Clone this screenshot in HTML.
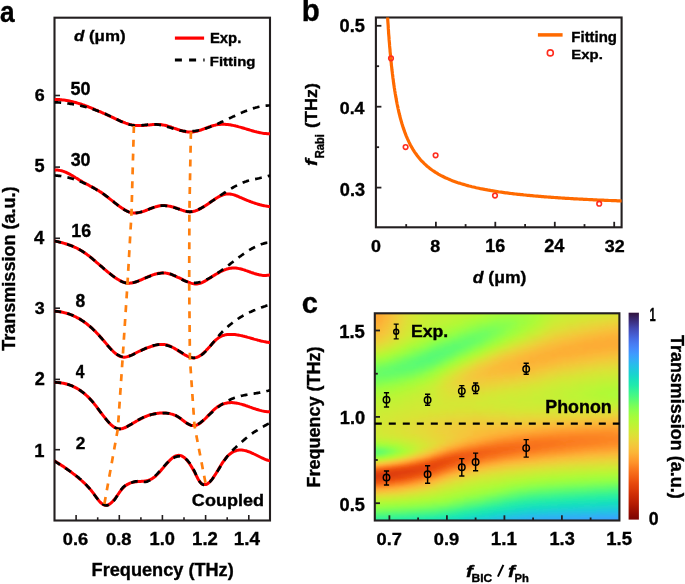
<!DOCTYPE html>
<html><head><meta charset="utf-8"><title>fig</title><style>
html,body{margin:0;padding:0;background:#fff;width:685px;height:584px;overflow:hidden;}
svg{display:block;will-change:transform;}
text{font-family:"Liberation Sans",sans-serif;stroke:#000;stroke-width:0.35px;}
</style></head><body>
<svg width="685" height="584" viewBox="0 0 685 584">
<defs>
<clipPath id="clipA"><rect x="54.5" y="17.7" width="215.5" height="502.8"/></clipPath>
<clipPath id="clipB"><rect x="375.9" y="17.5" width="245.7" height="209.8"/></clipPath>
</defs>
<rect x="54.5" y="17.7" width="215.5" height="502.8" fill="none" stroke="#231f20" stroke-width="2.1"/>
<line x1="54.5" y1="449.7" x2="60.0" y2="449.7" stroke="#231f20" stroke-width="1.6"/>
<line x1="54.5" y1="379.4" x2="60.0" y2="379.4" stroke="#231f20" stroke-width="1.6"/>
<line x1="54.5" y1="308.2" x2="60.0" y2="308.2" stroke="#231f20" stroke-width="1.6"/>
<line x1="54.5" y1="238.3" x2="60.0" y2="238.3" stroke="#231f20" stroke-width="1.6"/>
<line x1="54.5" y1="167.1" x2="60.0" y2="167.1" stroke="#231f20" stroke-width="1.6"/>
<line x1="54.5" y1="95.5" x2="60.0" y2="95.5" stroke="#231f20" stroke-width="1.6"/>
<line x1="76.1" y1="520.5" x2="76.1" y2="515.0" stroke="#231f20" stroke-width="1.6"/>
<line x1="97.7" y1="520.5" x2="97.7" y2="517.3" stroke="#231f20" stroke-width="1.6"/>
<line x1="119.3" y1="520.5" x2="119.3" y2="515.0" stroke="#231f20" stroke-width="1.6"/>
<line x1="140.9" y1="520.5" x2="140.9" y2="517.3" stroke="#231f20" stroke-width="1.6"/>
<line x1="162.4" y1="520.5" x2="162.4" y2="515.0" stroke="#231f20" stroke-width="1.6"/>
<line x1="184.0" y1="520.5" x2="184.0" y2="517.3" stroke="#231f20" stroke-width="1.6"/>
<line x1="205.6" y1="520.5" x2="205.6" y2="515.0" stroke="#231f20" stroke-width="1.6"/>
<line x1="227.2" y1="520.5" x2="227.2" y2="517.3" stroke="#231f20" stroke-width="1.6"/>
<line x1="248.8" y1="520.5" x2="248.8" y2="515.0" stroke="#231f20" stroke-width="1.6"/>
<text x="91.58" y="576.40" font-size="18.18" font-weight="bold" textLength="142.16" lengthAdjust="spacingAndGlyphs">Frequency (THz)</text>
<text transform="translate(14.50,350.78) rotate(-90)" font-size="17.75" font-weight="bold" textLength="164.30" lengthAdjust="spacingAndGlyphs">Transmission (a.u.)</text>
<text x="-0.09" y="21.70" font-size="30.14" font-weight="bold" textLength="14.62" lengthAdjust="spacingAndGlyphs">a</text>
<g clip-path="url(#clipA)" fill="none" stroke-linejoin="round">
<path d="M54.4 99.4 L55.4 99.4 L56.4 99.4 L57.4 99.5 L58.4 99.5 L59.4 99.6 L60.4 99.7 L61.4 99.8 L62.4 99.9 L63.4 100.0 L64.4 100.1 L65.4 100.3 L66.4 100.5 L67.4 100.6 L68.4 100.8 L69.4 101.0 L70.5 101.3 L71.5 101.5 L72.5 101.7 L73.5 102.0 L74.5 102.2 L75.5 102.5 L76.5 102.8 L77.5 103.1 L78.5 103.4 L79.5 103.7 L80.5 104.0 L81.5 104.3 L82.5 104.7 L83.5 105.0 L84.5 105.4 L85.5 105.8 L86.5 106.1 L87.5 106.5 L88.5 106.9 L89.5 107.3 L90.5 107.7 L91.5 108.1 L92.5 108.5 L93.5 108.9 L94.5 109.3 L95.5 109.8 L96.5 110.2 L97.5 110.6 L98.5 111.1 L99.5 111.5 L100.5 111.9 L101.6 112.4 L102.6 112.8 L103.6 113.3 L104.6 113.7 L105.6 114.2 L106.6 114.7 L107.6 115.1 L108.6 115.6 L109.6 116.0 L110.6 116.5 L111.6 117.0 L112.6 117.4 L113.6 117.9 L114.6 118.4 L115.6 118.8 L116.6 119.3 L117.6 119.7 L118.6 120.2 L119.6 120.6 L120.6 121.1 L121.6 121.5 L122.6 121.9 L123.6 122.3 L124.6 122.7 L125.6 123.1 L126.6 123.4 L127.6 123.8 L128.6 124.1 L129.6 124.4 L130.6 124.6 L131.7 124.9 L132.7 125.1 L133.7 125.2 L134.7 125.4 L135.7 125.5 L136.7 125.6 L137.7 125.6 L138.7 125.6 L139.7 125.6 L140.7 125.6 L141.7 125.6 L142.7 125.5 L143.7 125.4 L144.7 125.3 L145.7 125.3 L146.7 125.2 L147.7 125.1 L148.7 125.0 L149.7 124.9 L150.7 124.8 L151.7 124.7 L152.7 124.6 L153.7 124.5 L154.7 124.5 L155.7 124.4 L156.7 124.4 L157.7 124.4 L158.7 124.5 L159.7 124.5 L160.7 124.6 L161.7 124.7 L162.8 124.9 L163.8 125.1 L164.8 125.3 L165.8 125.5 L166.8 125.8 L167.8 126.1 L168.8 126.4 L169.8 126.7 L170.8 127.0 L171.8 127.4 L172.8 127.7 L173.8 128.1 L174.8 128.4 L175.8 128.8 L176.8 129.1 L177.8 129.5 L178.8 129.8 L179.8 130.1 L180.8 130.4 L181.8 130.7 L182.8 131.0 L183.8 131.2 L184.8 131.5 L185.8 131.7 L186.8 131.8 L187.8 131.9 L188.8 132.0 L189.8 132.1 L190.8 132.1 L191.8 132.0 L192.8 131.9 L193.9 131.8 L194.9 131.6 L195.9 131.4 L196.9 131.2 L197.9 130.9 L198.9 130.6 L199.9 130.3 L200.9 130.0 L201.9 129.6 L202.9 129.2 L203.9 128.9 L204.9 128.5 L205.9 128.1 L206.9 127.8 L207.9 127.4 L208.9 127.0 L209.9 126.7 L210.9 126.3 L211.9 126.0 L212.9 125.7 L213.9 125.4 L214.9 125.2 L215.9 124.9 L216.9 124.7 L217.9 124.6 L218.9 124.5 L219.9 124.4 L220.9 124.3 L221.9 124.3 L222.9 124.3 L224.0 124.3 L225.0 124.3 L226.0 124.4 L227.0 124.5 L228.0 124.6 L229.0 124.7 L230.0 124.8 L231.0 125.0 L232.0 125.2 L233.0 125.4 L234.0 125.6 L235.0 125.8 L236.0 126.1 L237.0 126.3 L238.0 126.6 L239.0 126.9 L240.0 127.1 L241.0 127.4 L242.0 127.7 L243.0 128.0 L244.0 128.3 L245.0 128.6 L246.0 128.9 L247.0 129.2 L248.0 129.5 L249.0 129.8 L250.0 130.1 L251.0 130.4 L252.0 130.7 L253.0 131.0 L254.0 131.3 L255.1 131.6 L256.1 131.8 L257.1 132.1 L258.1 132.3 L259.1 132.5 L260.1 132.7 L261.1 132.9 L262.1 133.1 L263.1 133.3 L264.1 133.4 L265.1 133.5 L266.1 133.6 L267.1 133.7 L268.1 133.8 L269.1 133.8 L270.1 133.8" stroke="#ff0000" stroke-width="3"/>
<path d="M54.6 170.2 L55.6 170.1 L56.6 170.1 L57.6 170.1 L58.6 170.2 L59.6 170.4 L60.6 170.6 L61.6 170.8 L62.6 171.1 L63.6 171.4 L64.6 171.8 L65.6 172.2 L66.6 172.7 L67.6 173.2 L68.6 173.7 L69.6 174.2 L70.6 174.7 L71.6 175.3 L72.6 175.9 L73.6 176.5 L74.6 177.1 L75.6 177.7 L76.7 178.3 L77.7 178.9 L78.7 179.6 L79.7 180.2 L80.7 180.8 L81.7 181.4 L82.7 182.0 L83.7 182.5 L84.7 183.1 L85.7 183.6 L86.7 184.2 L87.7 184.7 L88.7 185.2 L89.7 185.8 L90.7 186.3 L91.7 186.8 L92.7 187.4 L93.7 187.9 L94.7 188.5 L95.7 189.0 L96.7 189.6 L97.7 190.2 L98.7 190.8 L99.7 191.5 L100.7 192.1 L101.7 192.8 L102.7 193.5 L103.7 194.2 L104.7 195.0 L105.7 195.7 L106.7 196.5 L107.7 197.3 L108.7 198.0 L109.7 198.8 L110.7 199.6 L111.7 200.4 L112.7 201.2 L113.7 202.0 L114.7 202.8 L115.7 203.6 L116.7 204.3 L117.7 205.1 L118.7 205.8 L119.8 206.6 L120.8 207.3 L121.8 208.0 L122.8 208.6 L123.8 209.3 L124.8 209.9 L125.8 210.4 L126.8 211.0 L127.8 211.4 L128.8 211.9 L129.8 212.2 L130.8 212.5 L131.8 212.7 L132.8 212.9 L133.8 213.0 L134.8 213.0 L135.8 213.0 L136.8 212.9 L137.8 212.8 L138.8 212.6 L139.8 212.4 L140.8 212.2 L141.8 211.9 L142.8 211.6 L143.8 211.2 L144.8 210.9 L145.8 210.5 L146.8 210.1 L147.8 209.7 L148.8 209.3 L149.8 208.9 L150.8 208.5 L151.8 208.1 L152.8 207.8 L153.8 207.4 L154.8 207.1 L155.8 206.7 L156.8 206.5 L157.8 206.2 L158.8 206.0 L159.8 205.8 L160.8 205.7 L161.8 205.6 L162.9 205.6 L163.9 205.6 L164.9 205.6 L165.9 205.7 L166.9 205.8 L167.9 205.9 L168.9 206.1 L169.9 206.3 L170.9 206.5 L171.9 206.8 L172.9 207.0 L173.9 207.3 L174.9 207.6 L175.9 208.0 L176.9 208.3 L177.9 208.6 L178.9 209.0 L179.9 209.4 L180.9 209.7 L181.9 210.1 L182.9 210.4 L183.9 210.8 L184.9 211.1 L185.9 211.3 L186.9 211.6 L187.9 211.7 L188.9 211.8 L189.9 211.9 L190.9 211.8 L191.9 211.7 L192.9 211.6 L193.9 211.3 L194.9 211.1 L195.9 210.7 L196.9 210.3 L197.9 209.9 L198.9 209.4 L199.9 208.9 L200.9 208.4 L201.9 207.8 L202.9 207.2 L203.9 206.6 L204.9 205.9 L206.0 205.2 L207.0 204.6 L208.0 203.9 L209.0 203.2 L210.0 202.5 L211.0 201.8 L212.0 201.1 L213.0 200.4 L214.0 199.7 L215.0 199.0 L216.0 198.4 L217.0 197.8 L218.0 197.2 L219.0 196.7 L220.0 196.2 L221.0 195.7 L222.0 195.3 L223.0 194.9 L224.0 194.6 L225.0 194.3 L226.0 194.1 L227.0 194.0 L228.0 193.9 L229.0 193.9 L230.0 194.0 L231.0 194.2 L232.0 194.4 L233.0 194.6 L234.0 194.9 L235.0 195.2 L236.0 195.6 L237.0 196.0 L238.0 196.4 L239.0 196.8 L240.0 197.3 L241.0 197.7 L242.0 198.2 L243.0 198.6 L244.0 199.0 L245.0 199.5 L246.0 199.9 L247.0 200.3 L248.0 200.7 L249.1 201.1 L250.1 201.5 L251.1 201.9 L252.1 202.2 L253.1 202.6 L254.1 202.9 L255.1 203.3 L256.1 203.6 L257.1 203.9 L258.1 204.2 L259.1 204.5 L260.1 204.8 L261.1 205.0 L262.1 205.3 L263.1 205.5 L264.1 205.7 L265.1 205.9 L266.1 206.1 L267.1 206.2 L268.1 206.4 L269.1 206.5 L270.1 206.6" stroke="#ff0000" stroke-width="3"/>
<path d="M54.4 241.0 L55.4 241.2 L56.4 241.4 L57.4 241.6 L58.4 241.8 L59.4 242.1 L60.4 242.3 L61.4 242.6 L62.4 242.8 L63.4 243.1 L64.4 243.4 L65.4 243.7 L66.4 244.0 L67.4 244.3 L68.4 244.7 L69.4 245.0 L70.5 245.4 L71.5 245.8 L72.5 246.2 L73.5 246.6 L74.5 247.1 L75.5 247.5 L76.5 248.0 L77.5 248.5 L78.5 249.1 L79.5 249.6 L80.5 250.2 L81.5 250.8 L82.5 251.4 L83.5 252.0 L84.5 252.7 L85.5 253.4 L86.5 254.1 L87.5 254.9 L88.5 255.6 L89.5 256.4 L90.5 257.2 L91.5 258.0 L92.5 258.8 L93.5 259.7 L94.5 260.5 L95.5 261.4 L96.5 262.3 L97.5 263.1 L98.5 264.0 L99.5 264.9 L100.5 265.8 L101.6 266.6 L102.6 267.5 L103.6 268.4 L104.6 269.3 L105.6 270.1 L106.6 271.0 L107.6 271.8 L108.6 272.6 L109.6 273.4 L110.6 274.2 L111.6 275.0 L112.6 275.8 L113.6 276.5 L114.6 277.2 L115.6 277.9 L116.6 278.6 L117.6 279.2 L118.6 279.8 L119.6 280.4 L120.6 280.9 L121.6 281.4 L122.6 281.9 L123.6 282.2 L124.6 282.6 L125.6 282.8 L126.6 283.0 L127.6 283.2 L128.6 283.2 L129.6 283.2 L130.6 283.1 L131.7 283.0 L132.7 282.8 L133.7 282.6 L134.7 282.3 L135.7 282.0 L136.7 281.6 L137.7 281.3 L138.7 280.9 L139.7 280.4 L140.7 280.0 L141.7 279.6 L142.7 279.1 L143.7 278.7 L144.7 278.2 L145.7 277.8 L146.7 277.3 L147.7 276.9 L148.7 276.5 L149.7 276.1 L150.7 275.7 L151.7 275.3 L152.7 274.9 L153.7 274.6 L154.7 274.3 L155.7 274.0 L156.7 273.8 L157.7 273.5 L158.7 273.3 L159.7 273.2 L160.7 273.1 L161.7 273.0 L162.8 273.0 L163.8 273.0 L164.8 273.0 L165.8 273.1 L166.8 273.3 L167.8 273.5 L168.8 273.7 L169.8 274.0 L170.8 274.3 L171.8 274.7 L172.8 275.1 L173.8 275.5 L174.8 275.9 L175.8 276.3 L176.8 276.8 L177.8 277.3 L178.8 277.7 L179.8 278.2 L180.8 278.7 L181.8 279.2 L182.8 279.7 L183.8 280.2 L184.8 280.6 L185.8 281.1 L186.8 281.5 L187.8 281.9 L188.8 282.3 L189.8 282.7 L190.8 283.1 L191.8 283.4 L192.8 283.6 L193.9 283.8 L194.9 283.9 L195.9 284.0 L196.9 283.9 L197.9 283.8 L198.9 283.6 L199.9 283.3 L200.9 283.0 L201.9 282.6 L202.9 282.1 L203.9 281.6 L204.9 281.1 L205.9 280.5 L206.9 279.9 L207.9 279.3 L208.9 278.7 L209.9 278.0 L210.9 277.4 L211.9 276.8 L212.9 276.1 L213.9 275.5 L214.9 274.9 L215.9 274.3 L216.9 273.7 L217.9 273.1 L218.9 272.6 L219.9 272.0 L220.9 271.5 L221.9 271.0 L222.9 270.6 L224.0 270.1 L225.0 269.7 L226.0 269.4 L227.0 269.0 L228.0 268.8 L229.0 268.5 L230.0 268.3 L231.0 268.2 L232.0 268.0 L233.0 268.0 L234.0 268.0 L235.0 268.0 L236.0 268.1 L237.0 268.2 L238.0 268.4 L239.0 268.6 L240.0 268.8 L241.0 269.0 L242.0 269.3 L243.0 269.6 L244.0 269.9 L245.0 270.2 L246.0 270.6 L247.0 270.9 L248.0 271.3 L249.0 271.6 L250.0 272.0 L251.0 272.4 L252.0 272.7 L253.0 273.0 L254.0 273.4 L255.1 273.7 L256.1 274.0 L257.1 274.3 L258.1 274.5 L259.1 274.8 L260.1 275.0 L261.1 275.1 L262.1 275.3 L263.1 275.4 L264.1 275.4 L265.1 275.4 L266.1 275.4 L267.1 275.3 L268.1 275.2 L269.1 275.0 L270.1 274.7" stroke="#ff0000" stroke-width="3"/>
<path d="M54.4 311.2 L55.4 311.2 L56.4 311.3 L57.4 311.4 L58.4 311.5 L59.4 311.7 L60.4 311.8 L61.4 312.0 L62.4 312.2 L63.4 312.4 L64.4 312.7 L65.4 312.9 L66.4 313.2 L67.4 313.5 L68.4 313.8 L69.4 314.2 L70.5 314.6 L71.5 314.9 L72.5 315.4 L73.5 315.8 L74.5 316.3 L75.5 316.7 L76.5 317.3 L77.5 317.8 L78.5 318.3 L79.5 318.9 L80.5 319.5 L81.5 320.2 L82.5 320.8 L83.5 321.5 L84.5 322.2 L85.5 322.9 L86.5 323.7 L87.5 324.5 L88.5 325.3 L89.5 326.1 L90.5 327.0 L91.5 327.8 L92.5 328.7 L93.5 329.7 L94.5 330.7 L95.5 331.6 L96.5 332.7 L97.5 333.7 L98.5 334.8 L99.5 335.9 L100.5 337.0 L101.6 338.2 L102.6 339.4 L103.6 340.5 L104.6 341.7 L105.6 342.9 L106.6 344.1 L107.6 345.3 L108.6 346.5 L109.6 347.6 L110.6 348.7 L111.6 349.8 L112.6 350.8 L113.6 351.8 L114.6 352.7 L115.6 353.5 L116.6 354.3 L117.6 355.0 L118.6 355.6 L119.6 356.1 L120.6 356.6 L121.6 356.9 L122.6 357.1 L123.6 357.2 L124.6 357.2 L125.6 357.1 L126.6 356.9 L127.6 356.6 L128.6 356.3 L129.6 355.9 L130.6 355.5 L131.7 355.0 L132.7 354.5 L133.7 354.0 L134.7 353.5 L135.7 353.0 L136.7 352.5 L137.7 352.0 L138.7 351.5 L139.7 351.0 L140.7 350.6 L141.7 350.1 L142.7 349.7 L143.7 349.3 L144.7 348.9 L145.7 348.5 L146.7 348.1 L147.7 347.7 L148.7 347.3 L149.7 347.0 L150.7 346.6 L151.7 346.3 L152.7 346.0 L153.7 345.7 L154.7 345.4 L155.7 345.1 L156.7 344.9 L157.7 344.7 L158.7 344.6 L159.7 344.5 L160.7 344.4 L161.7 344.4 L162.8 344.4 L163.8 344.5 L164.8 344.6 L165.8 344.8 L166.8 345.0 L167.8 345.3 L168.8 345.6 L169.8 346.0 L170.8 346.5 L171.8 347.0 L172.8 347.5 L173.8 348.0 L174.8 348.6 L175.8 349.2 L176.8 349.8 L177.8 350.5 L178.8 351.1 L179.8 351.7 L180.8 352.4 L181.8 353.0 L182.8 353.6 L183.8 354.2 L184.8 354.8 L185.8 355.3 L186.8 355.9 L187.8 356.4 L188.8 356.8 L189.8 357.2 L190.8 357.5 L191.8 357.8 L192.8 357.9 L193.9 357.9 L194.9 357.8 L195.9 357.6 L196.9 357.3 L197.9 356.9 L198.9 356.4 L199.9 355.8 L200.9 355.1 L201.9 354.3 L202.9 353.5 L203.9 352.6 L204.9 351.7 L205.9 350.7 L206.9 349.6 L207.9 348.6 L208.9 347.5 L209.9 346.4 L210.9 345.2 L211.9 344.1 L212.9 343.0 L213.9 341.9 L214.9 340.9 L215.9 339.9 L216.9 339.1 L217.9 338.3 L218.9 337.6 L219.9 336.9 L220.9 336.4 L221.9 335.9 L222.9 335.5 L224.0 335.2 L225.0 334.9 L226.0 334.7 L227.0 334.6 L228.0 334.5 L229.0 334.4 L230.0 334.4 L231.0 334.4 L232.0 334.4 L233.0 334.4 L234.0 334.5 L235.0 334.6 L236.0 334.7 L237.0 334.9 L238.0 335.0 L239.0 335.2 L240.0 335.4 L241.0 335.6 L242.0 335.8 L243.0 336.1 L244.0 336.3 L245.0 336.6 L246.0 336.8 L247.0 337.1 L248.0 337.4 L249.0 337.6 L250.0 337.9 L251.0 338.2 L252.0 338.5 L253.0 338.8 L254.0 339.1 L255.1 339.4 L256.1 339.6 L257.1 339.9 L258.1 340.2 L259.1 340.4 L260.1 340.7 L261.1 341.0 L262.1 341.2 L263.1 341.4 L264.1 341.6 L265.1 341.8 L266.1 342.0 L267.1 342.2 L268.1 342.3 L269.1 342.5 L270.1 342.6" stroke="#ff0000" stroke-width="3"/>
<path d="M54.4 382.3 L55.4 382.4 L56.4 382.4 L57.4 382.5 L58.4 382.5 L59.4 382.7 L60.4 382.8 L61.4 382.9 L62.4 383.1 L63.4 383.3 L64.4 383.5 L65.4 383.7 L66.4 384.0 L67.4 384.3 L68.4 384.6 L69.4 384.9 L70.5 385.3 L71.5 385.7 L72.5 386.1 L73.5 386.6 L74.5 387.1 L75.5 387.6 L76.5 388.1 L77.5 388.7 L78.5 389.3 L79.5 390.0 L80.5 390.6 L81.5 391.4 L82.5 392.1 L83.5 392.9 L84.5 393.7 L85.5 394.6 L86.5 395.5 L87.5 396.4 L88.5 397.4 L89.5 398.4 L90.5 399.5 L91.5 400.6 L92.5 401.7 L93.5 402.9 L94.5 404.2 L95.5 405.4 L96.5 406.7 L97.5 408.1 L98.5 409.4 L99.5 410.8 L100.5 412.1 L101.6 413.5 L102.6 414.8 L103.6 416.1 L104.6 417.4 L105.6 418.7 L106.6 419.9 L107.6 421.1 L108.6 422.2 L109.6 423.3 L110.6 424.3 L111.6 425.2 L112.6 426.0 L113.6 426.7 L114.6 427.4 L115.6 427.9 L116.6 428.3 L117.6 428.6 L118.6 428.8 L119.6 428.9 L120.6 428.8 L121.6 428.7 L122.6 428.5 L123.6 428.1 L124.6 427.8 L125.6 427.3 L126.6 426.8 L127.6 426.3 L128.6 425.7 L129.6 425.2 L130.6 424.6 L131.7 424.0 L132.7 423.4 L133.7 422.8 L134.7 422.2 L135.7 421.6 L136.7 421.0 L137.7 420.5 L138.7 419.9 L139.7 419.3 L140.7 418.8 L141.7 418.3 L142.7 417.8 L143.7 417.3 L144.7 416.9 L145.7 416.5 L146.7 416.1 L147.7 415.7 L148.7 415.3 L149.7 415.0 L150.7 414.7 L151.7 414.4 L152.7 414.2 L153.7 413.9 L154.7 413.7 L155.7 413.5 L156.7 413.4 L157.7 413.3 L158.7 413.2 L159.7 413.1 L160.7 413.0 L161.7 413.0 L162.8 413.0 L163.8 413.0 L164.8 413.0 L165.8 413.1 L166.8 413.2 L167.8 413.3 L168.8 413.5 L169.8 413.6 L170.8 413.9 L171.8 414.1 L172.8 414.4 L173.8 414.8 L174.8 415.2 L175.8 415.6 L176.8 416.1 L177.8 416.7 L178.8 417.3 L179.8 418.0 L180.8 418.7 L181.8 419.5 L182.8 420.3 L183.8 421.0 L184.8 421.8 L185.8 422.5 L186.8 423.2 L187.8 423.8 L188.8 424.4 L189.8 424.8 L190.8 425.2 L191.8 425.5 L192.8 425.6 L193.9 425.6 L194.9 425.5 L195.9 425.3 L196.9 425.0 L197.9 424.5 L198.9 423.9 L199.9 423.3 L200.9 422.5 L201.9 421.7 L202.9 420.9 L203.9 419.9 L204.9 419.0 L205.9 418.0 L206.9 416.9 L207.9 415.9 L208.9 414.8 L209.9 413.8 L210.9 412.7 L211.9 411.7 L212.9 410.7 L213.9 409.8 L214.9 408.9 L215.9 408.1 L216.9 407.3 L217.9 406.6 L218.9 406.0 L219.9 405.4 L220.9 404.9 L221.9 404.5 L222.9 404.1 L224.0 403.7 L225.0 403.4 L226.0 403.2 L227.0 403.0 L228.0 402.8 L229.0 402.7 L230.0 402.7 L231.0 402.6 L232.0 402.6 L233.0 402.7 L234.0 402.8 L235.0 402.9 L236.0 403.0 L237.0 403.2 L238.0 403.4 L239.0 403.6 L240.0 403.9 L241.0 404.1 L242.0 404.4 L243.0 404.7 L244.0 405.0 L245.0 405.3 L246.0 405.7 L247.0 406.0 L248.0 406.4 L249.0 406.7 L250.0 407.1 L251.0 407.4 L252.0 407.8 L253.0 408.2 L254.0 408.5 L255.1 408.8 L256.1 409.2 L257.1 409.5 L258.1 409.8 L259.1 410.1 L260.1 410.4 L261.1 410.6 L262.1 410.9 L263.1 411.1 L264.1 411.3 L265.1 411.4 L266.1 411.6 L267.1 411.7 L268.1 411.8 L269.1 411.8 L270.1 411.8" stroke="#ff0000" stroke-width="3"/>
<path d="M54.4 460.9 L55.4 461.5 L56.4 462.1 L57.4 462.7 L58.4 463.3 L59.4 463.9 L60.4 464.6 L61.4 465.2 L62.4 465.9 L63.4 466.5 L64.4 467.2 L65.4 467.9 L66.4 468.6 L67.4 469.3 L68.4 470.1 L69.4 470.8 L70.5 471.5 L71.5 472.3 L72.5 473.1 L73.5 473.9 L74.5 474.6 L75.5 475.4 L76.5 476.3 L77.5 477.1 L78.5 477.9 L79.5 478.8 L80.5 479.6 L81.5 480.5 L82.5 481.4 L83.5 482.3 L84.5 483.2 L85.5 484.2 L86.5 485.2 L87.5 486.2 L88.5 487.3 L89.5 488.4 L90.5 489.6 L91.5 490.8 L92.5 492.1 L93.5 493.4 L94.5 494.8 L95.5 496.2 L96.5 497.6 L97.5 498.9 L98.5 500.2 L99.5 501.4 L100.5 502.5 L101.6 503.4 L102.6 504.2 L103.6 504.8 L104.6 505.1 L105.6 505.3 L106.6 505.3 L107.6 505.0 L108.6 504.6 L109.6 504.1 L110.6 503.3 L111.6 502.5 L112.6 501.5 L113.6 500.3 L114.6 499.1 L115.6 497.8 L116.6 496.4 L117.6 495.0 L118.6 493.6 L119.6 492.1 L120.6 490.8 L121.6 489.5 L122.6 488.4 L123.6 487.4 L124.6 486.4 L125.6 485.6 L126.6 484.9 L127.6 484.3 L128.6 483.8 L129.6 483.3 L130.6 482.9 L131.7 482.6 L132.7 482.3 L133.7 482.1 L134.7 481.9 L135.7 481.8 L136.7 481.7 L137.7 481.6 L138.7 481.5 L139.7 481.5 L140.7 481.4 L141.7 481.3 L142.7 481.3 L143.7 481.2 L144.7 481.1 L145.7 480.9 L146.7 480.7 L147.7 480.5 L148.7 480.2 L149.7 479.8 L150.7 479.4 L151.7 478.9 L152.7 478.3 L153.7 477.6 L154.7 476.8 L155.7 476.0 L156.7 475.0 L157.7 474.0 L158.7 473.0 L159.7 471.9 L160.7 470.7 L161.7 469.5 L162.8 468.3 L163.8 467.1 L164.8 465.9 L165.8 464.7 L166.8 463.6 L167.8 462.4 L168.8 461.4 L169.8 460.3 L170.8 459.4 L171.8 458.5 L172.8 457.7 L173.8 457.0 L174.8 456.4 L175.8 455.9 L176.8 455.6 L177.8 455.4 L178.8 455.3 L179.8 455.4 L180.8 455.6 L181.8 456.0 L182.8 456.6 L183.8 457.2 L184.8 458.0 L185.8 459.0 L186.8 460.1 L187.8 461.3 L188.8 462.6 L189.8 464.0 L190.8 465.6 L191.8 467.3 L192.8 469.0 L193.9 470.9 L194.9 472.9 L195.9 474.9 L196.9 476.8 L197.9 478.7 L198.9 480.4 L199.9 481.8 L200.9 482.9 L201.9 483.8 L202.9 484.3 L203.9 484.6 L204.9 484.6 L205.9 484.5 L206.9 484.1 L207.9 483.5 L208.9 482.7 L209.9 481.7 L210.9 480.6 L211.9 479.4 L212.9 478.1 L213.9 476.6 L214.9 475.1 L215.9 473.6 L216.9 471.9 L217.9 470.3 L218.9 468.6 L219.9 467.0 L220.9 465.3 L221.9 463.7 L222.9 462.2 L224.0 460.7 L225.0 459.3 L226.0 458.0 L227.0 456.8 L228.0 455.8 L229.0 454.8 L230.0 453.9 L231.0 453.2 L232.0 452.5 L233.0 451.9 L234.0 451.4 L235.0 451.0 L236.0 450.7 L237.0 450.4 L238.0 450.2 L239.0 450.1 L240.0 450.0 L241.0 450.0 L242.0 450.1 L243.0 450.2 L244.0 450.4 L245.0 450.6 L246.0 450.8 L247.0 451.1 L248.0 451.5 L249.0 451.8 L250.0 452.2 L251.0 452.6 L252.0 453.1 L253.0 453.5 L254.0 454.0 L255.1 454.5 L256.1 455.0 L257.1 455.5 L258.1 456.0 L259.1 456.5 L260.1 457.0 L261.1 457.5 L262.1 458.0 L263.1 458.4 L264.1 458.9 L265.1 459.3 L266.1 459.7 L267.1 460.0 L268.1 460.4 L269.1 460.6 L270.1 460.9" stroke="#ff0000" stroke-width="3"/>
<path d="M54.4 102.3 L55.4 102.3 L56.4 102.4 L57.4 102.4 L58.4 102.5 L59.4 102.5 L60.4 102.6 L61.4 102.7 L62.4 102.8 L63.4 102.9 L64.4 103.0 L65.4 103.1 L66.4 103.2 L67.4 103.4 L68.4 103.5 L69.4 103.6 L70.5 103.8 L71.5 103.9 L72.5 104.1 L73.5 104.3 L74.5 104.4 L75.5 104.6 L76.5 104.8 L77.5 105.0 L78.5 105.2 L79.5 105.5 L80.5 105.7 L81.5 105.9 L82.5 106.2 L83.5 106.4 L84.5 106.7 L85.5 106.9 L86.5 107.2 L87.5 107.5 L88.5 107.8 L89.5 108.1 L90.5 108.4 L91.5 108.7 L92.5 109.0 L93.5 109.4 L94.5 109.7 L95.5 110.1 L96.5 110.4 L97.5 110.8 L98.5 111.2 L99.5 111.5 L100.5 111.9 L101.6 112.3 L102.6 112.8 L103.6 113.2 L104.6 113.6 L105.6 114.0 L106.6 114.5 L107.6 114.9 L108.6 115.4 L109.6 115.9 L110.6 116.4 L111.6 116.8 L112.6 117.3 L113.6 117.8 L114.6 118.3 L115.6 118.8 L116.6 119.3 L117.6 119.8 L118.6 120.3 L119.6 120.8 L120.6 121.2 L121.6 121.7 L122.6 122.1 L123.6 122.5 L124.6 122.9 L125.6 123.3 L126.6 123.7 L127.6 124.0 L128.6 124.3 L129.6 124.6 L130.6 124.8 L131.7 125.0 L132.7 125.2 L133.7 125.4 L134.7 125.5 L135.7 125.5 L136.7 125.5 L137.7 125.5 L138.7 125.5 L139.7 125.5 L140.7 125.4 L141.7 125.3 L142.7 125.2 L143.7 125.1 L144.7 125.0 L145.7 124.9 L146.7 124.8 L147.7 124.6 L148.7 124.5 L149.7 124.5 L150.7 124.4 L151.7 124.3 L152.7 124.3 L153.7 124.3 L154.7 124.3 L155.7 124.4 L156.7 124.4 L157.7 124.6 L158.7 124.7 L159.7 124.9 L160.7 125.1 L161.7 125.3 L162.8 125.5 L163.8 125.8 L164.8 126.0 L165.8 126.3 L166.8 126.6 L167.8 126.9 L168.8 127.2 L169.8 127.5 L170.8 127.8 L171.8 128.1 L172.8 128.4 L173.8 128.8 L174.8 129.0 L175.8 129.3 L176.8 129.6 L177.8 129.9 L178.8 130.1 L179.8 130.4 L180.8 130.6 L181.8 130.8 L182.8 131.0 L183.8 131.1 L184.8 131.2 L185.8 131.3 L186.8 131.4 L187.8 131.4 L188.8 131.4 L189.8 131.4 L190.8 131.4 L191.8 131.3 L192.8 131.2 L193.9 131.1 L194.9 131.0 L195.9 130.8 L196.9 130.7 L197.9 130.5 L198.9 130.3 L199.9 130.1 L200.9 129.8 L201.9 129.5 L202.9 129.3 L203.9 129.0 L204.9 128.7 L205.9 128.4 L206.9 128.0 L207.9 127.7 L208.9 127.3 L209.9 127.0 L210.9 126.6 L211.9 126.2 L212.9 125.8 L213.9 125.4 L214.9 125.0 L215.9 124.5 L216.9 124.1 L217.9 123.7 L218.9 123.2 L219.9 122.8 L220.9 122.3 L221.9 121.8 L222.9 121.4 L224.0 120.9 L225.0 120.4 L226.0 120.0 L227.0 119.5 L228.0 119.0 L229.0 118.5 L230.0 118.1 L231.0 117.6 L232.0 117.1 L233.0 116.6 L234.0 116.2 L235.0 115.7 L236.0 115.2 L237.0 114.8 L238.0 114.3 L239.0 113.9 L240.0 113.4 L241.0 113.0 L242.0 112.6 L243.0 112.1 L244.0 111.7 L245.0 111.3 L246.0 110.9 L247.0 110.5 L248.0 110.1 L249.0 109.8 L250.0 109.4 L251.0 109.1 L252.0 108.7 L253.0 108.4 L254.0 108.1 L255.1 107.8 L256.1 107.5 L257.1 107.3 L258.1 107.0 L259.1 106.8 L260.1 106.6 L261.1 106.4 L262.1 106.2 L263.1 106.1 L264.1 105.9 L265.1 105.8 L266.1 105.7 L267.1 105.6 L268.1 105.5 L269.1 105.5 L270.1 105.5" stroke="#000" stroke-width="2.7" stroke-dasharray="6.8 6.2"/>
<path d="M54.6 175.4 L55.6 175.5 L56.6 175.6 L57.6 175.7 L58.6 175.8 L59.6 175.9 L60.6 176.0 L61.6 176.2 L62.6 176.4 L63.6 176.6 L64.6 176.8 L65.6 177.0 L66.6 177.2 L67.6 177.4 L68.6 177.7 L69.6 177.9 L70.6 178.2 L71.6 178.5 L72.6 178.8 L73.6 179.1 L74.6 179.5 L75.6 179.8 L76.7 180.2 L77.7 180.5 L78.7 180.9 L79.7 181.3 L80.7 181.7 L81.7 182.1 L82.7 182.5 L83.7 183.0 L84.7 183.4 L85.7 183.9 L86.7 184.4 L87.7 184.9 L88.7 185.3 L89.7 185.9 L90.7 186.4 L91.7 186.9 L92.7 187.5 L93.7 188.0 L94.7 188.6 L95.7 189.2 L96.7 189.8 L97.7 190.4 L98.7 191.0 L99.7 191.6 L100.7 192.2 L101.7 192.9 L102.7 193.5 L103.7 194.2 L104.7 194.9 L105.7 195.6 L106.7 196.3 L107.7 197.0 L108.7 197.8 L109.7 198.6 L110.7 199.4 L111.7 200.2 L112.7 201.0 L113.7 201.8 L114.7 202.7 L115.7 203.5 L116.7 204.3 L117.7 205.1 L118.7 205.9 L119.8 206.7 L120.8 207.5 L121.8 208.2 L122.8 208.9 L123.8 209.5 L124.8 210.1 L125.8 210.6 L126.8 211.1 L127.8 211.6 L128.8 212.0 L129.8 212.3 L130.8 212.6 L131.8 212.8 L132.8 212.9 L133.8 213.0 L134.8 213.0 L135.8 212.9 L136.8 212.8 L137.8 212.7 L138.8 212.5 L139.8 212.3 L140.8 212.0 L141.8 211.7 L142.8 211.4 L143.8 211.1 L144.8 210.7 L145.8 210.3 L146.8 210.0 L147.8 209.6 L148.8 209.2 L149.8 208.8 L150.8 208.4 L151.8 208.0 L152.8 207.7 L153.8 207.3 L154.8 207.0 L155.8 206.7 L156.8 206.4 L157.8 206.2 L158.8 206.0 L159.8 205.8 L160.8 205.7 L161.8 205.6 L162.9 205.6 L163.9 205.6 L164.9 205.7 L165.9 205.8 L166.9 205.9 L167.9 206.0 L168.9 206.2 L169.9 206.4 L170.9 206.7 L171.9 206.9 L172.9 207.2 L173.9 207.5 L174.9 207.8 L175.9 208.1 L176.9 208.4 L177.9 208.8 L178.9 209.1 L179.9 209.5 L180.9 209.8 L181.9 210.2 L182.9 210.5 L183.9 210.8 L184.9 211.1 L185.9 211.3 L186.9 211.5 L187.9 211.6 L188.9 211.7 L189.9 211.8 L190.9 211.7 L191.9 211.6 L192.9 211.4 L193.9 211.2 L194.9 210.9 L195.9 210.6 L196.9 210.2 L197.9 209.8 L198.9 209.3 L199.9 208.8 L200.9 208.3 L201.9 207.7 L202.9 207.1 L203.9 206.5 L204.9 205.9 L206.0 205.2 L207.0 204.6 L208.0 203.9 L209.0 203.2 L210.0 202.5 L211.0 201.8 L212.0 201.2 L213.0 200.5 L214.0 199.8 L215.0 199.1 L216.0 198.4 L217.0 197.7 L218.0 197.0 L219.0 196.4 L220.0 195.7 L221.0 195.0 L222.0 194.3 L223.0 193.7 L224.0 193.0 L225.0 192.4 L226.0 191.7 L227.0 191.1 L228.0 190.5 L229.0 189.9 L230.0 189.2 L231.0 188.7 L232.0 188.1 L233.0 187.5 L234.0 186.9 L235.0 186.4 L236.0 185.9 L237.0 185.4 L238.0 184.9 L239.0 184.4 L240.0 183.9 L241.0 183.4 L242.0 183.0 L243.0 182.6 L244.0 182.2 L245.0 181.8 L246.0 181.5 L247.0 181.1 L248.0 180.8 L249.1 180.5 L250.1 180.3 L251.1 180.0 L252.1 179.8 L253.1 179.5 L254.1 179.3 L255.1 179.1 L256.1 178.9 L257.1 178.7 L258.1 178.5 L259.1 178.3 L260.1 178.0 L261.1 177.8 L262.1 177.6 L263.1 177.4 L264.1 177.2 L265.1 176.9 L266.1 176.7 L267.1 176.4 L268.1 176.1 L269.1 175.8 L270.1 175.5" stroke="#000" stroke-width="2.7" stroke-dasharray="6.8 6.2"/>
<path d="M54.4 241.0 L55.4 241.2 L56.4 241.4 L57.4 241.6 L58.4 241.8 L59.4 242.1 L60.4 242.3 L61.4 242.6 L62.4 242.8 L63.4 243.1 L64.4 243.4 L65.4 243.7 L66.4 244.0 L67.4 244.3 L68.4 244.7 L69.4 245.0 L70.5 245.4 L71.5 245.8 L72.5 246.2 L73.5 246.6 L74.5 247.1 L75.5 247.5 L76.5 248.0 L77.5 248.5 L78.5 249.1 L79.5 249.6 L80.5 250.2 L81.5 250.8 L82.5 251.4 L83.5 252.1 L84.5 252.7 L85.5 253.4 L86.5 254.1 L87.5 254.9 L88.5 255.6 L89.5 256.4 L90.5 257.2 L91.5 258.0 L92.5 258.8 L93.5 259.7 L94.5 260.5 L95.5 261.4 L96.5 262.2 L97.5 263.1 L98.5 264.0 L99.5 264.9 L100.5 265.7 L101.6 266.6 L102.6 267.5 L103.6 268.4 L104.6 269.2 L105.6 270.1 L106.6 270.9 L107.6 271.8 L108.6 272.6 L109.6 273.4 L110.6 274.2 L111.6 275.0 L112.6 275.8 L113.6 276.5 L114.6 277.2 L115.6 277.9 L116.6 278.6 L117.6 279.2 L118.6 279.9 L119.6 280.4 L120.6 281.0 L121.6 281.5 L122.6 281.9 L123.6 282.3 L124.6 282.6 L125.6 282.9 L126.6 283.1 L127.6 283.2 L128.6 283.3 L129.6 283.2 L130.6 283.1 L131.7 283.0 L132.7 282.8 L133.7 282.5 L134.7 282.2 L135.7 281.9 L136.7 281.6 L137.7 281.2 L138.7 280.8 L139.7 280.3 L140.7 279.9 L141.7 279.5 L142.7 279.1 L143.7 278.6 L144.7 278.2 L145.7 277.8 L146.7 277.4 L147.7 277.0 L148.7 276.7 L149.7 276.3 L150.7 275.9 L151.7 275.6 L152.7 275.3 L153.7 274.9 L154.7 274.6 L155.7 274.3 L156.7 274.1 L157.7 273.8 L158.7 273.6 L159.7 273.4 L160.7 273.2 L161.7 273.0 L162.8 272.9 L163.8 272.8 L164.8 272.8 L165.8 272.9 L166.8 273.0 L167.8 273.2 L168.8 273.5 L169.8 273.8 L170.8 274.1 L171.8 274.5 L172.8 274.9 L173.8 275.4 L174.8 275.8 L175.8 276.3 L176.8 276.9 L177.8 277.4 L178.8 277.9 L179.8 278.4 L180.8 279.0 L181.8 279.5 L182.8 280.0 L183.8 280.5 L184.8 280.9 L185.8 281.3 L186.8 281.7 L187.8 282.0 L188.8 282.3 L189.8 282.5 L190.8 282.7 L191.8 282.8 L192.8 282.9 L193.9 282.9 L194.9 282.9 L195.9 282.8 L196.9 282.7 L197.9 282.5 L198.9 282.3 L199.9 282.1 L200.9 281.8 L201.9 281.5 L202.9 281.1 L203.9 280.8 L204.9 280.3 L205.9 279.9 L206.9 279.4 L207.9 278.9 L208.9 278.4 L209.9 277.9 L210.9 277.3 L211.9 276.7 L212.9 276.1 L213.9 275.5 L214.9 274.9 L215.9 274.3 L216.9 273.6 L217.9 272.9 L218.9 272.2 L219.9 271.5 L220.9 270.8 L221.9 270.1 L222.9 269.4 L224.0 268.6 L225.0 267.9 L226.0 267.1 L227.0 266.4 L228.0 265.6 L229.0 264.9 L230.0 264.1 L231.0 263.3 L232.0 262.5 L233.0 261.8 L234.0 261.0 L235.0 260.3 L236.0 259.5 L237.0 258.7 L238.0 258.0 L239.0 257.2 L240.0 256.5 L241.0 255.8 L242.0 255.0 L243.0 254.3 L244.0 253.6 L245.0 253.0 L246.0 252.3 L247.0 251.6 L248.0 251.0 L249.0 250.3 L250.0 249.7 L251.0 249.1 L252.0 248.5 L253.0 248.0 L254.0 247.4 L255.1 246.9 L256.1 246.4 L257.1 246.0 L258.1 245.5 L259.1 245.1 L260.1 244.7 L261.1 244.3 L262.1 244.0 L263.1 243.7 L264.1 243.4 L265.1 243.1 L266.1 242.9 L267.1 242.7 L268.1 242.6 L269.1 242.4 L270.1 242.4" stroke="#000" stroke-width="2.7" stroke-dasharray="6.8 6.2"/>
<path d="M54.4 311.2 L55.4 311.3 L56.4 311.3 L57.4 311.4 L58.4 311.5 L59.4 311.7 L60.4 311.8 L61.4 312.0 L62.4 312.2 L63.4 312.4 L64.4 312.6 L65.4 312.9 L66.4 313.2 L67.4 313.5 L68.4 313.8 L69.4 314.1 L70.5 314.5 L71.5 314.9 L72.5 315.3 L73.5 315.8 L74.5 316.2 L75.5 316.7 L76.5 317.2 L77.5 317.7 L78.5 318.3 L79.5 318.9 L80.5 319.5 L81.5 320.1 L82.5 320.8 L83.5 321.4 L84.5 322.1 L85.5 322.9 L86.5 323.6 L87.5 324.4 L88.5 325.2 L89.5 326.1 L90.5 326.9 L91.5 327.8 L92.5 328.8 L93.5 329.7 L94.5 330.7 L95.5 331.7 L96.5 332.7 L97.5 333.8 L98.5 334.9 L99.5 336.0 L100.5 337.2 L101.6 338.3 L102.6 339.5 L103.6 340.8 L104.6 342.0 L105.6 343.2 L106.6 344.4 L107.6 345.6 L108.6 346.7 L109.6 347.9 L110.6 348.9 L111.6 350.0 L112.6 350.9 L113.6 351.9 L114.6 352.7 L115.6 353.5 L116.6 354.2 L117.6 354.8 L118.6 355.3 L119.6 355.8 L120.6 356.2 L121.6 356.5 L122.6 356.7 L123.6 356.8 L124.6 356.8 L125.6 356.8 L126.6 356.7 L127.6 356.5 L128.6 356.2 L129.6 355.9 L130.6 355.6 L131.7 355.2 L132.7 354.8 L133.7 354.3 L134.7 353.8 L135.7 353.4 L136.7 352.8 L137.7 352.3 L138.7 351.8 L139.7 351.3 L140.7 350.8 L141.7 350.3 L142.7 349.7 L143.7 349.2 L144.7 348.8 L145.7 348.3 L146.7 347.8 L147.7 347.4 L148.7 347.0 L149.7 346.6 L150.7 346.3 L151.7 345.9 L152.7 345.6 L153.7 345.4 L154.7 345.2 L155.7 345.0 L156.7 344.8 L157.7 344.7 L158.7 344.6 L159.7 344.6 L160.7 344.6 L161.7 344.6 L162.8 344.7 L163.8 344.8 L164.8 345.0 L165.8 345.2 L166.8 345.4 L167.8 345.7 L168.8 346.0 L169.8 346.3 L170.8 346.7 L171.8 347.1 L172.8 347.5 L173.8 348.0 L174.8 348.5 L175.8 349.0 L176.8 349.6 L177.8 350.1 L178.8 350.8 L179.8 351.4 L180.8 352.0 L181.8 352.7 L182.8 353.3 L183.8 354.0 L184.8 354.6 L185.8 355.2 L186.8 355.7 L187.8 356.2 L188.8 356.7 L189.8 357.1 L190.8 357.4 L191.8 357.6 L192.8 357.8 L193.9 357.8 L194.9 357.8 L195.9 357.6 L196.9 357.4 L197.9 357.1 L198.9 356.6 L199.9 356.1 L200.9 355.5 L201.9 354.7 L202.9 353.9 L203.9 353.1 L204.9 352.1 L205.9 351.1 L206.9 350.0 L207.9 348.9 L208.9 347.7 L209.9 346.5 L210.9 345.3 L211.9 344.1 L212.9 342.8 L213.9 341.6 L214.9 340.3 L215.9 339.1 L216.9 337.9 L217.9 336.7 L218.9 335.6 L219.9 334.5 L220.9 333.4 L221.9 332.3 L222.9 331.3 L224.0 330.3 L225.0 329.3 L226.0 328.3 L227.0 327.4 L228.0 326.5 L229.0 325.6 L230.0 324.8 L231.0 324.0 L232.0 323.2 L233.0 322.4 L234.0 321.6 L235.0 320.9 L236.0 320.2 L237.0 319.5 L238.0 318.8 L239.0 318.2 L240.0 317.5 L241.0 316.9 L242.0 316.3 L243.0 315.7 L244.0 315.2 L245.0 314.6 L246.0 314.1 L247.0 313.6 L248.0 313.1 L249.0 312.6 L250.0 312.1 L251.0 311.7 L252.0 311.2 L253.0 310.8 L254.0 310.3 L255.1 309.9 L256.1 309.5 L257.1 309.1 L258.1 308.7 L259.1 308.3 L260.1 308.0 L261.1 307.6 L262.1 307.2 L263.1 306.9 L264.1 306.5 L265.1 306.2 L266.1 305.8 L267.1 305.5 L268.1 305.2 L269.1 304.8 L270.1 304.5" stroke="#000" stroke-width="2.7" stroke-dasharray="6.8 6.2"/>
<path d="M54.4 382.3 L55.4 382.4 L56.4 382.4 L57.4 382.5 L58.4 382.6 L59.4 382.7 L60.4 382.8 L61.4 382.9 L62.4 383.1 L63.4 383.3 L64.4 383.5 L65.4 383.7 L66.4 384.0 L67.4 384.3 L68.4 384.6 L69.4 384.9 L70.5 385.3 L71.5 385.7 L72.5 386.1 L73.5 386.6 L74.5 387.1 L75.5 387.6 L76.5 388.1 L77.5 388.7 L78.5 389.3 L79.5 390.0 L80.5 390.6 L81.5 391.4 L82.5 392.1 L83.5 392.9 L84.5 393.7 L85.5 394.6 L86.5 395.5 L87.5 396.4 L88.5 397.4 L89.5 398.4 L90.5 399.5 L91.5 400.6 L92.5 401.7 L93.5 402.9 L94.5 404.2 L95.5 405.4 L96.5 406.7 L97.5 408.1 L98.5 409.4 L99.5 410.8 L100.5 412.1 L101.6 413.5 L102.6 414.8 L103.6 416.1 L104.6 417.4 L105.6 418.7 L106.6 419.9 L107.6 421.1 L108.6 422.2 L109.6 423.3 L110.6 424.3 L111.6 425.2 L112.6 426.0 L113.6 426.8 L114.6 427.4 L115.6 427.9 L116.6 428.4 L117.6 428.7 L118.6 428.9 L119.6 428.9 L120.6 428.9 L121.6 428.7 L122.6 428.5 L123.6 428.2 L124.6 427.8 L125.6 427.4 L126.6 426.9 L127.6 426.3 L128.6 425.8 L129.6 425.2 L130.6 424.6 L131.7 424.0 L132.7 423.4 L133.7 422.7 L134.7 422.1 L135.7 421.5 L136.7 420.9 L137.7 420.3 L138.7 419.7 L139.7 419.2 L140.7 418.6 L141.7 418.1 L142.7 417.6 L143.7 417.2 L144.7 416.8 L145.7 416.4 L146.7 416.0 L147.7 415.7 L148.7 415.4 L149.7 415.1 L150.7 414.8 L151.7 414.5 L152.7 414.3 L153.7 414.1 L154.7 413.9 L155.7 413.8 L156.7 413.6 L157.7 413.5 L158.7 413.4 L159.7 413.3 L160.7 413.2 L161.7 413.2 L162.8 413.1 L163.8 413.1 L164.8 413.1 L165.8 413.1 L166.8 413.2 L167.8 413.3 L168.8 413.4 L169.8 413.6 L170.8 413.8 L171.8 414.0 L172.8 414.3 L173.8 414.7 L174.8 415.1 L175.8 415.5 L176.8 416.1 L177.8 416.6 L178.8 417.3 L179.8 418.0 L180.8 418.7 L181.8 419.4 L182.8 420.2 L183.8 421.0 L184.8 421.7 L185.8 422.4 L186.8 423.1 L187.8 423.8 L188.8 424.3 L189.8 424.8 L190.8 425.2 L191.8 425.5 L192.8 425.6 L193.9 425.6 L194.9 425.5 L195.9 425.2 L196.9 424.8 L197.9 424.3 L198.9 423.7 L199.9 423.0 L200.9 422.2 L201.9 421.4 L202.9 420.5 L203.9 419.6 L204.9 418.7 L205.9 417.8 L206.9 416.9 L207.9 416.0 L208.9 415.1 L209.9 414.2 L210.9 413.3 L211.9 412.4 L212.9 411.5 L213.9 410.6 L214.9 409.8 L215.9 408.9 L216.9 408.1 L217.9 407.3 L218.9 406.5 L219.9 405.8 L220.9 405.0 L221.9 404.3 L222.9 403.6 L224.0 403.0 L225.0 402.3 L226.0 401.8 L227.0 401.2 L228.0 400.7 L229.0 400.2 L230.0 399.7 L231.0 399.2 L232.0 398.8 L233.0 398.4 L234.0 398.0 L235.0 397.7 L236.0 397.3 L237.0 397.0 L238.0 396.7 L239.0 396.5 L240.0 396.2 L241.0 395.9 L242.0 395.7 L243.0 395.5 L244.0 395.3 L245.0 395.1 L246.0 394.9 L247.0 394.7 L248.0 394.5 L249.0 394.4 L250.0 394.2 L251.0 394.0 L252.0 393.9 L253.0 393.7 L254.0 393.6 L255.1 393.4 L256.1 393.2 L257.1 393.1 L258.1 392.9 L259.1 392.7 L260.1 392.6 L261.1 392.4 L262.1 392.2 L263.1 392.0 L264.1 391.8 L265.1 391.5 L266.1 391.3 L267.1 391.0 L268.1 390.8 L269.1 390.5 L270.1 390.2" stroke="#000" stroke-width="2.7" stroke-dasharray="6.8 6.2"/>
<path d="M54.4 460.9 L55.4 461.6 L56.4 462.3 L57.4 462.9 L58.4 463.6 L59.4 464.3 L60.4 464.9 L61.4 465.6 L62.4 466.3 L63.4 466.9 L64.4 467.6 L65.4 468.2 L66.4 468.9 L67.4 469.5 L68.4 470.2 L69.4 470.9 L70.5 471.6 L71.5 472.3 L72.5 473.0 L73.5 473.7 L74.5 474.5 L75.5 475.2 L76.5 476.0 L77.5 476.8 L78.5 477.6 L79.5 478.5 L80.5 479.3 L81.5 480.2 L82.5 481.2 L83.5 482.1 L84.5 483.1 L85.5 484.1 L86.5 485.2 L87.5 486.3 L88.5 487.4 L89.5 488.5 L90.5 489.8 L91.5 491.0 L92.5 492.3 L93.5 493.6 L94.5 495.0 L95.5 496.3 L96.5 497.6 L97.5 498.9 L98.5 500.1 L99.5 501.3 L100.5 502.3 L101.6 503.2 L102.6 504.0 L103.6 504.6 L104.6 505.1 L105.6 505.3 L106.6 505.4 L107.6 505.3 L108.6 505.0 L109.6 504.5 L110.6 503.9 L111.6 503.1 L112.6 502.1 L113.6 501.0 L114.6 499.8 L115.6 498.4 L116.6 496.8 L117.6 495.2 L118.6 493.5 L119.6 491.9 L120.6 490.3 L121.6 489.0 L122.6 487.8 L123.6 486.8 L124.6 486.0 L125.6 485.4 L126.6 484.8 L127.6 484.3 L128.6 483.9 L129.6 483.4 L130.6 483.0 L131.7 482.6 L132.7 482.2 L133.7 481.9 L134.7 481.6 L135.7 481.4 L136.7 481.3 L137.7 481.2 L138.7 481.3 L139.7 481.4 L140.7 481.5 L141.7 481.7 L142.7 481.8 L143.7 481.9 L144.7 482.0 L145.7 481.9 L146.7 481.7 L147.7 481.4 L148.7 480.9 L149.7 480.4 L150.7 479.7 L151.7 479.0 L152.7 478.2 L153.7 477.3 L154.7 476.4 L155.7 475.4 L156.7 474.4 L157.7 473.3 L158.7 472.2 L159.7 471.1 L160.7 469.9 L161.7 468.8 L162.8 467.6 L163.8 466.5 L164.8 465.4 L165.8 464.3 L166.8 463.3 L167.8 462.3 L168.8 461.4 L169.8 460.5 L170.8 459.7 L171.8 459.0 L172.8 458.3 L173.8 457.8 L174.8 457.3 L175.8 456.9 L176.8 456.6 L177.8 456.4 L178.8 456.3 L179.8 456.3 L180.8 456.4 L181.8 456.7 L182.8 457.0 L183.8 457.5 L184.8 458.1 L185.8 458.9 L186.8 459.8 L187.8 460.8 L188.8 462.0 L189.8 463.3 L190.8 464.7 L191.8 466.4 L192.8 468.2 L193.9 470.1 L194.9 472.2 L195.9 474.4 L196.9 476.5 L197.9 478.6 L198.9 480.4 L199.9 482.0 L200.9 483.2 L201.9 484.1 L202.9 484.6 L203.9 484.9 L204.9 484.9 L205.9 484.7 L206.9 484.2 L207.9 483.6 L208.9 482.8 L209.9 481.9 L210.9 480.8 L211.9 479.6 L212.9 478.2 L213.9 476.8 L214.9 475.3 L215.9 473.8 L216.9 472.2 L217.9 470.6 L218.9 469.0 L219.9 467.3 L220.9 465.7 L221.9 464.1 L222.9 462.5 L224.0 460.9 L225.0 459.5 L226.0 458.1 L227.0 456.7 L228.0 455.5 L229.0 454.3 L230.0 453.1 L231.0 452.0 L232.0 451.0 L233.0 450.0 L234.0 449.0 L235.0 448.1 L236.0 447.1 L237.0 446.2 L238.0 445.3 L239.0 444.4 L240.0 443.5 L241.0 442.6 L242.0 441.7 L243.0 440.8 L244.0 439.9 L245.0 439.1 L246.0 438.2 L247.0 437.4 L248.0 436.6 L249.0 435.8 L250.0 435.1 L251.0 434.3 L252.0 433.6 L253.0 432.9 L254.0 432.2 L255.1 431.5 L256.1 430.9 L257.1 430.3 L258.1 429.6 L259.1 429.0 L260.1 428.4 L261.1 427.8 L262.1 427.2 L263.1 426.7 L264.1 426.1 L265.1 425.5 L266.1 425.0 L267.1 424.4 L268.1 423.9 L269.1 423.3 L270.1 422.8" stroke="#000" stroke-width="2.7" stroke-dasharray="6.8 6.2"/>
</g>
<polyline points="133.9,126.0 131.5,213.1 127.5,283.5 122.7,357.3 117.8,429.2 104.2,505.0" fill="none" stroke="#ff7f0e" stroke-width="2.7" stroke-dasharray="7 6.8"/>
<polyline points="190.9,131.9 189.4,211.8 189.2,283.0 189.9,358.3 194.5,425.8 205.8,484.5" fill="none" stroke="#ff7f0e" stroke-width="2.7" stroke-dasharray="7 6.8"/>
<text x="70.56" y="94.70" font-size="18.18" font-weight="bold" textLength="20.00" lengthAdjust="spacingAndGlyphs">50</text>
<text x="70.70" y="165.80" font-size="18.35" font-weight="bold" textLength="19.86" lengthAdjust="spacingAndGlyphs">30</text>
<text x="71.29" y="236.70" font-size="18.33" font-weight="bold" textLength="19.78" lengthAdjust="spacingAndGlyphs">16</text>
<text x="75.53" y="307.30" font-size="17.92" font-weight="bold" textLength="9.71" lengthAdjust="spacingAndGlyphs">8</text>
<text x="75.86" y="378.20" font-size="17.89" font-weight="bold" textLength="8.73" lengthAdjust="spacingAndGlyphs">4</text>
<text x="75.79" y="448.70" font-size="17.35" font-weight="bold" textLength="9.62" lengthAdjust="spacingAndGlyphs">2</text>
<text x="191.88" y="506.40" font-size="16.20" font-weight="bold" textLength="72.09" lengthAdjust="spacingAndGlyphs">Coupled</text>
<line x1="174.9" y1="38.1" x2="204.1" y2="38.1" stroke="#ff0000" stroke-width="3.2"/>
<line x1="174.9" y1="60.0" x2="204.6" y2="60.0" stroke="#000" stroke-width="2.8" stroke-dasharray="7 7.2"/>
<text x="209.90" y="42.90" font-size="14.11" font-weight="bold" textLength="31.40" lengthAdjust="spacingAndGlyphs">Exp.</text>
<text x="209.89" y="66.00" font-size="13.53" font-weight="bold" textLength="45.50" lengthAdjust="spacingAndGlyphs">Fitting</text>
<text x="73.92" y="40.80" font-size="15.31" font-weight="bold" textLength="51.74" lengthAdjust="spacingAndGlyphs"><tspan font-style="italic">d</tspan> (μm)</text>
<text x="34.79" y="100.83" font-size="17.39" font-weight="bold" textLength="9.96" lengthAdjust="spacingAndGlyphs">6</text>
<text x="34.52" y="172.47" font-size="17.63" font-weight="bold" textLength="10.10" lengthAdjust="spacingAndGlyphs">5</text>
<text x="33.96" y="243.85" font-size="17.89" font-weight="bold" textLength="10.25" lengthAdjust="spacingAndGlyphs">4</text>
<text x="34.82" y="313.73" font-size="17.32" font-weight="bold" textLength="9.92" lengthAdjust="spacingAndGlyphs">3</text>
<text x="34.75" y="385.25" font-size="17.63" font-weight="bold" textLength="10.10" lengthAdjust="spacingAndGlyphs">2</text>
<text x="34.38" y="456.75" font-size="17.89" font-weight="bold" textLength="10.25" lengthAdjust="spacingAndGlyphs">1</text>
<text x="62.85" y="544.63" font-size="17.24" font-weight="bold" textLength="25.41" lengthAdjust="spacingAndGlyphs">0.6</text>
<text x="106.01" y="544.63" font-size="17.24" font-weight="bold" textLength="25.41" lengthAdjust="spacingAndGlyphs">0.8</text>
<text x="149.49" y="544.63" font-size="17.49" font-weight="bold" textLength="25.41" lengthAdjust="spacingAndGlyphs">1.0</text>
<text x="192.11" y="544.80" font-size="17.75" font-weight="bold" textLength="25.77" lengthAdjust="spacingAndGlyphs">1.2</text>
<text x="233.89" y="544.80" font-size="17.75" font-weight="bold" textLength="26.15" lengthAdjust="spacingAndGlyphs">1.4</text>
<rect x="375.9" y="17.5" width="245.7" height="209.8" fill="none" stroke="#231f20" stroke-width="2.1"/>
<line x1="406.2" y1="227.3" x2="406.2" y2="224.1" stroke="#231f20" stroke-width="1.8"/>
<line x1="435.9" y1="227.3" x2="435.9" y2="221.8" stroke="#231f20" stroke-width="1.8"/>
<line x1="465.6" y1="227.3" x2="465.6" y2="224.1" stroke="#231f20" stroke-width="1.8"/>
<line x1="495.3" y1="227.3" x2="495.3" y2="221.8" stroke="#231f20" stroke-width="1.8"/>
<line x1="525.1" y1="227.3" x2="525.1" y2="224.1" stroke="#231f20" stroke-width="1.8"/>
<line x1="554.8" y1="227.3" x2="554.8" y2="221.8" stroke="#231f20" stroke-width="1.8"/>
<line x1="584.5" y1="227.3" x2="584.5" y2="224.1" stroke="#231f20" stroke-width="1.8"/>
<line x1="614.2" y1="227.3" x2="614.2" y2="221.8" stroke="#231f20" stroke-width="1.8"/>
<line x1="375.9" y1="187.6" x2="381.4" y2="187.6" stroke="#231f20" stroke-width="1.8"/>
<line x1="375.9" y1="147.2" x2="379.1" y2="147.2" stroke="#231f20" stroke-width="1.8"/>
<line x1="375.9" y1="106.7" x2="381.4" y2="106.7" stroke="#231f20" stroke-width="1.8"/>
<line x1="375.9" y1="66.2" x2="379.1" y2="66.2" stroke="#231f20" stroke-width="1.8"/>
<line x1="375.9" y1="25.8" x2="381.4" y2="25.8" stroke="#231f20" stroke-width="1.8"/>
<g clip-path="url(#clipB)">
<path d="M387.0 6.7 L387.2 9.7 L387.3 12.6 L387.5 15.4 L387.7 18.2 L387.8 20.8 L388.0 23.4 L388.2 25.9 L388.3 28.4 L388.5 30.8 L388.6 33.1 L388.8 35.4 L389.0 37.6 L389.1 39.7 L389.3 41.8 L389.5 43.9 L389.6 45.9 L389.8 47.8 L390.0 49.7 L390.1 51.6 L390.3 53.4 L390.5 55.2 L390.6 56.9 L390.8 58.6 L390.9 60.3 L391.1 61.9 L391.3 63.5 L391.4 65.1 L391.6 66.6 L391.8 68.1 L391.9 69.5 L392.1 71.0 L392.3 72.4 L392.4 73.7 L392.6 75.1 L392.8 76.4 L392.9 77.7 L393.1 79.0 L393.3 80.2 L393.4 81.5 L393.6 82.7 L393.7 83.8 L393.9 85.0 L394.1 86.1 L394.2 87.2 L394.4 88.3 L394.6 89.4 L394.7 90.5 L394.9 91.5 L395.1 92.5 L395.2 93.5 L395.4 94.5 L395.6 95.5 L395.7 96.4 L395.9 97.4 L396.1 98.3 L396.2 99.2 L396.4 100.1 L396.5 101.0 L396.7 101.8 L396.9 102.7 L397.0 103.5 L397.2 104.4 L397.4 105.2 L397.5 106.0 L397.7 106.8 L397.9 107.5 L398.0 108.3 L398.2 109.1 L398.4 109.8 L398.5 110.5 L398.7 111.2 L398.8 112.0 L399.0 112.7 L399.2 113.4 L399.3 114.0 L399.5 114.7 L399.7 115.4 L399.8 116.0 L400.0 116.7 L400.5 118.6 L401.9 123.5 L403.3 127.9 L404.7 131.9 L406.1 135.6 L407.5 138.9 L408.9 141.9 L410.3 144.7 L411.7 147.2 L413.1 149.6 L414.5 151.8 L415.9 153.8 L417.3 155.7 L418.7 157.5 L420.1 159.2 L421.5 160.8 L422.9 162.2 L424.3 163.6 L425.7 164.9 L427.1 166.2 L428.5 167.3 L429.9 168.4 L431.3 169.5 L432.7 170.5 L434.1 171.4 L435.5 172.4 L436.9 173.2 L438.3 174.1 L439.7 174.8 L441.1 175.6 L442.5 176.3 L443.9 177.0 L445.3 177.7 L446.7 178.3 L448.1 178.9 L449.5 179.5 L450.9 180.1 L452.3 180.7 L453.7 181.2 L455.1 181.7 L456.5 182.2 L457.9 182.7 L459.3 183.1 L460.7 183.6 L462.1 184.0 L463.5 184.4 L464.9 184.8 L466.3 185.2 L467.7 185.6 L469.1 186.0 L470.5 186.3 L471.9 186.7 L473.3 187.0 L474.7 187.3 L476.1 187.7 L477.5 188.0 L478.9 188.3 L480.3 188.6 L481.7 188.8 L483.1 189.1 L484.5 189.4 L485.9 189.7 L487.3 189.9 L488.7 190.2 L490.1 190.4 L491.5 190.7 L492.9 190.9 L494.3 191.1 L495.7 191.3 L497.1 191.5 L498.5 191.8 L499.9 192.0 L501.3 192.2 L502.7 192.4 L504.1 192.6 L505.5 192.8 L506.9 192.9 L508.3 193.1 L509.7 193.3 L511.1 193.5 L512.4 193.6 L513.8 193.8 L515.2 194.0 L516.6 194.1 L518.0 194.3 L519.4 194.4 L520.8 194.6 L522.2 194.7 L523.6 194.9 L525.0 195.0 L526.4 195.2 L527.8 195.3 L529.2 195.4 L530.6 195.6 L532.0 195.7 L533.4 195.8 L534.8 196.0 L536.2 196.1 L537.6 196.2 L539.0 196.3 L540.4 196.4 L541.8 196.6 L543.2 196.7 L544.6 196.8 L546.0 196.9 L547.4 197.0 L548.8 197.1 L550.2 197.2 L551.6 197.3 L553.0 197.4 L554.4 197.5 L555.8 197.6 L557.2 197.7 L558.6 197.8 L560.0 197.9 L561.4 198.0 L562.8 198.1 L564.2 198.2 L565.6 198.3 L567.0 198.3 L568.4 198.4 L569.8 198.5 L571.2 198.6 L572.6 198.7 L574.0 198.8 L575.4 198.8 L576.8 198.9 L578.2 199.0 L579.6 199.1 L581.0 199.1 L582.4 199.2 L583.8 199.3 L585.2 199.4 L586.6 199.4 L588.0 199.5 L589.4 199.6 L590.8 199.6 L592.2 199.7 L593.6 199.8 L595.0 199.8 L596.4 199.9 L597.8 200.0 L599.2 200.0 L600.6 200.1 L602.0 200.2 L603.4 200.2 L604.8 200.3 L606.2 200.3 L607.6 200.4 L609.0 200.5 L610.4 200.5 L611.8 200.6 L613.2 200.6 L614.6 200.7 L616.0 200.7 L617.4 200.8 L618.8 200.9 L620.2 200.9 L621.6 201.0 L623.0 201.0" fill="none" stroke="#ff6a00" stroke-width="3.2"/>
</g>
<circle cx="391.0" cy="58.3" r="2.3" fill="none" stroke="#ff2d1e" stroke-width="1.6"/>
<circle cx="405.6" cy="147.1" r="2.3" fill="none" stroke="#ff2d1e" stroke-width="1.6"/>
<circle cx="435.6" cy="155.3" r="2.3" fill="none" stroke="#ff2d1e" stroke-width="1.6"/>
<circle cx="495.0" cy="195.6" r="2.3" fill="none" stroke="#ff2d1e" stroke-width="1.6"/>
<circle cx="599.2" cy="203.7" r="2.3" fill="none" stroke="#ff2d1e" stroke-width="1.6"/>
<line x1="537.9" y1="34.9" x2="562.6" y2="34.9" stroke="#ff6a00" stroke-width="3.5"/>
<circle cx="550.3" cy="52.9" r="3.0" fill="none" stroke="#ff2d1e" stroke-width="1.6"/>
<text x="571.39" y="41.50" font-size="14.11" font-weight="bold" textLength="45.61" lengthAdjust="spacingAndGlyphs">Fitting</text>
<text x="571.39" y="59.00" font-size="12.80" font-weight="bold" textLength="31.50" lengthAdjust="spacingAndGlyphs">Exp.</text>
<text x="472.70" y="282.60" font-size="16.69" font-weight="bold" textLength="53.69" lengthAdjust="spacingAndGlyphs"><tspan font-style="italic">d</tspan> (μm)</text>
<text transform="translate(316.50,166.07) rotate(-90)" font-size="16.00" font-weight="bold" font-style="italic" textLength="6.88" lengthAdjust="spacingAndGlyphs">f</text>
<text transform="translate(323.50,158.25) rotate(-90)" font-size="11.93" font-weight="bold" textLength="24.23" lengthAdjust="spacingAndGlyphs">Rabi</text>
<text transform="translate(316.50,128.00) rotate(-90)" font-size="16.58" font-weight="bold" textLength="44.93" lengthAdjust="spacingAndGlyphs">(THz)</text>
<text x="301.68" y="21.40" font-size="30.90" font-weight="bold" textLength="18.02" lengthAdjust="spacingAndGlyphs">b</text>
<text x="339.56" y="32.32" font-size="17.53" font-weight="bold" textLength="25.34" lengthAdjust="spacingAndGlyphs">0.5</text>
<text x="339.77" y="113.73" font-size="17.10" font-weight="bold" textLength="24.73" lengthAdjust="spacingAndGlyphs">0.4</text>
<text x="339.79" y="195.58" font-size="17.46" font-weight="bold" textLength="25.25" lengthAdjust="spacingAndGlyphs">0.3</text>
<text x="371.02" y="251.93" font-size="17.24" font-weight="bold" textLength="9.97" lengthAdjust="spacingAndGlyphs">0</text>
<text x="430.30" y="251.93" font-size="17.24" font-weight="bold" textLength="9.97" lengthAdjust="spacingAndGlyphs">8</text>
<text x="485.30" y="251.93" font-size="17.49" font-weight="bold" textLength="19.95" lengthAdjust="spacingAndGlyphs">16</text>
<text x="544.23" y="252.10" font-size="17.49" font-weight="bold" textLength="20.23" lengthAdjust="spacingAndGlyphs">24</text>
<text x="604.84" y="251.89" font-size="17.18" font-weight="bold" textLength="19.88" lengthAdjust="spacingAndGlyphs">32</text>
<defs>
<filter id="hb" x="-5%%" y="-5%%" width="110%%" height="110%%"><feGaussianBlur stdDeviation="1.3 0.6"/></filter>
<clipPath id="hc"><rect x="374.80" y="313.30" width="244.60" height="207.20"/></clipPath>
<linearGradient id="h0" x1="0" y1="0" x2="0" y2="1"><stop offset="0.000" stop-color="#fe9b2d"/><stop offset="0.037" stop-color="#fea130"/><stop offset="0.102" stop-color="#fbb637"/><stop offset="0.149" stop-color="#efcd3a"/><stop offset="0.167" stop-color="#e7d739"/><stop offset="0.195" stop-color="#d0ea34"/><stop offset="0.223" stop-color="#b1f936"/><stop offset="0.242" stop-color="#9cfe40"/><stop offset="0.270" stop-color="#79fe59"/><stop offset="0.288" stop-color="#6dfe62"/><stop offset="0.307" stop-color="#69fd66"/><stop offset="0.325" stop-color="#71fe5f"/><stop offset="0.344" stop-color="#80ff53"/><stop offset="0.362" stop-color="#96fe44"/><stop offset="0.390" stop-color="#a9fb39"/><stop offset="0.428" stop-color="#bcf534"/><stop offset="0.446" stop-color="#c3f134"/><stop offset="0.511" stop-color="#d0ea34"/><stop offset="0.567" stop-color="#d2e935"/><stop offset="0.595" stop-color="#c8ef34"/><stop offset="0.613" stop-color="#b7f735"/><stop offset="0.623" stop-color="#a9fb39"/><stop offset="0.641" stop-color="#80ff53"/><stop offset="0.651" stop-color="#6dfe62"/><stop offset="0.660" stop-color="#61fc6c"/><stop offset="0.669" stop-color="#61fc6c"/><stop offset="0.678" stop-color="#75fe5c"/><stop offset="0.688" stop-color="#92ff47"/><stop offset="0.697" stop-color="#affa37"/><stop offset="0.706" stop-color="#d0ea34"/><stop offset="0.716" stop-color="#ebd339"/><stop offset="0.725" stop-color="#fbb637"/><stop offset="0.734" stop-color="#fe962b"/><stop offset="0.743" stop-color="#f8721c"/><stop offset="0.753" stop-color="#ed5510"/><stop offset="0.762" stop-color="#e4450a"/><stop offset="0.771" stop-color="#dd3d08"/><stop offset="0.781" stop-color="#dd3d08"/><stop offset="0.799" stop-color="#e84b0c"/><stop offset="0.809" stop-color="#f15d13"/><stop offset="0.827" stop-color="#fd8d27"/><stop offset="0.836" stop-color="#fea431"/><stop offset="0.846" stop-color="#faba39"/><stop offset="0.864" stop-color="#e5d938"/><stop offset="0.892" stop-color="#bcf534"/><stop offset="0.911" stop-color="#a1fd3d"/><stop offset="0.920" stop-color="#96fe44"/><stop offset="0.939" stop-color="#75fe5c"/><stop offset="0.948" stop-color="#61fc6c"/><stop offset="0.967" stop-color="#43f787"/><stop offset="0.976" stop-color="#32f298"/><stop offset="0.994" stop-color="#1fe9af"/></linearGradient>
<linearGradient id="h1" x1="0" y1="0" x2="0" y2="1"><stop offset="0.000" stop-color="#fe9e2f"/><stop offset="0.037" stop-color="#fea431"/><stop offset="0.102" stop-color="#fbb838"/><stop offset="0.149" stop-color="#eecf3a"/><stop offset="0.177" stop-color="#dfdf37"/><stop offset="0.204" stop-color="#c6f034"/><stop offset="0.232" stop-color="#a4fc3c"/><stop offset="0.251" stop-color="#8fff49"/><stop offset="0.260" stop-color="#80ff53"/><stop offset="0.288" stop-color="#69fd66"/><stop offset="0.307" stop-color="#69fd66"/><stop offset="0.325" stop-color="#71fe5f"/><stop offset="0.372" stop-color="#9ffd3f"/><stop offset="0.400" stop-color="#b1f936"/><stop offset="0.455" stop-color="#c6f034"/><stop offset="0.530" stop-color="#d2e935"/><stop offset="0.558" stop-color="#d4e735"/><stop offset="0.576" stop-color="#d2e935"/><stop offset="0.604" stop-color="#c1f334"/><stop offset="0.623" stop-color="#a9fb39"/><stop offset="0.632" stop-color="#99fe42"/><stop offset="0.641" stop-color="#80ff53"/><stop offset="0.651" stop-color="#6dfe62"/><stop offset="0.660" stop-color="#61fc6c"/><stop offset="0.669" stop-color="#65fd69"/><stop offset="0.678" stop-color="#75fe5c"/><stop offset="0.688" stop-color="#92ff47"/><stop offset="0.697" stop-color="#b4f836"/><stop offset="0.706" stop-color="#d2e935"/><stop offset="0.716" stop-color="#eecf3a"/><stop offset="0.725" stop-color="#fcb336"/><stop offset="0.734" stop-color="#fe9029"/><stop offset="0.743" stop-color="#f76f1a"/><stop offset="0.753" stop-color="#ec530f"/><stop offset="0.762" stop-color="#e2430a"/><stop offset="0.771" stop-color="#dd3d08"/><stop offset="0.781" stop-color="#dd3d08"/><stop offset="0.790" stop-color="#e2430a"/><stop offset="0.799" stop-color="#ea4e0d"/><stop offset="0.809" stop-color="#f15d13"/><stop offset="0.827" stop-color="#fe9029"/><stop offset="0.836" stop-color="#fea732"/><stop offset="0.846" stop-color="#faba39"/><stop offset="0.864" stop-color="#e5d938"/><stop offset="0.874" stop-color="#d7e535"/><stop offset="0.892" stop-color="#bcf534"/><stop offset="0.911" stop-color="#a1fd3d"/><stop offset="0.929" stop-color="#84ff51"/><stop offset="0.948" stop-color="#61fc6c"/><stop offset="0.967" stop-color="#3ff68a"/><stop offset="0.994" stop-color="#1de7b2"/></linearGradient>
<linearGradient id="h2" x1="0" y1="0" x2="0" y2="1"><stop offset="0.000" stop-color="#fea431"/><stop offset="0.056" stop-color="#fdac34"/><stop offset="0.121" stop-color="#f6c33a"/><stop offset="0.158" stop-color="#e9d539"/><stop offset="0.195" stop-color="#cbed34"/><stop offset="0.223" stop-color="#acfb38"/><stop offset="0.260" stop-color="#80ff53"/><stop offset="0.279" stop-color="#6dfe62"/><stop offset="0.297" stop-color="#69fd66"/><stop offset="0.316" stop-color="#6dfe62"/><stop offset="0.344" stop-color="#84ff51"/><stop offset="0.353" stop-color="#8fff49"/><stop offset="0.381" stop-color="#a7fc3a"/><stop offset="0.428" stop-color="#bef434"/><stop offset="0.465" stop-color="#c8ef34"/><stop offset="0.548" stop-color="#d4e735"/><stop offset="0.576" stop-color="#d2e935"/><stop offset="0.595" stop-color="#cbed34"/><stop offset="0.613" stop-color="#b9f635"/><stop offset="0.623" stop-color="#a9fb39"/><stop offset="0.632" stop-color="#99fe42"/><stop offset="0.651" stop-color="#71fe5f"/><stop offset="0.660" stop-color="#65fd69"/><stop offset="0.669" stop-color="#69fd66"/><stop offset="0.678" stop-color="#79fe59"/><stop offset="0.688" stop-color="#99fe42"/><stop offset="0.697" stop-color="#b7f735"/><stop offset="0.706" stop-color="#d7e535"/><stop offset="0.716" stop-color="#f1cb3a"/><stop offset="0.725" stop-color="#fdae35"/><stop offset="0.734" stop-color="#fd8a26"/><stop offset="0.743" stop-color="#f56918"/><stop offset="0.753" stop-color="#eb500e"/><stop offset="0.762" stop-color="#e2430a"/><stop offset="0.771" stop-color="#dd3d08"/><stop offset="0.781" stop-color="#df3f08"/><stop offset="0.790" stop-color="#e4450a"/><stop offset="0.799" stop-color="#eb500e"/><stop offset="0.809" stop-color="#f26014"/><stop offset="0.827" stop-color="#fe9029"/><stop offset="0.836" stop-color="#fea933"/><stop offset="0.846" stop-color="#f9bc39"/><stop offset="0.864" stop-color="#e5d938"/><stop offset="0.883" stop-color="#c8ef34"/><stop offset="0.901" stop-color="#affa37"/><stop offset="0.920" stop-color="#92ff47"/><stop offset="0.929" stop-color="#84ff51"/><stop offset="0.948" stop-color="#61fc6c"/><stop offset="0.957" stop-color="#4ef97d"/><stop offset="0.985" stop-color="#25eca7"/><stop offset="0.994" stop-color="#1de7b2"/></linearGradient>
<linearGradient id="h3" x1="0" y1="0" x2="0" y2="1"><stop offset="0.000" stop-color="#fea933"/><stop offset="0.056" stop-color="#fcb136"/><stop offset="0.112" stop-color="#f6c33a"/><stop offset="0.149" stop-color="#ebd339"/><stop offset="0.186" stop-color="#d2e935"/><stop offset="0.214" stop-color="#b4f836"/><stop offset="0.232" stop-color="#9ffd3f"/><stop offset="0.270" stop-color="#71fe5f"/><stop offset="0.288" stop-color="#69fd66"/><stop offset="0.307" stop-color="#69fd66"/><stop offset="0.325" stop-color="#75fe5c"/><stop offset="0.372" stop-color="#a1fd3d"/><stop offset="0.418" stop-color="#bcf534"/><stop offset="0.474" stop-color="#cbed34"/><stop offset="0.539" stop-color="#d4e735"/><stop offset="0.576" stop-color="#d2e935"/><stop offset="0.595" stop-color="#cbed34"/><stop offset="0.613" stop-color="#b9f635"/><stop offset="0.623" stop-color="#acfb38"/><stop offset="0.632" stop-color="#9cfe40"/><stop offset="0.651" stop-color="#75fe5c"/><stop offset="0.660" stop-color="#69fd66"/><stop offset="0.669" stop-color="#6dfe62"/><stop offset="0.678" stop-color="#80ff53"/><stop offset="0.688" stop-color="#9ffd3f"/><stop offset="0.697" stop-color="#bcf534"/><stop offset="0.706" stop-color="#dbe236"/><stop offset="0.716" stop-color="#f4c73a"/><stop offset="0.725" stop-color="#fea933"/><stop offset="0.734" stop-color="#fc8423"/><stop offset="0.743" stop-color="#f46617"/><stop offset="0.753" stop-color="#ea4e0d"/><stop offset="0.762" stop-color="#e14109"/><stop offset="0.771" stop-color="#dd3d08"/><stop offset="0.781" stop-color="#df3f08"/><stop offset="0.790" stop-color="#e4450a"/><stop offset="0.809" stop-color="#f36315"/><stop offset="0.827" stop-color="#fe932a"/><stop offset="0.836" stop-color="#fdac34"/><stop offset="0.846" stop-color="#f8be39"/><stop offset="0.864" stop-color="#e3db38"/><stop offset="0.883" stop-color="#c8ef34"/><stop offset="0.901" stop-color="#affa37"/><stop offset="0.920" stop-color="#92ff47"/><stop offset="0.939" stop-color="#71fe5f"/><stop offset="0.948" stop-color="#5dfc6f"/><stop offset="0.967" stop-color="#3cf58e"/><stop offset="0.994" stop-color="#1ce6b4"/></linearGradient>
<linearGradient id="h4" x1="0" y1="0" x2="0" y2="1"><stop offset="0.000" stop-color="#fcb136"/><stop offset="0.046" stop-color="#fbb637"/><stop offset="0.112" stop-color="#f4c73a"/><stop offset="0.149" stop-color="#e7d739"/><stop offset="0.186" stop-color="#cdec34"/><stop offset="0.214" stop-color="#affa37"/><stop offset="0.232" stop-color="#9cfe40"/><stop offset="0.260" stop-color="#79fe59"/><stop offset="0.279" stop-color="#69fd66"/><stop offset="0.297" stop-color="#65fd69"/><stop offset="0.325" stop-color="#75fe5c"/><stop offset="0.335" stop-color="#80ff53"/><stop offset="0.362" stop-color="#9cfe40"/><stop offset="0.390" stop-color="#affa37"/><stop offset="0.418" stop-color="#bcf534"/><stop offset="0.493" stop-color="#d0ea34"/><stop offset="0.558" stop-color="#d7e535"/><stop offset="0.586" stop-color="#d2e935"/><stop offset="0.604" stop-color="#c6f034"/><stop offset="0.623" stop-color="#affa37"/><stop offset="0.632" stop-color="#9ffd3f"/><stop offset="0.651" stop-color="#79fe59"/><stop offset="0.660" stop-color="#71fe5f"/><stop offset="0.669" stop-color="#75fe5c"/><stop offset="0.678" stop-color="#88ff4e"/><stop offset="0.688" stop-color="#a4fc3c"/><stop offset="0.697" stop-color="#c3f134"/><stop offset="0.706" stop-color="#e1dd37"/><stop offset="0.716" stop-color="#f6c33a"/><stop offset="0.725" stop-color="#fea130"/><stop offset="0.734" stop-color="#fb7e21"/><stop offset="0.743" stop-color="#f26014"/><stop offset="0.753" stop-color="#e84b0c"/><stop offset="0.762" stop-color="#e14109"/><stop offset="0.771" stop-color="#dd3d08"/><stop offset="0.790" stop-color="#e5470b"/><stop offset="0.809" stop-color="#f46617"/><stop offset="0.827" stop-color="#fe962b"/><stop offset="0.836" stop-color="#fdae35"/><stop offset="0.846" stop-color="#f8be39"/><stop offset="0.855" stop-color="#eecf3a"/><stop offset="0.864" stop-color="#e3db38"/><stop offset="0.874" stop-color="#d4e735"/><stop offset="0.892" stop-color="#b9f635"/><stop offset="0.911" stop-color="#9ffd3f"/><stop offset="0.920" stop-color="#92ff47"/><stop offset="0.948" stop-color="#5dfc6f"/><stop offset="0.967" stop-color="#3cf58e"/><stop offset="0.985" stop-color="#22ebaa"/><stop offset="0.994" stop-color="#1ce6b4"/></linearGradient>
<linearGradient id="h5" x1="0" y1="0" x2="0" y2="1"><stop offset="0.000" stop-color="#fbb838"/><stop offset="0.046" stop-color="#faba39"/><stop offset="0.112" stop-color="#f1cb3a"/><stop offset="0.149" stop-color="#e3db38"/><stop offset="0.167" stop-color="#d9e436"/><stop offset="0.204" stop-color="#b7f735"/><stop offset="0.223" stop-color="#a1fd3d"/><stop offset="0.242" stop-color="#8bff4b"/><stop offset="0.251" stop-color="#7dff56"/><stop offset="0.270" stop-color="#6dfe62"/><stop offset="0.288" stop-color="#65fd69"/><stop offset="0.307" stop-color="#69fd66"/><stop offset="0.335" stop-color="#80ff53"/><stop offset="0.353" stop-color="#96fe44"/><stop offset="0.381" stop-color="#a9fb39"/><stop offset="0.428" stop-color="#c1f334"/><stop offset="0.530" stop-color="#d7e535"/><stop offset="0.576" stop-color="#d4e735"/><stop offset="0.595" stop-color="#cdec34"/><stop offset="0.613" stop-color="#bcf534"/><stop offset="0.632" stop-color="#a1fd3d"/><stop offset="0.641" stop-color="#8fff49"/><stop offset="0.651" stop-color="#80ff53"/><stop offset="0.660" stop-color="#79fe59"/><stop offset="0.669" stop-color="#80ff53"/><stop offset="0.678" stop-color="#92ff47"/><stop offset="0.688" stop-color="#acfb38"/><stop offset="0.697" stop-color="#c8ef34"/><stop offset="0.706" stop-color="#e7d739"/><stop offset="0.716" stop-color="#f9bc39"/><stop offset="0.725" stop-color="#fe9b2d"/><stop offset="0.734" stop-color="#f9781e"/><stop offset="0.743" stop-color="#f05b12"/><stop offset="0.753" stop-color="#e7490c"/><stop offset="0.762" stop-color="#df3f08"/><stop offset="0.781" stop-color="#e14109"/><stop offset="0.790" stop-color="#e7490c"/><stop offset="0.799" stop-color="#ef5811"/><stop offset="0.818" stop-color="#fb8122"/><stop offset="0.827" stop-color="#fe992c"/><stop offset="0.836" stop-color="#fcb136"/><stop offset="0.846" stop-color="#f7c13a"/><stop offset="0.864" stop-color="#e1dd37"/><stop offset="0.883" stop-color="#c6f034"/><stop offset="0.901" stop-color="#acfb38"/><stop offset="0.920" stop-color="#8fff49"/><stop offset="0.929" stop-color="#80ff53"/><stop offset="0.957" stop-color="#4af880"/><stop offset="0.976" stop-color="#2cf09e"/><stop offset="0.994" stop-color="#1ae4b6"/></linearGradient>
<linearGradient id="h6" x1="0" y1="0" x2="0" y2="1"><stop offset="0.000" stop-color="#f8be39"/><stop offset="0.046" stop-color="#f7c13a"/><stop offset="0.121" stop-color="#ebd339"/><stop offset="0.167" stop-color="#d4e735"/><stop offset="0.204" stop-color="#b1f936"/><stop offset="0.223" stop-color="#9cfe40"/><stop offset="0.251" stop-color="#79fe59"/><stop offset="0.270" stop-color="#69fd66"/><stop offset="0.288" stop-color="#65fd69"/><stop offset="0.297" stop-color="#65fd69"/><stop offset="0.325" stop-color="#79fe59"/><stop offset="0.344" stop-color="#8fff49"/><stop offset="0.372" stop-color="#a7fc3a"/><stop offset="0.409" stop-color="#bcf534"/><stop offset="0.474" stop-color="#cdec34"/><stop offset="0.539" stop-color="#d9e436"/><stop offset="0.576" stop-color="#d7e535"/><stop offset="0.595" stop-color="#d0ea34"/><stop offset="0.623" stop-color="#b4f836"/><stop offset="0.641" stop-color="#96fe44"/><stop offset="0.651" stop-color="#88ff4e"/><stop offset="0.660" stop-color="#84ff51"/><stop offset="0.669" stop-color="#88ff4e"/><stop offset="0.678" stop-color="#9cfe40"/><stop offset="0.688" stop-color="#b4f836"/><stop offset="0.697" stop-color="#d0ea34"/><stop offset="0.706" stop-color="#ebd339"/><stop offset="0.716" stop-color="#fbb637"/><stop offset="0.725" stop-color="#fe962b"/><stop offset="0.734" stop-color="#f8721c"/><stop offset="0.743" stop-color="#ef5811"/><stop offset="0.753" stop-color="#e5470b"/><stop offset="0.762" stop-color="#df3f08"/><stop offset="0.771" stop-color="#df3f08"/><stop offset="0.781" stop-color="#e2430a"/><stop offset="0.790" stop-color="#e84b0c"/><stop offset="0.799" stop-color="#f05b12"/><stop offset="0.809" stop-color="#f76f1a"/><stop offset="0.827" stop-color="#fe9e2f"/><stop offset="0.836" stop-color="#fcb336"/><stop offset="0.846" stop-color="#f6c33a"/><stop offset="0.864" stop-color="#dfdf37"/><stop offset="0.883" stop-color="#c6f034"/><stop offset="0.901" stop-color="#acfb38"/><stop offset="0.920" stop-color="#8fff49"/><stop offset="0.939" stop-color="#6dfe62"/><stop offset="0.948" stop-color="#59fb73"/><stop offset="0.967" stop-color="#38f491"/><stop offset="0.985" stop-color="#20eaac"/><stop offset="0.994" stop-color="#1ae4b6"/></linearGradient>
<linearGradient id="h7" x1="0" y1="0" x2="0" y2="1"><stop offset="0.000" stop-color="#f5c53a"/><stop offset="0.046" stop-color="#f4c73a"/><stop offset="0.112" stop-color="#e9d539"/><stop offset="0.149" stop-color="#dbe236"/><stop offset="0.186" stop-color="#bef434"/><stop offset="0.204" stop-color="#acfb38"/><stop offset="0.242" stop-color="#80ff53"/><stop offset="0.260" stop-color="#6dfe62"/><stop offset="0.270" stop-color="#65fd69"/><stop offset="0.297" stop-color="#65fd69"/><stop offset="0.325" stop-color="#7dff56"/><stop offset="0.335" stop-color="#88ff4e"/><stop offset="0.362" stop-color="#a1fd3d"/><stop offset="0.400" stop-color="#b9f635"/><stop offset="0.437" stop-color="#c6f034"/><stop offset="0.483" stop-color="#d0ea34"/><stop offset="0.539" stop-color="#d9e436"/><stop offset="0.576" stop-color="#d7e535"/><stop offset="0.604" stop-color="#cbed34"/><stop offset="0.623" stop-color="#b7f735"/><stop offset="0.641" stop-color="#9cfe40"/><stop offset="0.651" stop-color="#8fff49"/><stop offset="0.660" stop-color="#8bff4b"/><stop offset="0.669" stop-color="#92ff47"/><stop offset="0.678" stop-color="#a4fc3c"/><stop offset="0.688" stop-color="#bcf534"/><stop offset="0.697" stop-color="#d9e436"/><stop offset="0.706" stop-color="#f1cb3a"/><stop offset="0.716" stop-color="#fdae35"/><stop offset="0.725" stop-color="#fd8d27"/><stop offset="0.734" stop-color="#f66c19"/><stop offset="0.743" stop-color="#ec530f"/><stop offset="0.753" stop-color="#e4450a"/><stop offset="0.762" stop-color="#df3f08"/><stop offset="0.771" stop-color="#df3f08"/><stop offset="0.790" stop-color="#ea4e0d"/><stop offset="0.799" stop-color="#f15d13"/><stop offset="0.818" stop-color="#fd8a26"/><stop offset="0.827" stop-color="#fea130"/><stop offset="0.836" stop-color="#fbb637"/><stop offset="0.855" stop-color="#ebd339"/><stop offset="0.864" stop-color="#dde037"/><stop offset="0.892" stop-color="#b7f735"/><stop offset="0.911" stop-color="#9cfe40"/><stop offset="0.920" stop-color="#8fff49"/><stop offset="0.939" stop-color="#69fd66"/><stop offset="0.957" stop-color="#46f884"/><stop offset="0.976" stop-color="#2aefa1"/><stop offset="0.994" stop-color="#19e3b9"/></linearGradient>
<linearGradient id="h8" x1="0" y1="0" x2="0" y2="1"><stop offset="0.000" stop-color="#f1cb3a"/><stop offset="0.046" stop-color="#efcd3a"/><stop offset="0.112" stop-color="#e5d938"/><stop offset="0.139" stop-color="#dbe236"/><stop offset="0.177" stop-color="#c1f334"/><stop offset="0.204" stop-color="#a7fc3a"/><stop offset="0.242" stop-color="#79fe59"/><stop offset="0.260" stop-color="#69fd66"/><stop offset="0.279" stop-color="#61fc6c"/><stop offset="0.307" stop-color="#6dfe62"/><stop offset="0.353" stop-color="#9cfe40"/><stop offset="0.381" stop-color="#b1f936"/><stop offset="0.418" stop-color="#c1f334"/><stop offset="0.511" stop-color="#d7e535"/><stop offset="0.558" stop-color="#dbe236"/><stop offset="0.586" stop-color="#d7e535"/><stop offset="0.613" stop-color="#c3f134"/><stop offset="0.632" stop-color="#acfb38"/><stop offset="0.651" stop-color="#99fe42"/><stop offset="0.660" stop-color="#96fe44"/><stop offset="0.669" stop-color="#9ffd3f"/><stop offset="0.678" stop-color="#affa37"/><stop offset="0.688" stop-color="#c6f034"/><stop offset="0.697" stop-color="#dfdf37"/><stop offset="0.706" stop-color="#f5c53a"/><stop offset="0.716" stop-color="#fea933"/><stop offset="0.725" stop-color="#fc8725"/><stop offset="0.734" stop-color="#f46617"/><stop offset="0.743" stop-color="#eb500e"/><stop offset="0.753" stop-color="#e2430a"/><stop offset="0.762" stop-color="#df3f08"/><stop offset="0.771" stop-color="#e14109"/><stop offset="0.781" stop-color="#e5470b"/><stop offset="0.790" stop-color="#ec530f"/><stop offset="0.799" stop-color="#f36315"/><stop offset="0.818" stop-color="#fe9029"/><stop offset="0.827" stop-color="#fea732"/><stop offset="0.846" stop-color="#f4c73a"/><stop offset="0.864" stop-color="#dde037"/><stop offset="0.883" stop-color="#c3f134"/><stop offset="0.901" stop-color="#a9fb39"/><stop offset="0.920" stop-color="#8bff4b"/><stop offset="0.929" stop-color="#7dff56"/><stop offset="0.948" stop-color="#55fa76"/><stop offset="0.967" stop-color="#35f394"/><stop offset="0.985" stop-color="#1fe9af"/><stop offset="0.994" stop-color="#19e3b9"/></linearGradient>
<linearGradient id="h9" x1="0" y1="0" x2="0" y2="1"><stop offset="0.000" stop-color="#ecd13a"/><stop offset="0.065" stop-color="#e9d539"/><stop offset="0.102" stop-color="#e3db38"/><stop offset="0.149" stop-color="#d0ea34"/><stop offset="0.177" stop-color="#bcf534"/><stop offset="0.204" stop-color="#a1fd3d"/><stop offset="0.242" stop-color="#75fe5c"/><stop offset="0.260" stop-color="#65fd69"/><stop offset="0.279" stop-color="#61fc6c"/><stop offset="0.297" stop-color="#69fd66"/><stop offset="0.316" stop-color="#79fe59"/><stop offset="0.325" stop-color="#84ff51"/><stop offset="0.362" stop-color="#a7fc3a"/><stop offset="0.400" stop-color="#bcf534"/><stop offset="0.474" stop-color="#d0ea34"/><stop offset="0.539" stop-color="#dbe236"/><stop offset="0.576" stop-color="#d9e436"/><stop offset="0.595" stop-color="#d4e735"/><stop offset="0.623" stop-color="#bcf534"/><stop offset="0.641" stop-color="#a7fc3a"/><stop offset="0.660" stop-color="#9ffd3f"/><stop offset="0.669" stop-color="#a7fc3a"/><stop offset="0.678" stop-color="#b7f735"/><stop offset="0.688" stop-color="#cdec34"/><stop offset="0.697" stop-color="#e7d739"/><stop offset="0.706" stop-color="#f8be39"/><stop offset="0.716" stop-color="#fea130"/><stop offset="0.725" stop-color="#fb7e21"/><stop offset="0.734" stop-color="#f26014"/><stop offset="0.743" stop-color="#ea4e0d"/><stop offset="0.753" stop-color="#e2430a"/><stop offset="0.762" stop-color="#e14109"/><stop offset="0.771" stop-color="#e2430a"/><stop offset="0.781" stop-color="#e7490c"/><stop offset="0.790" stop-color="#ed5510"/><stop offset="0.799" stop-color="#f46617"/><stop offset="0.818" stop-color="#fe932a"/><stop offset="0.827" stop-color="#fea933"/><stop offset="0.836" stop-color="#f9bc39"/><stop offset="0.855" stop-color="#e7d739"/><stop offset="0.874" stop-color="#cdec34"/><stop offset="0.892" stop-color="#b4f836"/><stop offset="0.911" stop-color="#9cfe40"/><stop offset="0.939" stop-color="#69fd66"/><stop offset="0.957" stop-color="#43f787"/><stop offset="0.976" stop-color="#27eea4"/><stop offset="0.994" stop-color="#19e2bb"/></linearGradient>
<linearGradient id="h10" x1="0" y1="0" x2="0" y2="1"><stop offset="0.000" stop-color="#e7d739"/><stop offset="0.056" stop-color="#e5d938"/><stop offset="0.121" stop-color="#d9e436"/><stop offset="0.158" stop-color="#c6f034"/><stop offset="0.186" stop-color="#acfb38"/><stop offset="0.204" stop-color="#9cfe40"/><stop offset="0.242" stop-color="#6dfe62"/><stop offset="0.260" stop-color="#61fc6c"/><stop offset="0.279" stop-color="#61fc6c"/><stop offset="0.297" stop-color="#69fd66"/><stop offset="0.316" stop-color="#7dff56"/><stop offset="0.325" stop-color="#88ff4e"/><stop offset="0.362" stop-color="#a9fb39"/><stop offset="0.400" stop-color="#bef434"/><stop offset="0.437" stop-color="#c8ef34"/><stop offset="0.493" stop-color="#d4e735"/><stop offset="0.548" stop-color="#dde037"/><stop offset="0.576" stop-color="#dbe236"/><stop offset="0.604" stop-color="#d0ea34"/><stop offset="0.641" stop-color="#affa37"/><stop offset="0.651" stop-color="#a7fc3a"/><stop offset="0.660" stop-color="#a9fb39"/><stop offset="0.669" stop-color="#b1f936"/><stop offset="0.678" stop-color="#c1f334"/><stop offset="0.688" stop-color="#d7e535"/><stop offset="0.697" stop-color="#ecd13a"/><stop offset="0.706" stop-color="#fbb838"/><stop offset="0.716" stop-color="#fe992c"/><stop offset="0.725" stop-color="#f9781e"/><stop offset="0.734" stop-color="#f05b12"/><stop offset="0.743" stop-color="#e7490c"/><stop offset="0.753" stop-color="#e2430a"/><stop offset="0.762" stop-color="#e14109"/><stop offset="0.781" stop-color="#e84b0c"/><stop offset="0.790" stop-color="#ef5811"/><stop offset="0.809" stop-color="#fb8122"/><stop offset="0.827" stop-color="#fdae35"/><stop offset="0.836" stop-color="#f8be39"/><stop offset="0.855" stop-color="#e5d938"/><stop offset="0.883" stop-color="#bef434"/><stop offset="0.901" stop-color="#a7fc3a"/><stop offset="0.920" stop-color="#88ff4e"/><stop offset="0.929" stop-color="#79fe59"/><stop offset="0.957" stop-color="#43f787"/><stop offset="0.967" stop-color="#32f298"/><stop offset="0.985" stop-color="#1de7b2"/><stop offset="0.994" stop-color="#19e2bb"/></linearGradient>
<linearGradient id="h11" x1="0" y1="0" x2="0" y2="1"><stop offset="0.000" stop-color="#e3db38"/><stop offset="0.065" stop-color="#dfdf37"/><stop offset="0.121" stop-color="#d4e735"/><stop offset="0.149" stop-color="#c6f034"/><stop offset="0.177" stop-color="#b1f936"/><stop offset="0.204" stop-color="#96fe44"/><stop offset="0.232" stop-color="#71fe5f"/><stop offset="0.251" stop-color="#65fd69"/><stop offset="0.270" stop-color="#5dfc6f"/><stop offset="0.288" stop-color="#65fd69"/><stop offset="0.307" stop-color="#75fe5c"/><stop offset="0.344" stop-color="#9ffd3f"/><stop offset="0.381" stop-color="#b7f735"/><stop offset="0.418" stop-color="#c6f034"/><stop offset="0.502" stop-color="#d7e535"/><stop offset="0.548" stop-color="#dfdf37"/><stop offset="0.586" stop-color="#dbe236"/><stop offset="0.613" stop-color="#cbed34"/><stop offset="0.651" stop-color="#affa37"/><stop offset="0.660" stop-color="#b1f936"/><stop offset="0.669" stop-color="#b9f635"/><stop offset="0.678" stop-color="#cbed34"/><stop offset="0.688" stop-color="#dfdf37"/><stop offset="0.697" stop-color="#f2c93a"/><stop offset="0.706" stop-color="#fdae35"/><stop offset="0.716" stop-color="#fe9029"/><stop offset="0.725" stop-color="#f76f1a"/><stop offset="0.734" stop-color="#ef5811"/><stop offset="0.743" stop-color="#e5470b"/><stop offset="0.753" stop-color="#e14109"/><stop offset="0.762" stop-color="#e14109"/><stop offset="0.781" stop-color="#eb500e"/><stop offset="0.790" stop-color="#f15d13"/><stop offset="0.809" stop-color="#fc8725"/><stop offset="0.818" stop-color="#fe9e2f"/><stop offset="0.827" stop-color="#fcb136"/><stop offset="0.836" stop-color="#f6c33a"/><stop offset="0.855" stop-color="#e3db38"/><stop offset="0.874" stop-color="#cbed34"/><stop offset="0.892" stop-color="#b1f936"/><stop offset="0.911" stop-color="#99fe42"/><stop offset="0.939" stop-color="#65fd69"/><stop offset="0.948" stop-color="#52fa7a"/><stop offset="0.976" stop-color="#25eca7"/><stop offset="0.994" stop-color="#18e0bd"/></linearGradient>
<linearGradient id="h12" x1="0" y1="0" x2="0" y2="1"><stop offset="0.000" stop-color="#dde037"/><stop offset="0.065" stop-color="#dbe236"/><stop offset="0.121" stop-color="#d0ea34"/><stop offset="0.149" stop-color="#c1f334"/><stop offset="0.177" stop-color="#a9fb39"/><stop offset="0.204" stop-color="#8fff49"/><stop offset="0.214" stop-color="#80ff53"/><stop offset="0.223" stop-color="#79fe59"/><stop offset="0.242" stop-color="#65fd69"/><stop offset="0.260" stop-color="#5dfc6f"/><stop offset="0.279" stop-color="#61fc6c"/><stop offset="0.307" stop-color="#79fe59"/><stop offset="0.335" stop-color="#99fe42"/><stop offset="0.353" stop-color="#a9fb39"/><stop offset="0.390" stop-color="#bef434"/><stop offset="0.437" stop-color="#cbed34"/><stop offset="0.493" stop-color="#d4e735"/><stop offset="0.511" stop-color="#dbe236"/><stop offset="0.558" stop-color="#dfdf37"/><stop offset="0.595" stop-color="#d9e436"/><stop offset="0.641" stop-color="#b9f635"/><stop offset="0.651" stop-color="#b7f735"/><stop offset="0.660" stop-color="#b9f635"/><stop offset="0.669" stop-color="#c3f134"/><stop offset="0.678" stop-color="#d4e735"/><stop offset="0.688" stop-color="#e7d739"/><stop offset="0.697" stop-color="#f7c13a"/><stop offset="0.706" stop-color="#fea732"/><stop offset="0.716" stop-color="#fc8725"/><stop offset="0.725" stop-color="#f56918"/><stop offset="0.734" stop-color="#ec530f"/><stop offset="0.743" stop-color="#e5470b"/><stop offset="0.753" stop-color="#e14109"/><stop offset="0.762" stop-color="#e2430a"/><stop offset="0.781" stop-color="#ec530f"/><stop offset="0.790" stop-color="#f36315"/><stop offset="0.809" stop-color="#fd8d27"/><stop offset="0.818" stop-color="#fea431"/><stop offset="0.836" stop-color="#f5c53a"/><stop offset="0.855" stop-color="#dfdf37"/><stop offset="0.883" stop-color="#bcf534"/><stop offset="0.901" stop-color="#a4fc3c"/><stop offset="0.920" stop-color="#88ff4e"/><stop offset="0.939" stop-color="#61fc6c"/><stop offset="0.957" stop-color="#3ff68a"/><stop offset="0.976" stop-color="#25eca7"/><stop offset="0.985" stop-color="#1ce6b4"/><stop offset="0.994" stop-color="#18e0bd"/></linearGradient>
<linearGradient id="h13" x1="0" y1="0" x2="0" y2="1"><stop offset="0.000" stop-color="#d9e436"/><stop offset="0.065" stop-color="#d7e535"/><stop offset="0.121" stop-color="#cbed34"/><stop offset="0.149" stop-color="#bcf534"/><stop offset="0.177" stop-color="#a4fc3c"/><stop offset="0.204" stop-color="#88ff4e"/><stop offset="0.223" stop-color="#71fe5f"/><stop offset="0.242" stop-color="#61fc6c"/><stop offset="0.260" stop-color="#5dfc6f"/><stop offset="0.279" stop-color="#61fc6c"/><stop offset="0.297" stop-color="#71fe5f"/><stop offset="0.335" stop-color="#9cfe40"/><stop offset="0.362" stop-color="#b1f936"/><stop offset="0.400" stop-color="#c3f134"/><stop offset="0.502" stop-color="#d9e436"/><stop offset="0.548" stop-color="#e1dd37"/><stop offset="0.576" stop-color="#dfdf37"/><stop offset="0.604" stop-color="#d7e535"/><stop offset="0.632" stop-color="#c3f134"/><stop offset="0.651" stop-color="#bef434"/><stop offset="0.660" stop-color="#c3f134"/><stop offset="0.669" stop-color="#cdec34"/><stop offset="0.678" stop-color="#dde037"/><stop offset="0.688" stop-color="#eecf3a"/><stop offset="0.697" stop-color="#fbb838"/><stop offset="0.706" stop-color="#fe9b2d"/><stop offset="0.716" stop-color="#fa7b1f"/><stop offset="0.725" stop-color="#f26014"/><stop offset="0.734" stop-color="#ea4e0d"/><stop offset="0.743" stop-color="#e4450a"/><stop offset="0.753" stop-color="#e2430a"/><stop offset="0.762" stop-color="#e4450a"/><stop offset="0.771" stop-color="#e84b0c"/><stop offset="0.781" stop-color="#ef5811"/><stop offset="0.790" stop-color="#f56918"/><stop offset="0.809" stop-color="#fe932a"/><stop offset="0.818" stop-color="#fea933"/><stop offset="0.836" stop-color="#f2c93a"/><stop offset="0.855" stop-color="#dde037"/><stop offset="0.883" stop-color="#b9f635"/><stop offset="0.901" stop-color="#a1fd3d"/><stop offset="0.911" stop-color="#96fe44"/><stop offset="0.929" stop-color="#75fe5c"/><stop offset="0.948" stop-color="#4ef97d"/><stop offset="0.976" stop-color="#22ebaa"/><stop offset="0.994" stop-color="#18dec0"/></linearGradient>
<linearGradient id="h14" x1="0" y1="0" x2="0" y2="1"><stop offset="0.000" stop-color="#d7e535"/><stop offset="0.074" stop-color="#d2e935"/><stop offset="0.102" stop-color="#cdec34"/><stop offset="0.149" stop-color="#b7f735"/><stop offset="0.167" stop-color="#a9fb39"/><stop offset="0.204" stop-color="#80ff53"/><stop offset="0.223" stop-color="#6dfe62"/><stop offset="0.242" stop-color="#5dfc6f"/><stop offset="0.270" stop-color="#5dfc6f"/><stop offset="0.297" stop-color="#75fe5c"/><stop offset="0.335" stop-color="#a1fd3d"/><stop offset="0.372" stop-color="#b9f635"/><stop offset="0.400" stop-color="#c6f034"/><stop offset="0.493" stop-color="#d7e535"/><stop offset="0.530" stop-color="#e1dd37"/><stop offset="0.576" stop-color="#e1dd37"/><stop offset="0.623" stop-color="#cdec34"/><stop offset="0.641" stop-color="#c6f034"/><stop offset="0.651" stop-color="#c6f034"/><stop offset="0.660" stop-color="#cbed34"/><stop offset="0.669" stop-color="#d7e535"/><stop offset="0.678" stop-color="#e5d938"/><stop offset="0.688" stop-color="#f4c73a"/><stop offset="0.697" stop-color="#fdae35"/><stop offset="0.706" stop-color="#fe932a"/><stop offset="0.716" stop-color="#f9751d"/><stop offset="0.725" stop-color="#f05b12"/><stop offset="0.734" stop-color="#e84b0c"/><stop offset="0.743" stop-color="#e4450a"/><stop offset="0.753" stop-color="#e2430a"/><stop offset="0.762" stop-color="#e5470b"/><stop offset="0.781" stop-color="#f15d13"/><stop offset="0.799" stop-color="#fc8423"/><stop offset="0.809" stop-color="#fe9b2d"/><stop offset="0.827" stop-color="#f8be39"/><stop offset="0.846" stop-color="#e5d938"/><stop offset="0.874" stop-color="#c3f134"/><stop offset="0.892" stop-color="#acfb38"/><stop offset="0.901" stop-color="#a1fd3d"/><stop offset="0.920" stop-color="#84ff51"/><stop offset="0.939" stop-color="#61fc6c"/><stop offset="0.957" stop-color="#3cf58e"/><stop offset="0.976" stop-color="#22ebaa"/><stop offset="0.985" stop-color="#1ae4b6"/><stop offset="0.994" stop-color="#18dec0"/></linearGradient>
<linearGradient id="h15" x1="0" y1="0" x2="0" y2="1"><stop offset="0.000" stop-color="#d2e935"/><stop offset="0.065" stop-color="#d0ea34"/><stop offset="0.112" stop-color="#c6f034"/><stop offset="0.139" stop-color="#b9f635"/><stop offset="0.167" stop-color="#a4fc3c"/><stop offset="0.177" stop-color="#9cfe40"/><stop offset="0.204" stop-color="#79fe59"/><stop offset="0.214" stop-color="#71fe5f"/><stop offset="0.223" stop-color="#65fd69"/><stop offset="0.251" stop-color="#59fb73"/><stop offset="0.270" stop-color="#61fc6c"/><stop offset="0.288" stop-color="#71fe5f"/><stop offset="0.325" stop-color="#9cfe40"/><stop offset="0.353" stop-color="#b1f936"/><stop offset="0.362" stop-color="#b9f635"/><stop offset="0.418" stop-color="#cbed34"/><stop offset="0.465" stop-color="#d2e935"/><stop offset="0.548" stop-color="#e3db38"/><stop offset="0.576" stop-color="#e1dd37"/><stop offset="0.604" stop-color="#d9e436"/><stop offset="0.641" stop-color="#cbed34"/><stop offset="0.651" stop-color="#cdec34"/><stop offset="0.669" stop-color="#dfdf37"/><stop offset="0.678" stop-color="#ecd13a"/><stop offset="0.688" stop-color="#f8be39"/><stop offset="0.697" stop-color="#fea431"/><stop offset="0.706" stop-color="#fc8725"/><stop offset="0.716" stop-color="#f66c19"/><stop offset="0.725" stop-color="#ed5510"/><stop offset="0.734" stop-color="#e7490c"/><stop offset="0.743" stop-color="#e4450a"/><stop offset="0.753" stop-color="#e4450a"/><stop offset="0.762" stop-color="#e7490c"/><stop offset="0.781" stop-color="#f36315"/><stop offset="0.799" stop-color="#fd8d27"/><stop offset="0.818" stop-color="#fcb336"/><stop offset="0.836" stop-color="#eecf3a"/><stop offset="0.855" stop-color="#d9e436"/><stop offset="0.883" stop-color="#b7f735"/><stop offset="0.901" stop-color="#9ffd3f"/><stop offset="0.911" stop-color="#92ff47"/><stop offset="0.929" stop-color="#71fe5f"/><stop offset="0.948" stop-color="#4af880"/><stop offset="0.967" stop-color="#2cf09e"/><stop offset="0.985" stop-color="#1ae4b6"/><stop offset="0.994" stop-color="#18ddc2"/></linearGradient>
<linearGradient id="h16" x1="0" y1="0" x2="0" y2="1"><stop offset="0.000" stop-color="#d0ea34"/><stop offset="0.074" stop-color="#cbed34"/><stop offset="0.102" stop-color="#c6f034"/><stop offset="0.139" stop-color="#b4f836"/><stop offset="0.167" stop-color="#9ffd3f"/><stop offset="0.204" stop-color="#75fe5c"/><stop offset="0.223" stop-color="#61fc6c"/><stop offset="0.242" stop-color="#59fb73"/><stop offset="0.260" stop-color="#5dfc6f"/><stop offset="0.288" stop-color="#75fe5c"/><stop offset="0.325" stop-color="#a1fd3d"/><stop offset="0.362" stop-color="#bcf534"/><stop offset="0.400" stop-color="#c8ef34"/><stop offset="0.465" stop-color="#d2e935"/><stop offset="0.539" stop-color="#e5d938"/><stop offset="0.576" stop-color="#e3db38"/><stop offset="0.632" stop-color="#d2e935"/><stop offset="0.651" stop-color="#d4e735"/><stop offset="0.660" stop-color="#dbe236"/><stop offset="0.678" stop-color="#f2c93a"/><stop offset="0.688" stop-color="#fbb637"/><stop offset="0.697" stop-color="#fe9b2d"/><stop offset="0.706" stop-color="#fb7e21"/><stop offset="0.716" stop-color="#f36315"/><stop offset="0.725" stop-color="#eb500e"/><stop offset="0.734" stop-color="#e5470b"/><stop offset="0.743" stop-color="#e4450a"/><stop offset="0.753" stop-color="#e5470b"/><stop offset="0.771" stop-color="#ef5811"/><stop offset="0.781" stop-color="#f56918"/><stop offset="0.799" stop-color="#fe932a"/><stop offset="0.818" stop-color="#faba39"/><stop offset="0.836" stop-color="#ebd339"/><stop offset="0.855" stop-color="#d4e735"/><stop offset="0.883" stop-color="#b4f836"/><stop offset="0.901" stop-color="#9ffd3f"/><stop offset="0.920" stop-color="#80ff53"/><stop offset="0.948" stop-color="#4af880"/><stop offset="0.957" stop-color="#38f491"/><stop offset="0.976" stop-color="#20eaac"/><stop offset="0.985" stop-color="#19e3b9"/><stop offset="0.994" stop-color="#18ddc2"/></linearGradient>
<linearGradient id="h17" x1="0" y1="0" x2="0" y2="1"><stop offset="0.000" stop-color="#cdec34"/><stop offset="0.056" stop-color="#cbed34"/><stop offset="0.112" stop-color="#bef434"/><stop offset="0.149" stop-color="#a9fb39"/><stop offset="0.177" stop-color="#8fff49"/><stop offset="0.204" stop-color="#6dfe62"/><stop offset="0.223" stop-color="#5dfc6f"/><stop offset="0.242" stop-color="#59fb73"/><stop offset="0.270" stop-color="#65fd69"/><stop offset="0.307" stop-color="#92ff47"/><stop offset="0.335" stop-color="#acfb38"/><stop offset="0.362" stop-color="#bef434"/><stop offset="0.400" stop-color="#cbed34"/><stop offset="0.455" stop-color="#d0ea34"/><stop offset="0.548" stop-color="#e7d739"/><stop offset="0.595" stop-color="#e1dd37"/><stop offset="0.623" stop-color="#d7e535"/><stop offset="0.641" stop-color="#d7e535"/><stop offset="0.660" stop-color="#e3db38"/><stop offset="0.669" stop-color="#ecd13a"/><stop offset="0.678" stop-color="#f7c13a"/><stop offset="0.688" stop-color="#fdac34"/><stop offset="0.697" stop-color="#fe9029"/><stop offset="0.716" stop-color="#f15d13"/><stop offset="0.725" stop-color="#ea4e0d"/><stop offset="0.734" stop-color="#e5470b"/><stop offset="0.743" stop-color="#e4450a"/><stop offset="0.753" stop-color="#e7490c"/><stop offset="0.771" stop-color="#f26014"/><stop offset="0.790" stop-color="#fc8725"/><stop offset="0.809" stop-color="#fdae35"/><stop offset="0.827" stop-color="#f1cb3a"/><stop offset="0.846" stop-color="#dde037"/><stop offset="0.874" stop-color="#bcf534"/><stop offset="0.892" stop-color="#a7fc3a"/><stop offset="0.911" stop-color="#8fff49"/><stop offset="0.929" stop-color="#6dfe62"/><stop offset="0.939" stop-color="#59fb73"/><stop offset="0.967" stop-color="#2aefa1"/><stop offset="0.985" stop-color="#19e3b9"/><stop offset="0.994" stop-color="#18dbc5"/></linearGradient>
<linearGradient id="h18" x1="0" y1="0" x2="0" y2="1"><stop offset="0.000" stop-color="#cbed34"/><stop offset="0.074" stop-color="#c6f034"/><stop offset="0.112" stop-color="#bcf534"/><stop offset="0.149" stop-color="#a4fc3c"/><stop offset="0.177" stop-color="#88ff4e"/><stop offset="0.195" stop-color="#71fe5f"/><stop offset="0.214" stop-color="#61fc6c"/><stop offset="0.232" stop-color="#59fb73"/><stop offset="0.251" stop-color="#5dfc6f"/><stop offset="0.279" stop-color="#75fe5c"/><stop offset="0.297" stop-color="#8fff49"/><stop offset="0.325" stop-color="#a9fb39"/><stop offset="0.353" stop-color="#bef434"/><stop offset="0.390" stop-color="#cbed34"/><stop offset="0.446" stop-color="#d0ea34"/><stop offset="0.474" stop-color="#d4e735"/><stop offset="0.530" stop-color="#e5d938"/><stop offset="0.576" stop-color="#e5d938"/><stop offset="0.632" stop-color="#d9e436"/><stop offset="0.641" stop-color="#dbe236"/><stop offset="0.660" stop-color="#e9d539"/><stop offset="0.669" stop-color="#f2c93a"/><stop offset="0.678" stop-color="#fbb838"/><stop offset="0.688" stop-color="#fea130"/><stop offset="0.697" stop-color="#fc8423"/><stop offset="0.716" stop-color="#ed5510"/><stop offset="0.725" stop-color="#e84b0c"/><stop offset="0.734" stop-color="#e5470b"/><stop offset="0.743" stop-color="#e5470b"/><stop offset="0.762" stop-color="#ef5811"/><stop offset="0.781" stop-color="#f9781e"/><stop offset="0.799" stop-color="#fea431"/><stop offset="0.809" stop-color="#fbb637"/><stop offset="0.827" stop-color="#eecf3a"/><stop offset="0.846" stop-color="#d9e436"/><stop offset="0.874" stop-color="#bcf534"/><stop offset="0.892" stop-color="#a7fc3a"/><stop offset="0.920" stop-color="#7dff56"/><stop offset="0.948" stop-color="#46f884"/><stop offset="0.957" stop-color="#35f394"/><stop offset="0.976" stop-color="#1fe9af"/><stop offset="0.994" stop-color="#18dbc5"/></linearGradient>
<linearGradient id="h19" x1="0" y1="0" x2="0" y2="1"><stop offset="0.000" stop-color="#c8ef34"/><stop offset="0.065" stop-color="#c6f034"/><stop offset="0.102" stop-color="#bcf534"/><stop offset="0.139" stop-color="#a7fc3a"/><stop offset="0.167" stop-color="#8bff4b"/><stop offset="0.186" stop-color="#75fe5c"/><stop offset="0.195" stop-color="#6dfe62"/><stop offset="0.204" stop-color="#61fc6c"/><stop offset="0.223" stop-color="#59fb73"/><stop offset="0.242" stop-color="#59fb73"/><stop offset="0.270" stop-color="#71fe5f"/><stop offset="0.297" stop-color="#96fe44"/><stop offset="0.325" stop-color="#affa37"/><stop offset="0.353" stop-color="#c1f334"/><stop offset="0.381" stop-color="#cbed34"/><stop offset="0.446" stop-color="#d0ea34"/><stop offset="0.548" stop-color="#e9d539"/><stop offset="0.586" stop-color="#e5d938"/><stop offset="0.632" stop-color="#dde037"/><stop offset="0.651" stop-color="#e7d739"/><stop offset="0.669" stop-color="#f7c13a"/><stop offset="0.678" stop-color="#fdae35"/><stop offset="0.688" stop-color="#fe962b"/><stop offset="0.706" stop-color="#f36315"/><stop offset="0.716" stop-color="#ec530f"/><stop offset="0.725" stop-color="#e7490c"/><stop offset="0.734" stop-color="#e5470b"/><stop offset="0.743" stop-color="#e7490c"/><stop offset="0.753" stop-color="#eb500e"/><stop offset="0.762" stop-color="#f15d13"/><stop offset="0.781" stop-color="#fb8122"/><stop offset="0.790" stop-color="#fe992c"/><stop offset="0.799" stop-color="#fdac34"/><stop offset="0.809" stop-color="#faba39"/><stop offset="0.827" stop-color="#e9d539"/><stop offset="0.855" stop-color="#cdec34"/><stop offset="0.883" stop-color="#affa37"/><stop offset="0.901" stop-color="#99fe42"/><stop offset="0.911" stop-color="#8bff4b"/><stop offset="0.929" stop-color="#69fd66"/><stop offset="0.939" stop-color="#55fa76"/><stop offset="0.967" stop-color="#27eea4"/><stop offset="0.985" stop-color="#19e2bb"/><stop offset="0.994" stop-color="#18d9c8"/></linearGradient>
<linearGradient id="h20" x1="0" y1="0" x2="0" y2="1"><stop offset="0.000" stop-color="#c8ef34"/><stop offset="0.065" stop-color="#c3f134"/><stop offset="0.102" stop-color="#b9f635"/><stop offset="0.139" stop-color="#a1fd3d"/><stop offset="0.167" stop-color="#84ff51"/><stop offset="0.186" stop-color="#6dfe62"/><stop offset="0.204" stop-color="#5dfc6f"/><stop offset="0.223" stop-color="#59fb73"/><stop offset="0.242" stop-color="#5dfc6f"/><stop offset="0.260" stop-color="#6dfe62"/><stop offset="0.297" stop-color="#9cfe40"/><stop offset="0.325" stop-color="#b4f836"/><stop offset="0.353" stop-color="#c6f034"/><stop offset="0.390" stop-color="#cdec34"/><stop offset="0.455" stop-color="#d2e935"/><stop offset="0.511" stop-color="#e1dd37"/><stop offset="0.539" stop-color="#e9d539"/><stop offset="0.586" stop-color="#e7d739"/><stop offset="0.623" stop-color="#e1dd37"/><stop offset="0.641" stop-color="#e5d938"/><stop offset="0.660" stop-color="#f4c73a"/><stop offset="0.669" stop-color="#fbb637"/><stop offset="0.678" stop-color="#fea130"/><stop offset="0.697" stop-color="#f76f1a"/><stop offset="0.706" stop-color="#f05b12"/><stop offset="0.716" stop-color="#ea4e0d"/><stop offset="0.725" stop-color="#e7490c"/><stop offset="0.734" stop-color="#e7490c"/><stop offset="0.743" stop-color="#ea4e0d"/><stop offset="0.762" stop-color="#f46617"/><stop offset="0.781" stop-color="#fd8d27"/><stop offset="0.799" stop-color="#fcb336"/><stop offset="0.818" stop-color="#efcd3a"/><stop offset="0.836" stop-color="#dbe236"/><stop offset="0.864" stop-color="#c1f334"/><stop offset="0.892" stop-color="#a1fd3d"/><stop offset="0.920" stop-color="#79fe59"/><stop offset="0.948" stop-color="#43f787"/><stop offset="0.967" stop-color="#27eea4"/><stop offset="0.976" stop-color="#1de7b2"/><stop offset="0.994" stop-color="#18d9c8"/></linearGradient>
<linearGradient id="h21" x1="0" y1="0" x2="0" y2="1"><stop offset="0.000" stop-color="#c6f034"/><stop offset="0.037" stop-color="#c6f034"/><stop offset="0.093" stop-color="#b9f635"/><stop offset="0.130" stop-color="#a4fc3c"/><stop offset="0.158" stop-color="#88ff4e"/><stop offset="0.177" stop-color="#71fe5f"/><stop offset="0.195" stop-color="#61fc6c"/><stop offset="0.214" stop-color="#59fb73"/><stop offset="0.232" stop-color="#5dfc6f"/><stop offset="0.251" stop-color="#69fd66"/><stop offset="0.279" stop-color="#8fff49"/><stop offset="0.297" stop-color="#a4fc3c"/><stop offset="0.325" stop-color="#bcf534"/><stop offset="0.362" stop-color="#cdec34"/><stop offset="0.418" stop-color="#d0ea34"/><stop offset="0.465" stop-color="#d4e735"/><stop offset="0.530" stop-color="#e7d739"/><stop offset="0.567" stop-color="#ebd339"/><stop offset="0.623" stop-color="#e3db38"/><stop offset="0.641" stop-color="#ebd339"/><stop offset="0.660" stop-color="#f9bc39"/><stop offset="0.669" stop-color="#fdac34"/><stop offset="0.678" stop-color="#fe962b"/><stop offset="0.688" stop-color="#fa7b1f"/><stop offset="0.697" stop-color="#f46617"/><stop offset="0.706" stop-color="#ed5510"/><stop offset="0.716" stop-color="#e84b0c"/><stop offset="0.725" stop-color="#e7490c"/><stop offset="0.734" stop-color="#e84b0c"/><stop offset="0.753" stop-color="#f15d13"/><stop offset="0.771" stop-color="#fb8122"/><stop offset="0.790" stop-color="#fea933"/><stop offset="0.799" stop-color="#faba39"/><stop offset="0.818" stop-color="#ebd339"/><stop offset="0.846" stop-color="#d0ea34"/><stop offset="0.874" stop-color="#b4f836"/><stop offset="0.892" stop-color="#9ffd3f"/><stop offset="0.920" stop-color="#75fe5c"/><stop offset="0.929" stop-color="#65fd69"/><stop offset="0.939" stop-color="#52fa7a"/><stop offset="0.967" stop-color="#25eca7"/><stop offset="0.985" stop-color="#18e0bd"/><stop offset="0.994" stop-color="#18d7ca"/></linearGradient>
<linearGradient id="h22" x1="0" y1="0" x2="0" y2="1"><stop offset="0.000" stop-color="#c6f034"/><stop offset="0.056" stop-color="#c1f334"/><stop offset="0.093" stop-color="#b7f735"/><stop offset="0.121" stop-color="#a7fc3a"/><stop offset="0.149" stop-color="#8bff4b"/><stop offset="0.167" stop-color="#75fe5c"/><stop offset="0.195" stop-color="#5dfc6f"/><stop offset="0.214" stop-color="#59fb73"/><stop offset="0.232" stop-color="#61fc6c"/><stop offset="0.251" stop-color="#71fe5f"/><stop offset="0.260" stop-color="#80ff53"/><stop offset="0.279" stop-color="#99fe42"/><stop offset="0.307" stop-color="#b4f836"/><stop offset="0.335" stop-color="#c8ef34"/><stop offset="0.362" stop-color="#d2e935"/><stop offset="0.390" stop-color="#d4e735"/><stop offset="0.446" stop-color="#d2e935"/><stop offset="0.474" stop-color="#d7e535"/><stop offset="0.530" stop-color="#e9d539"/><stop offset="0.558" stop-color="#ecd13a"/><stop offset="0.613" stop-color="#e7d739"/><stop offset="0.632" stop-color="#ebd339"/><stop offset="0.641" stop-color="#efcd3a"/><stop offset="0.651" stop-color="#f6c33a"/><stop offset="0.669" stop-color="#fea130"/><stop offset="0.688" stop-color="#f8721c"/><stop offset="0.697" stop-color="#f15d13"/><stop offset="0.706" stop-color="#eb500e"/><stop offset="0.716" stop-color="#e84b0c"/><stop offset="0.725" stop-color="#e84b0c"/><stop offset="0.743" stop-color="#ef5811"/><stop offset="0.762" stop-color="#f9781e"/><stop offset="0.781" stop-color="#fea130"/><stop offset="0.790" stop-color="#fcb336"/><stop offset="0.809" stop-color="#efcd3a"/><stop offset="0.818" stop-color="#e5d938"/><stop offset="0.855" stop-color="#c3f134"/><stop offset="0.883" stop-color="#a7fc3a"/><stop offset="0.892" stop-color="#9ffd3f"/><stop offset="0.901" stop-color="#92ff47"/><stop offset="0.929" stop-color="#61fc6c"/><stop offset="0.939" stop-color="#4ef97d"/><stop offset="0.957" stop-color="#2ff19b"/><stop offset="0.976" stop-color="#1ce6b4"/><stop offset="0.985" stop-color="#18dec0"/><stop offset="0.994" stop-color="#18d7ca"/></linearGradient>
<linearGradient id="h23" x1="0" y1="0" x2="0" y2="1"><stop offset="0.000" stop-color="#c6f034"/><stop offset="0.065" stop-color="#bef434"/><stop offset="0.102" stop-color="#affa37"/><stop offset="0.130" stop-color="#99fe42"/><stop offset="0.177" stop-color="#69fd66"/><stop offset="0.195" stop-color="#5dfc6f"/><stop offset="0.204" stop-color="#59fb73"/><stop offset="0.232" stop-color="#65fd69"/><stop offset="0.279" stop-color="#a1fd3d"/><stop offset="0.297" stop-color="#b4f836"/><stop offset="0.325" stop-color="#cbed34"/><stop offset="0.362" stop-color="#d7e535"/><stop offset="0.418" stop-color="#d4e735"/><stop offset="0.437" stop-color="#d2e935"/><stop offset="0.493" stop-color="#dde037"/><stop offset="0.520" stop-color="#e7d739"/><stop offset="0.558" stop-color="#ecd13a"/><stop offset="0.613" stop-color="#e9d539"/><stop offset="0.623" stop-color="#ebd339"/><stop offset="0.641" stop-color="#f5c53a"/><stop offset="0.651" stop-color="#faba39"/><stop offset="0.669" stop-color="#fe962b"/><stop offset="0.688" stop-color="#f56918"/><stop offset="0.697" stop-color="#ef5811"/><stop offset="0.706" stop-color="#ea4e0d"/><stop offset="0.716" stop-color="#e84b0c"/><stop offset="0.725" stop-color="#ea4e0d"/><stop offset="0.743" stop-color="#f26014"/><stop offset="0.762" stop-color="#fc8423"/><stop offset="0.781" stop-color="#fdac34"/><stop offset="0.799" stop-color="#f4c73a"/><stop offset="0.818" stop-color="#e1dd37"/><stop offset="0.846" stop-color="#c8ef34"/><stop offset="0.874" stop-color="#affa37"/><stop offset="0.892" stop-color="#9cfe40"/><stop offset="0.911" stop-color="#80ff53"/><stop offset="0.939" stop-color="#4af880"/><stop offset="0.957" stop-color="#2cf09e"/><stop offset="0.976" stop-color="#1ae4b6"/><stop offset="0.994" stop-color="#19d5cd"/></linearGradient>
<linearGradient id="h24" x1="0" y1="0" x2="0" y2="1"><stop offset="0.000" stop-color="#c3f134"/><stop offset="0.046" stop-color="#c1f334"/><stop offset="0.084" stop-color="#b4f836"/><stop offset="0.112" stop-color="#a4fc3c"/><stop offset="0.139" stop-color="#8bff4b"/><stop offset="0.158" stop-color="#75fe5c"/><stop offset="0.186" stop-color="#5dfc6f"/><stop offset="0.214" stop-color="#5dfc6f"/><stop offset="0.232" stop-color="#6dfe62"/><stop offset="0.260" stop-color="#92ff47"/><stop offset="0.279" stop-color="#a9fb39"/><stop offset="0.307" stop-color="#c6f034"/><stop offset="0.335" stop-color="#d7e535"/><stop offset="0.362" stop-color="#dbe236"/><stop offset="0.409" stop-color="#d7e535"/><stop offset="0.455" stop-color="#d4e735"/><stop offset="0.502" stop-color="#e1dd37"/><stop offset="0.539" stop-color="#ecd13a"/><stop offset="0.567" stop-color="#eecf3a"/><stop offset="0.604" stop-color="#ebd339"/><stop offset="0.623" stop-color="#eecf3a"/><stop offset="0.632" stop-color="#f2c93a"/><stop offset="0.651" stop-color="#fcb336"/><stop offset="0.660" stop-color="#fea130"/><stop offset="0.678" stop-color="#f9751d"/><stop offset="0.688" stop-color="#f26014"/><stop offset="0.697" stop-color="#ec530f"/><stop offset="0.706" stop-color="#ea4e0d"/><stop offset="0.716" stop-color="#ea4e0d"/><stop offset="0.734" stop-color="#f05b12"/><stop offset="0.753" stop-color="#fa7b1f"/><stop offset="0.771" stop-color="#fea130"/><stop offset="0.790" stop-color="#f6c33a"/><stop offset="0.818" stop-color="#dde037"/><stop offset="0.855" stop-color="#bcf534"/><stop offset="0.874" stop-color="#acfb38"/><stop offset="0.892" stop-color="#99fe42"/><stop offset="0.911" stop-color="#7dff56"/><stop offset="0.939" stop-color="#46f884"/><stop offset="0.957" stop-color="#2aefa1"/><stop offset="0.976" stop-color="#19e3b9"/><stop offset="0.994" stop-color="#1ad4d0"/></linearGradient>
<linearGradient id="h25" x1="0" y1="0" x2="0" y2="1"><stop offset="0.000" stop-color="#c3f134"/><stop offset="0.037" stop-color="#c1f334"/><stop offset="0.074" stop-color="#b7f735"/><stop offset="0.112" stop-color="#a1fd3d"/><stop offset="0.139" stop-color="#84ff51"/><stop offset="0.158" stop-color="#71fe5f"/><stop offset="0.177" stop-color="#61fc6c"/><stop offset="0.195" stop-color="#5dfc6f"/><stop offset="0.204" stop-color="#5dfc6f"/><stop offset="0.232" stop-color="#75fe5c"/><stop offset="0.242" stop-color="#84ff51"/><stop offset="0.270" stop-color="#a7fc3a"/><stop offset="0.279" stop-color="#b4f836"/><stop offset="0.316" stop-color="#d4e735"/><stop offset="0.353" stop-color="#dfdf37"/><stop offset="0.418" stop-color="#d7e535"/><stop offset="0.455" stop-color="#d4e735"/><stop offset="0.539" stop-color="#ecd13a"/><stop offset="0.586" stop-color="#eecf3a"/><stop offset="0.595" stop-color="#ecd13a"/><stop offset="0.623" stop-color="#f2c93a"/><stop offset="0.632" stop-color="#f6c33a"/><stop offset="0.651" stop-color="#fea933"/><stop offset="0.669" stop-color="#fb8122"/><stop offset="0.688" stop-color="#f05b12"/><stop offset="0.706" stop-color="#ea4e0d"/><stop offset="0.716" stop-color="#eb500e"/><stop offset="0.734" stop-color="#f36315"/><stop offset="0.753" stop-color="#fc8423"/><stop offset="0.771" stop-color="#fdac34"/><stop offset="0.790" stop-color="#f4c73a"/><stop offset="0.809" stop-color="#e1dd37"/><stop offset="0.846" stop-color="#c1f334"/><stop offset="0.874" stop-color="#a9fb39"/><stop offset="0.892" stop-color="#96fe44"/><stop offset="0.911" stop-color="#79fe59"/><stop offset="0.939" stop-color="#43f787"/><stop offset="0.957" stop-color="#27eea4"/><stop offset="0.976" stop-color="#19e2bb"/><stop offset="0.994" stop-color="#1ad2d2"/></linearGradient>
<linearGradient id="h26" x1="0" y1="0" x2="0" y2="1"><stop offset="0.000" stop-color="#c3f134"/><stop offset="0.056" stop-color="#bcf534"/><stop offset="0.102" stop-color="#a4fc3c"/><stop offset="0.139" stop-color="#80ff53"/><stop offset="0.158" stop-color="#6dfe62"/><stop offset="0.177" stop-color="#61fc6c"/><stop offset="0.195" stop-color="#5dfc6f"/><stop offset="0.214" stop-color="#69fd66"/><stop offset="0.251" stop-color="#99fe42"/><stop offset="0.260" stop-color="#a7fc3a"/><stop offset="0.288" stop-color="#c6f034"/><stop offset="0.316" stop-color="#d9e436"/><stop offset="0.344" stop-color="#e1dd37"/><stop offset="0.381" stop-color="#dfdf37"/><stop offset="0.437" stop-color="#d4e735"/><stop offset="0.474" stop-color="#d9e436"/><stop offset="0.530" stop-color="#ecd13a"/><stop offset="0.558" stop-color="#efcd3a"/><stop offset="0.595" stop-color="#eecf3a"/><stop offset="0.613" stop-color="#f1cb3a"/><stop offset="0.632" stop-color="#f8be39"/><stop offset="0.651" stop-color="#fea130"/><stop offset="0.669" stop-color="#f9781e"/><stop offset="0.688" stop-color="#ef5811"/><stop offset="0.697" stop-color="#eb500e"/><stop offset="0.706" stop-color="#eb500e"/><stop offset="0.725" stop-color="#f15d13"/><stop offset="0.743" stop-color="#fa7b1f"/><stop offset="0.762" stop-color="#fea130"/><stop offset="0.771" stop-color="#fcb336"/><stop offset="0.790" stop-color="#efcd3a"/><stop offset="0.818" stop-color="#d7e535"/><stop offset="0.855" stop-color="#b7f735"/><stop offset="0.874" stop-color="#a7fc3a"/><stop offset="0.892" stop-color="#92ff47"/><stop offset="0.901" stop-color="#84ff51"/><stop offset="0.920" stop-color="#61fc6c"/><stop offset="0.939" stop-color="#3ff68a"/><stop offset="0.957" stop-color="#25eca7"/><stop offset="0.976" stop-color="#18e0bd"/><stop offset="0.994" stop-color="#1bd0d5"/></linearGradient>
<linearGradient id="h27" x1="0" y1="0" x2="0" y2="1"><stop offset="0.000" stop-color="#c3f134"/><stop offset="0.037" stop-color="#bef434"/><stop offset="0.074" stop-color="#b1f936"/><stop offset="0.102" stop-color="#9ffd3f"/><stop offset="0.121" stop-color="#8fff49"/><stop offset="0.139" stop-color="#79fe59"/><stop offset="0.167" stop-color="#61fc6c"/><stop offset="0.195" stop-color="#61fc6c"/><stop offset="0.214" stop-color="#71fe5f"/><stop offset="0.242" stop-color="#96fe44"/><stop offset="0.251" stop-color="#a4fc3c"/><stop offset="0.279" stop-color="#c3f134"/><stop offset="0.307" stop-color="#dbe236"/><stop offset="0.344" stop-color="#e5d938"/><stop offset="0.437" stop-color="#d4e735"/><stop offset="0.465" stop-color="#d7e535"/><stop offset="0.530" stop-color="#ecd13a"/><stop offset="0.567" stop-color="#f1cb3a"/><stop offset="0.586" stop-color="#efcd3a"/><stop offset="0.604" stop-color="#f1cb3a"/><stop offset="0.623" stop-color="#f7c13a"/><stop offset="0.641" stop-color="#fdac34"/><stop offset="0.660" stop-color="#fc8725"/><stop offset="0.678" stop-color="#f26014"/><stop offset="0.688" stop-color="#ed5510"/><stop offset="0.706" stop-color="#ec530f"/><stop offset="0.725" stop-color="#f36315"/><stop offset="0.743" stop-color="#fc8423"/><stop offset="0.753" stop-color="#fe992c"/><stop offset="0.771" stop-color="#faba39"/><stop offset="0.799" stop-color="#e3db38"/><stop offset="0.827" stop-color="#cbed34"/><stop offset="0.864" stop-color="#acfb38"/><stop offset="0.883" stop-color="#99fe42"/><stop offset="0.911" stop-color="#6dfe62"/><stop offset="0.929" stop-color="#4ef97d"/><stop offset="0.939" stop-color="#3cf58e"/><stop offset="0.957" stop-color="#22ebaa"/><stop offset="0.976" stop-color="#18dec0"/><stop offset="0.994" stop-color="#1ccdd8"/></linearGradient>
<linearGradient id="h28" x1="0" y1="0" x2="0" y2="1"><stop offset="0.000" stop-color="#c3f134"/><stop offset="0.065" stop-color="#b4f836"/><stop offset="0.093" stop-color="#a1fd3d"/><stop offset="0.112" stop-color="#92ff47"/><stop offset="0.149" stop-color="#6dfe62"/><stop offset="0.167" stop-color="#61fc6c"/><stop offset="0.186" stop-color="#61fc6c"/><stop offset="0.214" stop-color="#79fe59"/><stop offset="0.223" stop-color="#88ff4e"/><stop offset="0.232" stop-color="#92ff47"/><stop offset="0.242" stop-color="#a1fd3d"/><stop offset="0.270" stop-color="#c1f334"/><stop offset="0.288" stop-color="#d4e735"/><stop offset="0.316" stop-color="#e3db38"/><stop offset="0.335" stop-color="#e7d739"/><stop offset="0.372" stop-color="#e3db38"/><stop offset="0.418" stop-color="#d7e535"/><stop offset="0.446" stop-color="#d4e735"/><stop offset="0.493" stop-color="#e1dd37"/><stop offset="0.539" stop-color="#efcd3a"/><stop offset="0.595" stop-color="#f2c93a"/><stop offset="0.613" stop-color="#f6c33a"/><stop offset="0.632" stop-color="#fcb336"/><stop offset="0.651" stop-color="#fe932a"/><stop offset="0.669" stop-color="#f66c19"/><stop offset="0.678" stop-color="#f15d13"/><stop offset="0.688" stop-color="#ed5510"/><stop offset="0.697" stop-color="#ec530f"/><stop offset="0.716" stop-color="#f26014"/><stop offset="0.734" stop-color="#fa7b1f"/><stop offset="0.753" stop-color="#fea130"/><stop offset="0.771" stop-color="#f8be39"/><stop offset="0.799" stop-color="#dfdf37"/><stop offset="0.836" stop-color="#c1f334"/><stop offset="0.864" stop-color="#a9fb39"/><stop offset="0.874" stop-color="#a1fd3d"/><stop offset="0.901" stop-color="#79fe59"/><stop offset="0.920" stop-color="#59fb73"/><stop offset="0.929" stop-color="#46f884"/><stop offset="0.957" stop-color="#20eaac"/><stop offset="0.976" stop-color="#18ddc2"/><stop offset="0.994" stop-color="#1ecbda"/></linearGradient>
<linearGradient id="h29" x1="0" y1="0" x2="0" y2="1"><stop offset="0.000" stop-color="#c1f334"/><stop offset="0.028" stop-color="#bef434"/><stop offset="0.065" stop-color="#b1f936"/><stop offset="0.093" stop-color="#9ffd3f"/><stop offset="0.139" stop-color="#71fe5f"/><stop offset="0.158" stop-color="#65fd69"/><stop offset="0.177" stop-color="#61fc6c"/><stop offset="0.195" stop-color="#6dfe62"/><stop offset="0.232" stop-color="#9cfe40"/><stop offset="0.242" stop-color="#a9fb39"/><stop offset="0.270" stop-color="#cbed34"/><stop offset="0.297" stop-color="#e1dd37"/><stop offset="0.335" stop-color="#ebd339"/><stop offset="0.372" stop-color="#e5d938"/><stop offset="0.418" stop-color="#d7e535"/><stop offset="0.446" stop-color="#d4e735"/><stop offset="0.493" stop-color="#e1dd37"/><stop offset="0.539" stop-color="#efcd3a"/><stop offset="0.567" stop-color="#f2c93a"/><stop offset="0.595" stop-color="#f4c73a"/><stop offset="0.613" stop-color="#f7c13a"/><stop offset="0.632" stop-color="#fdac34"/><stop offset="0.641" stop-color="#fe9e2f"/><stop offset="0.660" stop-color="#f9781e"/><stop offset="0.678" stop-color="#f05b12"/><stop offset="0.688" stop-color="#ed5510"/><stop offset="0.697" stop-color="#ed5510"/><stop offset="0.706" stop-color="#f05b12"/><stop offset="0.725" stop-color="#f8721c"/><stop offset="0.743" stop-color="#fe962b"/><stop offset="0.753" stop-color="#fea933"/><stop offset="0.771" stop-color="#f5c53a"/><stop offset="0.799" stop-color="#dde037"/><stop offset="0.836" stop-color="#bef434"/><stop offset="0.864" stop-color="#a7fc3a"/><stop offset="0.874" stop-color="#9ffd3f"/><stop offset="0.901" stop-color="#75fe5c"/><stop offset="0.920" stop-color="#55fa76"/><stop offset="0.929" stop-color="#43f787"/><stop offset="0.948" stop-color="#27eea4"/><stop offset="0.967" stop-color="#19e3b9"/><stop offset="0.985" stop-color="#1ad4d0"/><stop offset="0.994" stop-color="#1fc9dd"/></linearGradient>
<linearGradient id="h30" x1="0" y1="0" x2="0" y2="1"><stop offset="0.000" stop-color="#c1f334"/><stop offset="0.037" stop-color="#b9f635"/><stop offset="0.065" stop-color="#affa37"/><stop offset="0.102" stop-color="#92ff47"/><stop offset="0.121" stop-color="#7dff56"/><stop offset="0.139" stop-color="#6dfe62"/><stop offset="0.158" stop-color="#65fd69"/><stop offset="0.177" stop-color="#65fd69"/><stop offset="0.195" stop-color="#75fe5c"/><stop offset="0.223" stop-color="#99fe42"/><stop offset="0.232" stop-color="#a7fc3a"/><stop offset="0.260" stop-color="#c8ef34"/><stop offset="0.279" stop-color="#dbe236"/><stop offset="0.307" stop-color="#e9d539"/><stop offset="0.344" stop-color="#ecd13a"/><stop offset="0.390" stop-color="#dfdf37"/><stop offset="0.418" stop-color="#d7e535"/><stop offset="0.446" stop-color="#d4e735"/><stop offset="0.493" stop-color="#e1dd37"/><stop offset="0.539" stop-color="#f1cb3a"/><stop offset="0.595" stop-color="#f5c53a"/><stop offset="0.613" stop-color="#f9bc39"/><stop offset="0.632" stop-color="#fea732"/><stop offset="0.651" stop-color="#fc8423"/><stop offset="0.669" stop-color="#f36315"/><stop offset="0.678" stop-color="#f05b12"/><stop offset="0.688" stop-color="#ef5811"/><stop offset="0.706" stop-color="#f26014"/><stop offset="0.725" stop-color="#fa7b1f"/><stop offset="0.743" stop-color="#fe9e2f"/><stop offset="0.762" stop-color="#f8be39"/><stop offset="0.790" stop-color="#e1dd37"/><stop offset="0.827" stop-color="#c3f134"/><stop offset="0.855" stop-color="#acfb38"/><stop offset="0.874" stop-color="#99fe42"/><stop offset="0.883" stop-color="#8fff49"/><stop offset="0.911" stop-color="#61fc6c"/><stop offset="0.920" stop-color="#4ef97d"/><stop offset="0.948" stop-color="#25eca7"/><stop offset="0.967" stop-color="#19e2bb"/><stop offset="0.985" stop-color="#1ad2d2"/><stop offset="0.994" stop-color="#20c7df"/></linearGradient>
<linearGradient id="h31" x1="0" y1="0" x2="0" y2="1"><stop offset="0.000" stop-color="#c1f334"/><stop offset="0.037" stop-color="#b9f635"/><stop offset="0.084" stop-color="#9ffd3f"/><stop offset="0.130" stop-color="#71fe5f"/><stop offset="0.149" stop-color="#65fd69"/><stop offset="0.167" stop-color="#65fd69"/><stop offset="0.186" stop-color="#71fe5f"/><stop offset="0.223" stop-color="#a1fd3d"/><stop offset="0.242" stop-color="#b9f635"/><stop offset="0.260" stop-color="#d0ea34"/><stop offset="0.279" stop-color="#e1dd37"/><stop offset="0.307" stop-color="#ecd13a"/><stop offset="0.325" stop-color="#efcd3a"/><stop offset="0.362" stop-color="#e9d539"/><stop offset="0.409" stop-color="#d9e436"/><stop offset="0.437" stop-color="#d4e735"/><stop offset="0.474" stop-color="#dbe236"/><stop offset="0.539" stop-color="#f1cb3a"/><stop offset="0.595" stop-color="#f6c33a"/><stop offset="0.613" stop-color="#fbb838"/><stop offset="0.632" stop-color="#fea130"/><stop offset="0.660" stop-color="#f76f1a"/><stop offset="0.678" stop-color="#f05b12"/><stop offset="0.697" stop-color="#f15d13"/><stop offset="0.716" stop-color="#f8721c"/><stop offset="0.734" stop-color="#fe932a"/><stop offset="0.743" stop-color="#fea732"/><stop offset="0.762" stop-color="#f6c33a"/><stop offset="0.790" stop-color="#dde037"/><stop offset="0.809" stop-color="#cdec34"/><stop offset="0.836" stop-color="#b9f635"/><stop offset="0.864" stop-color="#a1fd3d"/><stop offset="0.892" stop-color="#79fe59"/><stop offset="0.929" stop-color="#3cf58e"/><stop offset="0.939" stop-color="#2cf09e"/><stop offset="0.957" stop-color="#1ce6b4"/><stop offset="0.967" stop-color="#18dec0"/><stop offset="0.985" stop-color="#1bd0d5"/><stop offset="0.994" stop-color="#22c5e2"/></linearGradient>
<linearGradient id="h32" x1="0" y1="0" x2="0" y2="1"><stop offset="0.000" stop-color="#c1f334"/><stop offset="0.037" stop-color="#b7f735"/><stop offset="0.074" stop-color="#a1fd3d"/><stop offset="0.102" stop-color="#88ff4e"/><stop offset="0.121" stop-color="#75fe5c"/><stop offset="0.139" stop-color="#69fd66"/><stop offset="0.158" stop-color="#65fd69"/><stop offset="0.177" stop-color="#71fe5f"/><stop offset="0.195" stop-color="#84ff51"/><stop offset="0.223" stop-color="#acfb38"/><stop offset="0.251" stop-color="#cdec34"/><stop offset="0.270" stop-color="#dfdf37"/><stop offset="0.297" stop-color="#eecf3a"/><stop offset="0.325" stop-color="#f1cb3a"/><stop offset="0.362" stop-color="#e9d539"/><stop offset="0.409" stop-color="#d9e436"/><stop offset="0.437" stop-color="#d4e735"/><stop offset="0.474" stop-color="#dbe236"/><stop offset="0.548" stop-color="#f4c73a"/><stop offset="0.586" stop-color="#f6c33a"/><stop offset="0.613" stop-color="#fcb336"/><stop offset="0.632" stop-color="#fe9b2d"/><stop offset="0.660" stop-color="#f66c19"/><stop offset="0.669" stop-color="#f26014"/><stop offset="0.678" stop-color="#f05b12"/><stop offset="0.697" stop-color="#f26014"/><stop offset="0.716" stop-color="#f9781e"/><stop offset="0.734" stop-color="#fe9b2d"/><stop offset="0.753" stop-color="#faba39"/><stop offset="0.781" stop-color="#e3db38"/><stop offset="0.809" stop-color="#cbed34"/><stop offset="0.836" stop-color="#b7f735"/><stop offset="0.864" stop-color="#9ffd3f"/><stop offset="0.892" stop-color="#75fe5c"/><stop offset="0.929" stop-color="#38f491"/><stop offset="0.939" stop-color="#2aefa1"/><stop offset="0.957" stop-color="#1ae4b6"/><stop offset="0.976" stop-color="#19d5cd"/><stop offset="0.994" stop-color="#23c3e4"/></linearGradient>
<linearGradient id="h33" x1="0" y1="0" x2="0" y2="1"><stop offset="0.000" stop-color="#bef434"/><stop offset="0.019" stop-color="#bcf534"/><stop offset="0.065" stop-color="#a4fc3c"/><stop offset="0.102" stop-color="#84ff51"/><stop offset="0.121" stop-color="#71fe5f"/><stop offset="0.139" stop-color="#69fd66"/><stop offset="0.158" stop-color="#69fd66"/><stop offset="0.186" stop-color="#80ff53"/><stop offset="0.204" stop-color="#9cfe40"/><stop offset="0.223" stop-color="#b4f836"/><stop offset="0.251" stop-color="#d4e735"/><stop offset="0.270" stop-color="#e5d938"/><stop offset="0.297" stop-color="#f1cb3a"/><stop offset="0.325" stop-color="#f2c93a"/><stop offset="0.362" stop-color="#e9d539"/><stop offset="0.409" stop-color="#d9e436"/><stop offset="0.437" stop-color="#d4e735"/><stop offset="0.474" stop-color="#dbe236"/><stop offset="0.530" stop-color="#efcd3a"/><stop offset="0.567" stop-color="#f6c33a"/><stop offset="0.586" stop-color="#f7c13a"/><stop offset="0.613" stop-color="#fcb136"/><stop offset="0.641" stop-color="#fc8725"/><stop offset="0.651" stop-color="#f9751d"/><stop offset="0.669" stop-color="#f26014"/><stop offset="0.678" stop-color="#f15d13"/><stop offset="0.697" stop-color="#f46617"/><stop offset="0.716" stop-color="#fb8122"/><stop offset="0.734" stop-color="#fea130"/><stop offset="0.743" stop-color="#fcb336"/><stop offset="0.762" stop-color="#f1cb3a"/><stop offset="0.781" stop-color="#dfdf37"/><stop offset="0.809" stop-color="#c8ef34"/><stop offset="0.836" stop-color="#b4f836"/><stop offset="0.855" stop-color="#a4fc3c"/><stop offset="0.874" stop-color="#8fff49"/><stop offset="0.901" stop-color="#61fc6c"/><stop offset="0.920" stop-color="#43f787"/><stop offset="0.929" stop-color="#32f298"/><stop offset="0.948" stop-color="#1fe9af"/><stop offset="0.967" stop-color="#18dbc5"/><stop offset="0.985" stop-color="#1ecbda"/><stop offset="0.994" stop-color="#23c3e4"/></linearGradient>
<linearGradient id="h34" x1="0" y1="0" x2="0" y2="1"><stop offset="0.000" stop-color="#bef434"/><stop offset="0.037" stop-color="#b1f936"/><stop offset="0.065" stop-color="#a1fd3d"/><stop offset="0.102" stop-color="#80ff53"/><stop offset="0.112" stop-color="#75fe5c"/><stop offset="0.139" stop-color="#69fd66"/><stop offset="0.158" stop-color="#6dfe62"/><stop offset="0.177" stop-color="#80ff53"/><stop offset="0.204" stop-color="#a4fc3c"/><stop offset="0.223" stop-color="#bcf534"/><stop offset="0.242" stop-color="#d2e935"/><stop offset="0.260" stop-color="#e3db38"/><stop offset="0.288" stop-color="#f1cb3a"/><stop offset="0.316" stop-color="#f4c73a"/><stop offset="0.353" stop-color="#ecd13a"/><stop offset="0.409" stop-color="#d7e535"/><stop offset="0.455" stop-color="#d4e735"/><stop offset="0.530" stop-color="#f1cb3a"/><stop offset="0.595" stop-color="#faba39"/><stop offset="0.613" stop-color="#fdac34"/><stop offset="0.623" stop-color="#fea130"/><stop offset="0.651" stop-color="#f8721c"/><stop offset="0.660" stop-color="#f46617"/><stop offset="0.678" stop-color="#f15d13"/><stop offset="0.697" stop-color="#f66c19"/><stop offset="0.716" stop-color="#fc8725"/><stop offset="0.734" stop-color="#fea933"/><stop offset="0.753" stop-color="#f5c53a"/><stop offset="0.781" stop-color="#dde037"/><stop offset="0.809" stop-color="#c6f034"/><stop offset="0.836" stop-color="#b1f936"/><stop offset="0.855" stop-color="#a1fd3d"/><stop offset="0.874" stop-color="#8bff4b"/><stop offset="0.911" stop-color="#4ef97d"/><stop offset="0.929" stop-color="#2ff19b"/><stop offset="0.948" stop-color="#1de7b2"/><stop offset="0.967" stop-color="#18d9c8"/><stop offset="0.994" stop-color="#25c0e7"/></linearGradient>
<linearGradient id="h35" x1="0" y1="0" x2="0" y2="1"><stop offset="0.000" stop-color="#bcf534"/><stop offset="0.037" stop-color="#affa37"/><stop offset="0.056" stop-color="#a4fc3c"/><stop offset="0.112" stop-color="#75fe5c"/><stop offset="0.121" stop-color="#6dfe62"/><stop offset="0.149" stop-color="#6dfe62"/><stop offset="0.167" stop-color="#7dff56"/><stop offset="0.195" stop-color="#9ffd3f"/><stop offset="0.214" stop-color="#b7f735"/><stop offset="0.232" stop-color="#d0ea34"/><stop offset="0.260" stop-color="#e9d539"/><stop offset="0.288" stop-color="#f4c73a"/><stop offset="0.316" stop-color="#f5c53a"/><stop offset="0.362" stop-color="#e9d539"/><stop offset="0.409" stop-color="#d7e535"/><stop offset="0.437" stop-color="#d2e935"/><stop offset="0.465" stop-color="#d7e535"/><stop offset="0.530" stop-color="#f1cb3a"/><stop offset="0.595" stop-color="#fbb838"/><stop offset="0.613" stop-color="#fea732"/><stop offset="0.632" stop-color="#fd8d27"/><stop offset="0.651" stop-color="#f76f1a"/><stop offset="0.669" stop-color="#f26014"/><stop offset="0.678" stop-color="#f26014"/><stop offset="0.697" stop-color="#f76f1a"/><stop offset="0.725" stop-color="#fe9e2f"/><stop offset="0.743" stop-color="#f9bc39"/><stop offset="0.762" stop-color="#ebd339"/><stop offset="0.799" stop-color="#cbed34"/><stop offset="0.827" stop-color="#b7f735"/><stop offset="0.855" stop-color="#9ffd3f"/><stop offset="0.874" stop-color="#88ff4e"/><stop offset="0.911" stop-color="#4af880"/><stop offset="0.920" stop-color="#38f491"/><stop offset="0.939" stop-color="#22ebaa"/><stop offset="0.957" stop-color="#18e0bd"/><stop offset="0.976" stop-color="#1bd0d5"/><stop offset="0.994" stop-color="#27bee9"/></linearGradient>
<linearGradient id="h36" x1="0" y1="0" x2="0" y2="1"><stop offset="0.000" stop-color="#bcf534"/><stop offset="0.028" stop-color="#b1f936"/><stop offset="0.056" stop-color="#a1fd3d"/><stop offset="0.112" stop-color="#71fe5f"/><stop offset="0.130" stop-color="#6dfe62"/><stop offset="0.139" stop-color="#6dfe62"/><stop offset="0.158" stop-color="#79fe59"/><stop offset="0.195" stop-color="#a7fc3a"/><stop offset="0.214" stop-color="#bef434"/><stop offset="0.232" stop-color="#d7e535"/><stop offset="0.260" stop-color="#ecd13a"/><stop offset="0.279" stop-color="#f4c73a"/><stop offset="0.307" stop-color="#f6c33a"/><stop offset="0.344" stop-color="#efcd3a"/><stop offset="0.390" stop-color="#dbe236"/><stop offset="0.437" stop-color="#d2e935"/><stop offset="0.465" stop-color="#d7e535"/><stop offset="0.539" stop-color="#f4c73a"/><stop offset="0.586" stop-color="#faba39"/><stop offset="0.604" stop-color="#fdae35"/><stop offset="0.623" stop-color="#fe962b"/><stop offset="0.641" stop-color="#f9781e"/><stop offset="0.660" stop-color="#f36315"/><stop offset="0.669" stop-color="#f26014"/><stop offset="0.688" stop-color="#f56918"/><stop offset="0.706" stop-color="#fb8122"/><stop offset="0.725" stop-color="#fea431"/><stop offset="0.743" stop-color="#f7c13a"/><stop offset="0.771" stop-color="#dfdf37"/><stop offset="0.799" stop-color="#c8ef34"/><stop offset="0.827" stop-color="#b4f836"/><stop offset="0.855" stop-color="#9cfe40"/><stop offset="0.883" stop-color="#75fe5c"/><stop offset="0.911" stop-color="#46f884"/><stop offset="0.920" stop-color="#35f394"/><stop offset="0.939" stop-color="#20eaac"/><stop offset="0.957" stop-color="#18dec0"/><stop offset="0.976" stop-color="#1ccdd8"/><stop offset="0.994" stop-color="#28bceb"/></linearGradient>
<linearGradient id="h37" x1="0" y1="0" x2="0" y2="1"><stop offset="0.000" stop-color="#b9f635"/><stop offset="0.028" stop-color="#affa37"/><stop offset="0.056" stop-color="#9ffd3f"/><stop offset="0.093" stop-color="#7dff56"/><stop offset="0.112" stop-color="#71fe5f"/><stop offset="0.130" stop-color="#71fe5f"/><stop offset="0.149" stop-color="#79fe59"/><stop offset="0.167" stop-color="#8bff4b"/><stop offset="0.186" stop-color="#a4fc3c"/><stop offset="0.204" stop-color="#bcf534"/><stop offset="0.223" stop-color="#d2e935"/><stop offset="0.251" stop-color="#ebd339"/><stop offset="0.279" stop-color="#f5c53a"/><stop offset="0.297" stop-color="#f7c13a"/><stop offset="0.335" stop-color="#f1cb3a"/><stop offset="0.409" stop-color="#d4e735"/><stop offset="0.446" stop-color="#d2e935"/><stop offset="0.474" stop-color="#dbe236"/><stop offset="0.539" stop-color="#f4c73a"/><stop offset="0.586" stop-color="#fbb838"/><stop offset="0.604" stop-color="#fea933"/><stop offset="0.623" stop-color="#fe932a"/><stop offset="0.641" stop-color="#f9751d"/><stop offset="0.660" stop-color="#f36315"/><stop offset="0.678" stop-color="#f46617"/><stop offset="0.688" stop-color="#f66c19"/><stop offset="0.706" stop-color="#fc8725"/><stop offset="0.725" stop-color="#fea933"/><stop offset="0.743" stop-color="#f5c53a"/><stop offset="0.771" stop-color="#dde037"/><stop offset="0.790" stop-color="#cdec34"/><stop offset="0.818" stop-color="#b9f635"/><stop offset="0.846" stop-color="#a1fd3d"/><stop offset="0.855" stop-color="#99fe42"/><stop offset="0.883" stop-color="#71fe5f"/><stop offset="0.901" stop-color="#52fa7a"/><stop offset="0.911" stop-color="#3ff68a"/><stop offset="0.929" stop-color="#27eea4"/><stop offset="0.948" stop-color="#19e3b9"/><stop offset="0.967" stop-color="#19d5cd"/><stop offset="0.985" stop-color="#23c3e4"/><stop offset="0.994" stop-color="#2ab9ee"/></linearGradient>
<linearGradient id="h38" x1="0" y1="0" x2="0" y2="1"><stop offset="0.000" stop-color="#b9f635"/><stop offset="0.037" stop-color="#a7fc3a"/><stop offset="0.056" stop-color="#9cfe40"/><stop offset="0.102" stop-color="#75fe5c"/><stop offset="0.121" stop-color="#71fe5f"/><stop offset="0.139" stop-color="#79fe59"/><stop offset="0.167" stop-color="#96fe44"/><stop offset="0.186" stop-color="#acfb38"/><stop offset="0.214" stop-color="#d0ea34"/><stop offset="0.242" stop-color="#e9d539"/><stop offset="0.270" stop-color="#f5c53a"/><stop offset="0.279" stop-color="#f7c13a"/><stop offset="0.307" stop-color="#f7c13a"/><stop offset="0.353" stop-color="#ebd339"/><stop offset="0.390" stop-color="#d9e436"/><stop offset="0.428" stop-color="#d2e935"/><stop offset="0.455" stop-color="#d4e735"/><stop offset="0.483" stop-color="#dde037"/><stop offset="0.520" stop-color="#eecf3a"/><stop offset="0.558" stop-color="#f7c13a"/><stop offset="0.586" stop-color="#fbb637"/><stop offset="0.604" stop-color="#fea732"/><stop offset="0.632" stop-color="#fb8122"/><stop offset="0.641" stop-color="#f8721c"/><stop offset="0.660" stop-color="#f36315"/><stop offset="0.669" stop-color="#f36315"/><stop offset="0.688" stop-color="#f8721c"/><stop offset="0.706" stop-color="#fd8d27"/><stop offset="0.725" stop-color="#fdae35"/><stop offset="0.743" stop-color="#f4c73a"/><stop offset="0.771" stop-color="#dbe236"/><stop offset="0.818" stop-color="#b7f735"/><stop offset="0.827" stop-color="#b1f936"/><stop offset="0.855" stop-color="#96fe44"/><stop offset="0.883" stop-color="#69fd66"/><stop offset="0.911" stop-color="#3cf58e"/><stop offset="0.929" stop-color="#25eca7"/><stop offset="0.948" stop-color="#19e2bb"/><stop offset="0.967" stop-color="#1ad4d0"/><stop offset="0.985" stop-color="#25c0e7"/><stop offset="0.994" stop-color="#2cb7f0"/></linearGradient>
<linearGradient id="h39" x1="0" y1="0" x2="0" y2="1"><stop offset="0.000" stop-color="#b7f735"/><stop offset="0.037" stop-color="#a4fc3c"/><stop offset="0.056" stop-color="#99fe42"/><stop offset="0.084" stop-color="#80ff53"/><stop offset="0.112" stop-color="#75fe5c"/><stop offset="0.130" stop-color="#79fe59"/><stop offset="0.158" stop-color="#92ff47"/><stop offset="0.177" stop-color="#a9fb39"/><stop offset="0.204" stop-color="#cbed34"/><stop offset="0.223" stop-color="#dfdf37"/><stop offset="0.251" stop-color="#f1cb3a"/><stop offset="0.270" stop-color="#f7c13a"/><stop offset="0.297" stop-color="#f8be39"/><stop offset="0.325" stop-color="#f4c73a"/><stop offset="0.381" stop-color="#dde037"/><stop offset="0.409" stop-color="#d2e935"/><stop offset="0.437" stop-color="#d0ea34"/><stop offset="0.493" stop-color="#e1dd37"/><stop offset="0.530" stop-color="#f1cb3a"/><stop offset="0.586" stop-color="#fcb336"/><stop offset="0.604" stop-color="#fea431"/><stop offset="0.641" stop-color="#f8721c"/><stop offset="0.660" stop-color="#f36315"/><stop offset="0.678" stop-color="#f66c19"/><stop offset="0.697" stop-color="#fb8122"/><stop offset="0.716" stop-color="#fea130"/><stop offset="0.734" stop-color="#f8be39"/><stop offset="0.753" stop-color="#e9d539"/><stop offset="0.781" stop-color="#d2e935"/><stop offset="0.827" stop-color="#affa37"/><stop offset="0.855" stop-color="#92ff47"/><stop offset="0.883" stop-color="#65fd69"/><stop offset="0.911" stop-color="#38f491"/><stop offset="0.929" stop-color="#22ebaa"/><stop offset="0.948" stop-color="#18e0bd"/><stop offset="0.967" stop-color="#1ad2d2"/><stop offset="0.985" stop-color="#25c0e7"/><stop offset="0.994" stop-color="#2eb4f2"/></linearGradient>
<linearGradient id="h40" x1="0" y1="0" x2="0" y2="1"><stop offset="0.000" stop-color="#b7f735"/><stop offset="0.046" stop-color="#9cfe40"/><stop offset="0.084" stop-color="#80ff53"/><stop offset="0.102" stop-color="#79fe59"/><stop offset="0.121" stop-color="#7dff56"/><stop offset="0.139" stop-color="#88ff4e"/><stop offset="0.177" stop-color="#b1f936"/><stop offset="0.204" stop-color="#d2e935"/><stop offset="0.223" stop-color="#e5d938"/><stop offset="0.242" stop-color="#f1cb3a"/><stop offset="0.279" stop-color="#f9bc39"/><stop offset="0.307" stop-color="#f7c13a"/><stop offset="0.353" stop-color="#e9d539"/><stop offset="0.390" stop-color="#d7e535"/><stop offset="0.428" stop-color="#d0ea34"/><stop offset="0.474" stop-color="#d9e436"/><stop offset="0.530" stop-color="#f1cb3a"/><stop offset="0.576" stop-color="#fbb838"/><stop offset="0.604" stop-color="#fea130"/><stop offset="0.641" stop-color="#f76f1a"/><stop offset="0.660" stop-color="#f46617"/><stop offset="0.678" stop-color="#f76f1a"/><stop offset="0.688" stop-color="#f9781e"/><stop offset="0.716" stop-color="#fea732"/><stop offset="0.734" stop-color="#f6c33a"/><stop offset="0.762" stop-color="#dfdf37"/><stop offset="0.799" stop-color="#c1f334"/><stop offset="0.827" stop-color="#acfb38"/><stop offset="0.846" stop-color="#99fe42"/><stop offset="0.864" stop-color="#80ff53"/><stop offset="0.901" stop-color="#43f787"/><stop offset="0.920" stop-color="#2aefa1"/><stop offset="0.939" stop-color="#1ae4b6"/><stop offset="0.957" stop-color="#18d7ca"/><stop offset="0.985" stop-color="#27bee9"/><stop offset="0.994" stop-color="#2eb4f2"/></linearGradient>
<linearGradient id="h41" x1="0" y1="0" x2="0" y2="1"><stop offset="0.000" stop-color="#b4f836"/><stop offset="0.037" stop-color="#a1fd3d"/><stop offset="0.065" stop-color="#8bff4b"/><stop offset="0.093" stop-color="#7dff56"/><stop offset="0.112" stop-color="#7dff56"/><stop offset="0.130" stop-color="#88ff4e"/><stop offset="0.149" stop-color="#99fe42"/><stop offset="0.167" stop-color="#acfb38"/><stop offset="0.186" stop-color="#c3f134"/><stop offset="0.214" stop-color="#e1dd37"/><stop offset="0.242" stop-color="#f4c73a"/><stop offset="0.270" stop-color="#f9bc39"/><stop offset="0.297" stop-color="#f8be39"/><stop offset="0.335" stop-color="#efcd3a"/><stop offset="0.390" stop-color="#d7e535"/><stop offset="0.428" stop-color="#d0ea34"/><stop offset="0.455" stop-color="#d2e935"/><stop offset="0.502" stop-color="#e5d938"/><stop offset="0.539" stop-color="#f4c73a"/><stop offset="0.576" stop-color="#fbb637"/><stop offset="0.595" stop-color="#fea732"/><stop offset="0.632" stop-color="#f9781e"/><stop offset="0.651" stop-color="#f56918"/><stop offset="0.660" stop-color="#f46617"/><stop offset="0.669" stop-color="#f56918"/><stop offset="0.688" stop-color="#fa7b1f"/><stop offset="0.716" stop-color="#fea933"/><stop offset="0.734" stop-color="#f5c53a"/><stop offset="0.762" stop-color="#dde037"/><stop offset="0.790" stop-color="#c6f034"/><stop offset="0.818" stop-color="#b1f936"/><stop offset="0.846" stop-color="#96fe44"/><stop offset="0.864" stop-color="#7dff56"/><stop offset="0.901" stop-color="#3ff68a"/><stop offset="0.920" stop-color="#27eea4"/><stop offset="0.939" stop-color="#19e3b9"/><stop offset="0.957" stop-color="#19d5cd"/><stop offset="0.985" stop-color="#28bceb"/><stop offset="0.994" stop-color="#2fb2f4"/></linearGradient>
<linearGradient id="h42" x1="0" y1="0" x2="0" y2="1"><stop offset="0.000" stop-color="#b1f936"/><stop offset="0.028" stop-color="#a4fc3c"/><stop offset="0.065" stop-color="#8bff4b"/><stop offset="0.093" stop-color="#80ff53"/><stop offset="0.112" stop-color="#84ff51"/><stop offset="0.130" stop-color="#8fff49"/><stop offset="0.158" stop-color="#a9fb39"/><stop offset="0.186" stop-color="#cbed34"/><stop offset="0.214" stop-color="#e7d739"/><stop offset="0.232" stop-color="#f2c93a"/><stop offset="0.270" stop-color="#faba39"/><stop offset="0.307" stop-color="#f7c13a"/><stop offset="0.344" stop-color="#ebd339"/><stop offset="0.381" stop-color="#d9e436"/><stop offset="0.409" stop-color="#d0ea34"/><stop offset="0.455" stop-color="#d2e935"/><stop offset="0.502" stop-color="#e5d938"/><stop offset="0.539" stop-color="#f4c73a"/><stop offset="0.576" stop-color="#fcb336"/><stop offset="0.595" stop-color="#fea431"/><stop offset="0.632" stop-color="#f9751d"/><stop offset="0.641" stop-color="#f66c19"/><stop offset="0.660" stop-color="#f56918"/><stop offset="0.669" stop-color="#f66c19"/><stop offset="0.688" stop-color="#fb8122"/><stop offset="0.716" stop-color="#fdae35"/><stop offset="0.734" stop-color="#f4c73a"/><stop offset="0.762" stop-color="#dbe236"/><stop offset="0.809" stop-color="#b7f735"/><stop offset="0.827" stop-color="#a7fc3a"/><stop offset="0.846" stop-color="#92ff47"/><stop offset="0.874" stop-color="#65fd69"/><stop offset="0.892" stop-color="#4af880"/><stop offset="0.920" stop-color="#25eca7"/><stop offset="0.939" stop-color="#19e2bb"/><stop offset="0.957" stop-color="#1ad4d0"/><stop offset="0.985" stop-color="#2ab9ee"/><stop offset="0.994" stop-color="#31aff5"/></linearGradient>
<linearGradient id="h43" x1="0" y1="0" x2="0" y2="1"><stop offset="0.000" stop-color="#b1f936"/><stop offset="0.056" stop-color="#92ff47"/><stop offset="0.074" stop-color="#88ff4e"/><stop offset="0.093" stop-color="#84ff51"/><stop offset="0.112" stop-color="#88ff4e"/><stop offset="0.149" stop-color="#a7fc3a"/><stop offset="0.177" stop-color="#c6f034"/><stop offset="0.195" stop-color="#dbe236"/><stop offset="0.223" stop-color="#efcd3a"/><stop offset="0.251" stop-color="#f9bc39"/><stop offset="0.288" stop-color="#faba39"/><stop offset="0.316" stop-color="#f5c53a"/><stop offset="0.362" stop-color="#e1dd37"/><stop offset="0.400" stop-color="#d2e935"/><stop offset="0.428" stop-color="#cdec34"/><stop offset="0.465" stop-color="#d4e735"/><stop offset="0.520" stop-color="#eecf3a"/><stop offset="0.576" stop-color="#fcb336"/><stop offset="0.595" stop-color="#fea130"/><stop offset="0.623" stop-color="#fb7e21"/><stop offset="0.641" stop-color="#f66c19"/><stop offset="0.660" stop-color="#f56918"/><stop offset="0.678" stop-color="#f9781e"/><stop offset="0.706" stop-color="#fea130"/><stop offset="0.725" stop-color="#f8be39"/><stop offset="0.753" stop-color="#e3db38"/><stop offset="0.781" stop-color="#cbed34"/><stop offset="0.818" stop-color="#acfb38"/><stop offset="0.836" stop-color="#99fe42"/><stop offset="0.846" stop-color="#8fff49"/><stop offset="0.874" stop-color="#61fc6c"/><stop offset="0.883" stop-color="#52fa7a"/><stop offset="0.920" stop-color="#22ebaa"/><stop offset="0.939" stop-color="#18e0bd"/><stop offset="0.957" stop-color="#1ad2d2"/><stop offset="0.985" stop-color="#2cb7f0"/><stop offset="0.994" stop-color="#33adf7"/></linearGradient>
<linearGradient id="h44" x1="0" y1="0" x2="0" y2="1"><stop offset="0.000" stop-color="#affa37"/><stop offset="0.028" stop-color="#a1fd3d"/><stop offset="0.074" stop-color="#88ff4e"/><stop offset="0.093" stop-color="#88ff4e"/><stop offset="0.112" stop-color="#8fff49"/><stop offset="0.149" stop-color="#affa37"/><stop offset="0.177" stop-color="#cdec34"/><stop offset="0.214" stop-color="#eecf3a"/><stop offset="0.242" stop-color="#f8be39"/><stop offset="0.260" stop-color="#fbb838"/><stop offset="0.288" stop-color="#faba39"/><stop offset="0.335" stop-color="#ecd13a"/><stop offset="0.381" stop-color="#d7e535"/><stop offset="0.428" stop-color="#cdec34"/><stop offset="0.465" stop-color="#d4e735"/><stop offset="0.520" stop-color="#eecf3a"/><stop offset="0.567" stop-color="#fbb838"/><stop offset="0.586" stop-color="#fea933"/><stop offset="0.623" stop-color="#fa7b1f"/><stop offset="0.641" stop-color="#f66c19"/><stop offset="0.651" stop-color="#f56918"/><stop offset="0.669" stop-color="#f8721c"/><stop offset="0.688" stop-color="#fc8725"/><stop offset="0.706" stop-color="#fea732"/><stop offset="0.725" stop-color="#f7c13a"/><stop offset="0.753" stop-color="#e1dd37"/><stop offset="0.781" stop-color="#c8ef34"/><stop offset="0.818" stop-color="#a9fb39"/><stop offset="0.827" stop-color="#a1fd3d"/><stop offset="0.855" stop-color="#7dff56"/><stop offset="0.892" stop-color="#3ff68a"/><stop offset="0.901" stop-color="#32f298"/><stop offset="0.929" stop-color="#1ae4b6"/><stop offset="0.948" stop-color="#18d7ca"/><stop offset="0.976" stop-color="#27bee9"/><stop offset="0.994" stop-color="#35abf8"/></linearGradient>
<linearGradient id="h45" x1="0" y1="0" x2="0" y2="1"><stop offset="0.000" stop-color="#affa37"/><stop offset="0.056" stop-color="#92ff47"/><stop offset="0.074" stop-color="#8bff4b"/><stop offset="0.093" stop-color="#8fff49"/><stop offset="0.121" stop-color="#9cfe40"/><stop offset="0.149" stop-color="#b7f735"/><stop offset="0.177" stop-color="#d2e935"/><stop offset="0.214" stop-color="#f1cb3a"/><stop offset="0.251" stop-color="#fbb838"/><stop offset="0.288" stop-color="#faba39"/><stop offset="0.335" stop-color="#ecd13a"/><stop offset="0.381" stop-color="#d7e535"/><stop offset="0.400" stop-color="#d0ea34"/><stop offset="0.437" stop-color="#cdec34"/><stop offset="0.483" stop-color="#dbe236"/><stop offset="0.530" stop-color="#f1cb3a"/><stop offset="0.567" stop-color="#fbb637"/><stop offset="0.586" stop-color="#fea732"/><stop offset="0.623" stop-color="#fa7b1f"/><stop offset="0.641" stop-color="#f66c19"/><stop offset="0.651" stop-color="#f56918"/><stop offset="0.669" stop-color="#f8721c"/><stop offset="0.697" stop-color="#fe992c"/><stop offset="0.706" stop-color="#fea933"/><stop offset="0.725" stop-color="#f6c33a"/><stop offset="0.753" stop-color="#dfdf37"/><stop offset="0.790" stop-color="#bef434"/><stop offset="0.818" stop-color="#a7fc3a"/><stop offset="0.836" stop-color="#92ff47"/><stop offset="0.855" stop-color="#79fe59"/><stop offset="0.892" stop-color="#3cf58e"/><stop offset="0.901" stop-color="#2ff19b"/><stop offset="0.920" stop-color="#1fe9af"/><stop offset="0.939" stop-color="#18ddc2"/><stop offset="0.957" stop-color="#1ccdd8"/><stop offset="0.985" stop-color="#2fb2f4"/><stop offset="0.994" stop-color="#37a8fa"/></linearGradient>
<linearGradient id="h46" x1="0" y1="0" x2="0" y2="1"><stop offset="0.000" stop-color="#acfb38"/><stop offset="0.065" stop-color="#8fff49"/><stop offset="0.084" stop-color="#8fff49"/><stop offset="0.112" stop-color="#9cfe40"/><stop offset="0.139" stop-color="#b1f936"/><stop offset="0.167" stop-color="#d0ea34"/><stop offset="0.186" stop-color="#e1dd37"/><stop offset="0.214" stop-color="#f2c93a"/><stop offset="0.242" stop-color="#faba39"/><stop offset="0.270" stop-color="#fbb637"/><stop offset="0.297" stop-color="#f8be39"/><stop offset="0.344" stop-color="#e7d739"/><stop offset="0.372" stop-color="#d9e436"/><stop offset="0.409" stop-color="#cdec34"/><stop offset="0.446" stop-color="#d0ea34"/><stop offset="0.493" stop-color="#dfdf37"/><stop offset="0.539" stop-color="#f5c53a"/><stop offset="0.576" stop-color="#fdae35"/><stop offset="0.604" stop-color="#fe9029"/><stop offset="0.623" stop-color="#f9781e"/><stop offset="0.632" stop-color="#f76f1a"/><stop offset="0.651" stop-color="#f66c19"/><stop offset="0.669" stop-color="#f9751d"/><stop offset="0.697" stop-color="#fe9b2d"/><stop offset="0.706" stop-color="#fdac34"/><stop offset="0.725" stop-color="#f5c53a"/><stop offset="0.753" stop-color="#dde037"/><stop offset="0.790" stop-color="#bef434"/><stop offset="0.818" stop-color="#a4fc3c"/><stop offset="0.836" stop-color="#8fff49"/><stop offset="0.855" stop-color="#71fe5f"/><stop offset="0.874" stop-color="#55fa76"/><stop offset="0.901" stop-color="#2cf09e"/><stop offset="0.920" stop-color="#1de7b2"/><stop offset="0.939" stop-color="#18dbc5"/><stop offset="0.957" stop-color="#1ecbda"/><stop offset="0.985" stop-color="#31aff5"/><stop offset="0.994" stop-color="#37a8fa"/></linearGradient>
<linearGradient id="h47" x1="0" y1="0" x2="0" y2="1"><stop offset="0.000" stop-color="#acfb38"/><stop offset="0.046" stop-color="#99fe42"/><stop offset="0.065" stop-color="#92ff47"/><stop offset="0.084" stop-color="#96fe44"/><stop offset="0.112" stop-color="#a1fd3d"/><stop offset="0.139" stop-color="#b9f635"/><stop offset="0.167" stop-color="#d4e735"/><stop offset="0.186" stop-color="#e5d938"/><stop offset="0.214" stop-color="#f5c53a"/><stop offset="0.251" stop-color="#fbb637"/><stop offset="0.279" stop-color="#fbb838"/><stop offset="0.297" stop-color="#f8be39"/><stop offset="0.353" stop-color="#e1dd37"/><stop offset="0.390" stop-color="#d2e935"/><stop offset="0.418" stop-color="#cdec34"/><stop offset="0.446" stop-color="#d0ea34"/><stop offset="0.483" stop-color="#dbe236"/><stop offset="0.539" stop-color="#f5c53a"/><stop offset="0.576" stop-color="#fdac34"/><stop offset="0.604" stop-color="#fd8d27"/><stop offset="0.623" stop-color="#f9781e"/><stop offset="0.632" stop-color="#f76f1a"/><stop offset="0.651" stop-color="#f66c19"/><stop offset="0.660" stop-color="#f76f1a"/><stop offset="0.678" stop-color="#fc8423"/><stop offset="0.697" stop-color="#fe9e2f"/><stop offset="0.706" stop-color="#fdae35"/><stop offset="0.725" stop-color="#f4c73a"/><stop offset="0.753" stop-color="#dde037"/><stop offset="0.790" stop-color="#bcf534"/><stop offset="0.818" stop-color="#a1fd3d"/><stop offset="0.836" stop-color="#8bff4b"/><stop offset="0.855" stop-color="#6dfe62"/><stop offset="0.874" stop-color="#52fa7a"/><stop offset="0.901" stop-color="#2aefa1"/><stop offset="0.920" stop-color="#1ce6b4"/><stop offset="0.939" stop-color="#18d9c8"/><stop offset="0.967" stop-color="#25c0e7"/><stop offset="0.994" stop-color="#38a5fb"/></linearGradient>
<linearGradient id="h48" x1="0" y1="0" x2="0" y2="1"><stop offset="0.000" stop-color="#acfb38"/><stop offset="0.046" stop-color="#99fe42"/><stop offset="0.065" stop-color="#96fe44"/><stop offset="0.084" stop-color="#99fe42"/><stop offset="0.112" stop-color="#a7fc3a"/><stop offset="0.149" stop-color="#c8ef34"/><stop offset="0.186" stop-color="#e9d539"/><stop offset="0.223" stop-color="#f8be39"/><stop offset="0.242" stop-color="#fbb637"/><stop offset="0.279" stop-color="#fbb838"/><stop offset="0.325" stop-color="#eecf3a"/><stop offset="0.372" stop-color="#d7e535"/><stop offset="0.418" stop-color="#cdec34"/><stop offset="0.455" stop-color="#d0ea34"/><stop offset="0.493" stop-color="#dfdf37"/><stop offset="0.539" stop-color="#f5c53a"/><stop offset="0.576" stop-color="#fea933"/><stop offset="0.595" stop-color="#fe962b"/><stop offset="0.623" stop-color="#f9751d"/><stop offset="0.641" stop-color="#f66c19"/><stop offset="0.660" stop-color="#f8721c"/><stop offset="0.678" stop-color="#fc8725"/><stop offset="0.697" stop-color="#fea130"/><stop offset="0.706" stop-color="#fcb136"/><stop offset="0.725" stop-color="#f2c93a"/><stop offset="0.753" stop-color="#dbe236"/><stop offset="0.790" stop-color="#b9f635"/><stop offset="0.809" stop-color="#a9fb39"/><stop offset="0.836" stop-color="#88ff4e"/><stop offset="0.855" stop-color="#69fd66"/><stop offset="0.874" stop-color="#4ef97d"/><stop offset="0.901" stop-color="#27eea4"/><stop offset="0.920" stop-color="#1ae4b6"/><stop offset="0.939" stop-color="#18d7ca"/><stop offset="0.967" stop-color="#25c0e7"/><stop offset="0.994" stop-color="#3aa3fc"/></linearGradient>
<linearGradient id="h49" x1="0" y1="0" x2="0" y2="1"><stop offset="0.000" stop-color="#acfb38"/><stop offset="0.037" stop-color="#9ffd3f"/><stop offset="0.065" stop-color="#9cfe40"/><stop offset="0.093" stop-color="#a1fd3d"/><stop offset="0.130" stop-color="#bcf534"/><stop offset="0.167" stop-color="#dde037"/><stop offset="0.195" stop-color="#f1cb3a"/><stop offset="0.223" stop-color="#faba39"/><stop offset="0.251" stop-color="#fcb336"/><stop offset="0.270" stop-color="#fbb637"/><stop offset="0.297" stop-color="#f7c13a"/><stop offset="0.344" stop-color="#e3db38"/><stop offset="0.390" stop-color="#d0ea34"/><stop offset="0.428" stop-color="#cbed34"/><stop offset="0.455" stop-color="#d0ea34"/><stop offset="0.502" stop-color="#e3db38"/><stop offset="0.539" stop-color="#f5c53a"/><stop offset="0.576" stop-color="#fea933"/><stop offset="0.613" stop-color="#fb7e21"/><stop offset="0.632" stop-color="#f76f1a"/><stop offset="0.641" stop-color="#f66c19"/><stop offset="0.660" stop-color="#f9751d"/><stop offset="0.688" stop-color="#fe962b"/><stop offset="0.706" stop-color="#fcb336"/><stop offset="0.725" stop-color="#f2c93a"/><stop offset="0.753" stop-color="#d9e436"/><stop offset="0.790" stop-color="#b9f635"/><stop offset="0.809" stop-color="#a7fc3a"/><stop offset="0.827" stop-color="#92ff47"/><stop offset="0.855" stop-color="#65fd69"/><stop offset="0.874" stop-color="#4af880"/><stop offset="0.892" stop-color="#2ff19b"/><stop offset="0.911" stop-color="#1fe9af"/><stop offset="0.929" stop-color="#18ddc2"/><stop offset="0.948" stop-color="#1bd0d5"/><stop offset="0.976" stop-color="#2eb4f2"/><stop offset="0.994" stop-color="#3aa3fc"/></linearGradient>
<linearGradient id="h50" x1="0" y1="0" x2="0" y2="1"><stop offset="0.000" stop-color="#a9fb39"/><stop offset="0.037" stop-color="#9ffd3f"/><stop offset="0.065" stop-color="#9ffd3f"/><stop offset="0.102" stop-color="#acfb38"/><stop offset="0.130" stop-color="#c1f334"/><stop offset="0.167" stop-color="#e1dd37"/><stop offset="0.195" stop-color="#f2c93a"/><stop offset="0.232" stop-color="#fbb637"/><stop offset="0.260" stop-color="#fcb336"/><stop offset="0.307" stop-color="#f4c73a"/><stop offset="0.344" stop-color="#e1dd37"/><stop offset="0.381" stop-color="#d2e935"/><stop offset="0.418" stop-color="#cbed34"/><stop offset="0.465" stop-color="#d2e935"/><stop offset="0.511" stop-color="#e9d539"/><stop offset="0.548" stop-color="#f8be39"/><stop offset="0.576" stop-color="#fea732"/><stop offset="0.623" stop-color="#f9751d"/><stop offset="0.632" stop-color="#f76f1a"/><stop offset="0.651" stop-color="#f76f1a"/><stop offset="0.660" stop-color="#f9751d"/><stop offset="0.697" stop-color="#fea732"/><stop offset="0.706" stop-color="#fbb637"/><stop offset="0.725" stop-color="#f1cb3a"/><stop offset="0.753" stop-color="#d9e436"/><stop offset="0.790" stop-color="#b7f735"/><stop offset="0.809" stop-color="#a4fc3c"/><stop offset="0.827" stop-color="#8fff49"/><stop offset="0.846" stop-color="#71fe5f"/><stop offset="0.864" stop-color="#55fa76"/><stop offset="0.883" stop-color="#38f491"/><stop offset="0.911" stop-color="#1de7b2"/><stop offset="0.929" stop-color="#18ddc2"/><stop offset="0.948" stop-color="#1ccdd8"/><stop offset="0.967" stop-color="#28bceb"/><stop offset="0.994" stop-color="#3ba0fd"/></linearGradient>
<linearGradient id="h51" x1="0" y1="0" x2="0" y2="1"><stop offset="0.000" stop-color="#acfb38"/><stop offset="0.019" stop-color="#a4fc3c"/><stop offset="0.065" stop-color="#a1fd3d"/><stop offset="0.093" stop-color="#acfb38"/><stop offset="0.130" stop-color="#c6f034"/><stop offset="0.167" stop-color="#e5d938"/><stop offset="0.195" stop-color="#f5c53a"/><stop offset="0.214" stop-color="#faba39"/><stop offset="0.251" stop-color="#fcb336"/><stop offset="0.288" stop-color="#f8be39"/><stop offset="0.344" stop-color="#e1dd37"/><stop offset="0.381" stop-color="#d2e935"/><stop offset="0.418" stop-color="#cbed34"/><stop offset="0.446" stop-color="#cdec34"/><stop offset="0.474" stop-color="#d7e535"/><stop offset="0.511" stop-color="#e9d539"/><stop offset="0.548" stop-color="#f9bc39"/><stop offset="0.567" stop-color="#fdae35"/><stop offset="0.595" stop-color="#fe9029"/><stop offset="0.613" stop-color="#fa7b1f"/><stop offset="0.632" stop-color="#f76f1a"/><stop offset="0.651" stop-color="#f8721c"/><stop offset="0.669" stop-color="#fb8122"/><stop offset="0.697" stop-color="#fea933"/><stop offset="0.716" stop-color="#f6c33a"/><stop offset="0.743" stop-color="#dfdf37"/><stop offset="0.781" stop-color="#bef434"/><stop offset="0.799" stop-color="#acfb38"/><stop offset="0.818" stop-color="#99fe42"/><stop offset="0.846" stop-color="#71fe5f"/><stop offset="0.874" stop-color="#43f787"/><stop offset="0.901" stop-color="#22ebaa"/><stop offset="0.920" stop-color="#19e2bb"/><stop offset="0.939" stop-color="#1ad4d0"/><stop offset="0.967" stop-color="#28bceb"/><stop offset="0.985" stop-color="#37a8fa"/><stop offset="0.994" stop-color="#3ba0fd"/></linearGradient>
<linearGradient id="h52" x1="0" y1="0" x2="0" y2="1"><stop offset="0.000" stop-color="#acfb38"/><stop offset="0.037" stop-color="#a4fc3c"/><stop offset="0.065" stop-color="#a7fc3a"/><stop offset="0.093" stop-color="#b1f936"/><stop offset="0.139" stop-color="#d4e735"/><stop offset="0.177" stop-color="#eecf3a"/><stop offset="0.214" stop-color="#fbb838"/><stop offset="0.242" stop-color="#fcb336"/><stop offset="0.270" stop-color="#fbb838"/><stop offset="0.307" stop-color="#f1cb3a"/><stop offset="0.353" stop-color="#dbe236"/><stop offset="0.381" stop-color="#d0ea34"/><stop offset="0.409" stop-color="#cbed34"/><stop offset="0.446" stop-color="#cdec34"/><stop offset="0.474" stop-color="#d7e535"/><stop offset="0.520" stop-color="#eecf3a"/><stop offset="0.558" stop-color="#fbb637"/><stop offset="0.586" stop-color="#fe992c"/><stop offset="0.613" stop-color="#fa7b1f"/><stop offset="0.632" stop-color="#f76f1a"/><stop offset="0.641" stop-color="#f76f1a"/><stop offset="0.660" stop-color="#fa7b1f"/><stop offset="0.678" stop-color="#fe9029"/><stop offset="0.697" stop-color="#fdac34"/><stop offset="0.716" stop-color="#f5c53a"/><stop offset="0.743" stop-color="#dfdf37"/><stop offset="0.771" stop-color="#c6f034"/><stop offset="0.799" stop-color="#a9fb39"/><stop offset="0.809" stop-color="#a1fd3d"/><stop offset="0.836" stop-color="#7dff56"/><stop offset="0.864" stop-color="#4ef97d"/><stop offset="0.892" stop-color="#2aefa1"/><stop offset="0.911" stop-color="#1ce6b4"/><stop offset="0.929" stop-color="#18d9c8"/><stop offset="0.948" stop-color="#1ecbda"/><stop offset="0.967" stop-color="#2ab9ee"/><stop offset="0.994" stop-color="#3d9efe"/></linearGradient>
<linearGradient id="h53" x1="0" y1="0" x2="0" y2="1"><stop offset="0.000" stop-color="#acfb38"/><stop offset="0.028" stop-color="#a7fc3a"/><stop offset="0.065" stop-color="#a9fb39"/><stop offset="0.102" stop-color="#bcf534"/><stop offset="0.158" stop-color="#e5d938"/><stop offset="0.186" stop-color="#f5c53a"/><stop offset="0.204" stop-color="#faba39"/><stop offset="0.223" stop-color="#fcb336"/><stop offset="0.242" stop-color="#fcb136"/><stop offset="0.279" stop-color="#f9bc39"/><stop offset="0.325" stop-color="#e7d739"/><stop offset="0.362" stop-color="#d4e735"/><stop offset="0.409" stop-color="#cbed34"/><stop offset="0.446" stop-color="#cdec34"/><stop offset="0.474" stop-color="#d7e535"/><stop offset="0.520" stop-color="#eecf3a"/><stop offset="0.548" stop-color="#faba39"/><stop offset="0.567" stop-color="#fdac34"/><stop offset="0.604" stop-color="#fb8122"/><stop offset="0.623" stop-color="#f9751d"/><stop offset="0.641" stop-color="#f8721c"/><stop offset="0.651" stop-color="#f9751d"/><stop offset="0.678" stop-color="#fe932a"/><stop offset="0.706" stop-color="#faba39"/><stop offset="0.716" stop-color="#f4c73a"/><stop offset="0.743" stop-color="#dde037"/><stop offset="0.781" stop-color="#bcf534"/><stop offset="0.799" stop-color="#a9fb39"/><stop offset="0.827" stop-color="#88ff4e"/><stop offset="0.846" stop-color="#69fd66"/><stop offset="0.864" stop-color="#4ef97d"/><stop offset="0.883" stop-color="#32f298"/><stop offset="0.911" stop-color="#1ae4b6"/><stop offset="0.929" stop-color="#18d9c8"/><stop offset="0.948" stop-color="#1fc9dd"/><stop offset="0.976" stop-color="#31aff5"/><stop offset="0.994" stop-color="#3d9efe"/></linearGradient>
<linearGradient id="h54" x1="0" y1="0" x2="0" y2="1"><stop offset="0.000" stop-color="#acfb38"/><stop offset="0.046" stop-color="#a9fb39"/><stop offset="0.084" stop-color="#b7f735"/><stop offset="0.112" stop-color="#c8ef34"/><stop offset="0.167" stop-color="#eecf3a"/><stop offset="0.204" stop-color="#fbb838"/><stop offset="0.242" stop-color="#fcb136"/><stop offset="0.279" stop-color="#f8be39"/><stop offset="0.335" stop-color="#e1dd37"/><stop offset="0.353" stop-color="#d7e535"/><stop offset="0.390" stop-color="#cbed34"/><stop offset="0.418" stop-color="#c8ef34"/><stop offset="0.465" stop-color="#d2e935"/><stop offset="0.502" stop-color="#e5d938"/><stop offset="0.539" stop-color="#f7c13a"/><stop offset="0.567" stop-color="#fea933"/><stop offset="0.604" stop-color="#fb8122"/><stop offset="0.613" stop-color="#f9781e"/><stop offset="0.632" stop-color="#f8721c"/><stop offset="0.641" stop-color="#f8721c"/><stop offset="0.660" stop-color="#fb7e21"/><stop offset="0.688" stop-color="#fea431"/><stop offset="0.716" stop-color="#f4c73a"/><stop offset="0.743" stop-color="#dbe236"/><stop offset="0.781" stop-color="#b9f635"/><stop offset="0.799" stop-color="#a7fc3a"/><stop offset="0.818" stop-color="#92ff47"/><stop offset="0.846" stop-color="#69fd66"/><stop offset="0.864" stop-color="#4af880"/><stop offset="0.892" stop-color="#27eea4"/><stop offset="0.911" stop-color="#1ae4b6"/><stop offset="0.929" stop-color="#18d7ca"/><stop offset="0.948" stop-color="#1fc9dd"/><stop offset="0.976" stop-color="#31aff5"/><stop offset="0.994" stop-color="#3e9bfe"/></linearGradient>
<linearGradient id="h55" x1="0" y1="0" x2="0" y2="1"><stop offset="0.000" stop-color="#affa37"/><stop offset="0.037" stop-color="#acfb38"/><stop offset="0.074" stop-color="#b7f735"/><stop offset="0.112" stop-color="#cdec34"/><stop offset="0.158" stop-color="#ecd13a"/><stop offset="0.195" stop-color="#faba39"/><stop offset="0.223" stop-color="#fcb136"/><stop offset="0.260" stop-color="#fbb838"/><stop offset="0.297" stop-color="#f1cb3a"/><stop offset="0.344" stop-color="#dbe236"/><stop offset="0.372" stop-color="#d0ea34"/><stop offset="0.409" stop-color="#c8ef34"/><stop offset="0.437" stop-color="#cbed34"/><stop offset="0.474" stop-color="#d7e535"/><stop offset="0.502" stop-color="#e5d938"/><stop offset="0.539" stop-color="#f7c13a"/><stop offset="0.576" stop-color="#fe9e2f"/><stop offset="0.613" stop-color="#f9781e"/><stop offset="0.632" stop-color="#f8721c"/><stop offset="0.651" stop-color="#f9781e"/><stop offset="0.678" stop-color="#fe992c"/><stop offset="0.706" stop-color="#f8be39"/><stop offset="0.734" stop-color="#e3db38"/><stop offset="0.771" stop-color="#c1f334"/><stop offset="0.799" stop-color="#a7fc3a"/><stop offset="0.827" stop-color="#84ff51"/><stop offset="0.846" stop-color="#65fd69"/><stop offset="0.864" stop-color="#4af880"/><stop offset="0.874" stop-color="#3cf58e"/><stop offset="0.901" stop-color="#1fe9af"/><stop offset="0.920" stop-color="#18dec0"/><stop offset="0.948" stop-color="#1fc9dd"/><stop offset="0.967" stop-color="#2cb7f0"/><stop offset="0.994" stop-color="#3e9bfe"/></linearGradient>
<linearGradient id="h56" x1="0" y1="0" x2="0" y2="1"><stop offset="0.000" stop-color="#b1f936"/><stop offset="0.037" stop-color="#b1f936"/><stop offset="0.074" stop-color="#bcf534"/><stop offset="0.112" stop-color="#d2e935"/><stop offset="0.158" stop-color="#efcd3a"/><stop offset="0.186" stop-color="#f9bc39"/><stop offset="0.214" stop-color="#fcb136"/><stop offset="0.242" stop-color="#fcb336"/><stop offset="0.279" stop-color="#f6c33a"/><stop offset="0.335" stop-color="#dde037"/><stop offset="0.381" stop-color="#cbed34"/><stop offset="0.428" stop-color="#c8ef34"/><stop offset="0.474" stop-color="#d7e535"/><stop offset="0.502" stop-color="#e5d938"/><stop offset="0.539" stop-color="#f8be39"/><stop offset="0.567" stop-color="#fea732"/><stop offset="0.604" stop-color="#fb7e21"/><stop offset="0.623" stop-color="#f9751d"/><stop offset="0.632" stop-color="#f8721c"/><stop offset="0.651" stop-color="#fa7b1f"/><stop offset="0.678" stop-color="#fe9b2d"/><stop offset="0.706" stop-color="#f7c13a"/><stop offset="0.725" stop-color="#ebd339"/><stop offset="0.743" stop-color="#d9e436"/><stop offset="0.781" stop-color="#b7f735"/><stop offset="0.799" stop-color="#a4fc3c"/><stop offset="0.818" stop-color="#8fff49"/><stop offset="0.836" stop-color="#71fe5f"/><stop offset="0.855" stop-color="#55fa76"/><stop offset="0.864" stop-color="#46f884"/><stop offset="0.892" stop-color="#25eca7"/><stop offset="0.911" stop-color="#19e3b9"/><stop offset="0.929" stop-color="#18d7ca"/><stop offset="0.948" stop-color="#20c7df"/><stop offset="0.976" stop-color="#33adf7"/><stop offset="0.994" stop-color="#3e9bfe"/></linearGradient>
<linearGradient id="h57" x1="0" y1="0" x2="0" y2="1"><stop offset="0.000" stop-color="#b4f836"/><stop offset="0.037" stop-color="#b7f735"/><stop offset="0.084" stop-color="#c6f034"/><stop offset="0.121" stop-color="#dde037"/><stop offset="0.158" stop-color="#f2c93a"/><stop offset="0.195" stop-color="#fbb637"/><stop offset="0.223" stop-color="#fcb136"/><stop offset="0.251" stop-color="#fbb637"/><stop offset="0.279" stop-color="#f5c53a"/><stop offset="0.335" stop-color="#dbe236"/><stop offset="0.362" stop-color="#d0ea34"/><stop offset="0.400" stop-color="#c8ef34"/><stop offset="0.437" stop-color="#cbed34"/><stop offset="0.474" stop-color="#d7e535"/><stop offset="0.511" stop-color="#ebd339"/><stop offset="0.539" stop-color="#f8be39"/><stop offset="0.576" stop-color="#fe9b2d"/><stop offset="0.604" stop-color="#fb7e21"/><stop offset="0.623" stop-color="#f9751d"/><stop offset="0.641" stop-color="#f9781e"/><stop offset="0.660" stop-color="#fc8725"/><stop offset="0.669" stop-color="#fe9029"/><stop offset="0.697" stop-color="#fbb838"/><stop offset="0.725" stop-color="#e9d539"/><stop offset="0.762" stop-color="#c8ef34"/><stop offset="0.790" stop-color="#acfb38"/><stop offset="0.809" stop-color="#99fe42"/><stop offset="0.827" stop-color="#80ff53"/><stop offset="0.846" stop-color="#61fc6c"/><stop offset="0.864" stop-color="#46f884"/><stop offset="0.874" stop-color="#38f491"/><stop offset="0.901" stop-color="#1de7b2"/><stop offset="0.920" stop-color="#18ddc2"/><stop offset="0.939" stop-color="#1bd0d5"/><stop offset="0.957" stop-color="#27bee9"/><stop offset="0.985" stop-color="#3aa3fc"/><stop offset="0.994" stop-color="#3e9bfe"/></linearGradient>
<linearGradient id="h58" x1="0" y1="0" x2="0" y2="1"><stop offset="0.000" stop-color="#b9f635"/><stop offset="0.046" stop-color="#bcf534"/><stop offset="0.093" stop-color="#d0ea34"/><stop offset="0.139" stop-color="#ebd339"/><stop offset="0.177" stop-color="#f9bc39"/><stop offset="0.204" stop-color="#fcb136"/><stop offset="0.242" stop-color="#fcb336"/><stop offset="0.279" stop-color="#f4c73a"/><stop offset="0.335" stop-color="#d9e436"/><stop offset="0.381" stop-color="#c8ef34"/><stop offset="0.418" stop-color="#c6f034"/><stop offset="0.446" stop-color="#cbed34"/><stop offset="0.483" stop-color="#dbe236"/><stop offset="0.530" stop-color="#f5c53a"/><stop offset="0.567" stop-color="#fea431"/><stop offset="0.604" stop-color="#fb7e21"/><stop offset="0.623" stop-color="#f9751d"/><stop offset="0.641" stop-color="#f9781e"/><stop offset="0.660" stop-color="#fc8725"/><stop offset="0.688" stop-color="#fdae35"/><stop offset="0.706" stop-color="#f6c33a"/><stop offset="0.734" stop-color="#dfdf37"/><stop offset="0.771" stop-color="#bef434"/><stop offset="0.790" stop-color="#acfb38"/><stop offset="0.818" stop-color="#8bff4b"/><stop offset="0.846" stop-color="#61fc6c"/><stop offset="0.855" stop-color="#52fa7a"/><stop offset="0.883" stop-color="#2cf09e"/><stop offset="0.901" stop-color="#1de7b2"/><stop offset="0.920" stop-color="#18ddc2"/><stop offset="0.948" stop-color="#20c7df"/><stop offset="0.967" stop-color="#2eb4f2"/><stop offset="0.994" stop-color="#4099ff"/></linearGradient>
<linearGradient id="h59" x1="0" y1="0" x2="0" y2="1"><stop offset="0.000" stop-color="#bcf534"/><stop offset="0.037" stop-color="#bef434"/><stop offset="0.084" stop-color="#d0ea34"/><stop offset="0.130" stop-color="#e9d539"/><stop offset="0.167" stop-color="#f8be39"/><stop offset="0.204" stop-color="#fcb136"/><stop offset="0.232" stop-color="#fcb336"/><stop offset="0.270" stop-color="#f6c33a"/><stop offset="0.307" stop-color="#e5d938"/><stop offset="0.362" stop-color="#cdec34"/><stop offset="0.400" stop-color="#c6f034"/><stop offset="0.446" stop-color="#cbed34"/><stop offset="0.483" stop-color="#dbe236"/><stop offset="0.520" stop-color="#f1cb3a"/><stop offset="0.548" stop-color="#fcb336"/><stop offset="0.576" stop-color="#fe992c"/><stop offset="0.595" stop-color="#fc8423"/><stop offset="0.613" stop-color="#f9781e"/><stop offset="0.632" stop-color="#f9751d"/><stop offset="0.651" stop-color="#fb8122"/><stop offset="0.678" stop-color="#fea130"/><stop offset="0.706" stop-color="#f5c53a"/><stop offset="0.734" stop-color="#dfdf37"/><stop offset="0.762" stop-color="#c6f034"/><stop offset="0.790" stop-color="#a9fb39"/><stop offset="0.799" stop-color="#a1fd3d"/><stop offset="0.827" stop-color="#7dff56"/><stop offset="0.846" stop-color="#5dfc6f"/><stop offset="0.874" stop-color="#38f491"/><stop offset="0.892" stop-color="#22ebaa"/><stop offset="0.911" stop-color="#19e2bb"/><stop offset="0.929" stop-color="#19d5cd"/><stop offset="0.948" stop-color="#22c5e2"/><stop offset="0.976" stop-color="#35abf8"/><stop offset="0.994" stop-color="#4099ff"/></linearGradient>
<linearGradient id="h60" x1="0" y1="0" x2="0" y2="1"><stop offset="0.000" stop-color="#bef434"/><stop offset="0.037" stop-color="#c3f134"/><stop offset="0.074" stop-color="#d0ea34"/><stop offset="0.121" stop-color="#e7d739"/><stop offset="0.158" stop-color="#f7c13a"/><stop offset="0.195" stop-color="#fcb136"/><stop offset="0.214" stop-color="#fdae35"/><stop offset="0.251" stop-color="#faba39"/><stop offset="0.297" stop-color="#e9d539"/><stop offset="0.344" stop-color="#d2e935"/><stop offset="0.372" stop-color="#c8ef34"/><stop offset="0.428" stop-color="#c6f034"/><stop offset="0.474" stop-color="#d7e535"/><stop offset="0.511" stop-color="#ecd13a"/><stop offset="0.539" stop-color="#faba39"/><stop offset="0.567" stop-color="#fea130"/><stop offset="0.595" stop-color="#fc8423"/><stop offset="0.613" stop-color="#f9781e"/><stop offset="0.623" stop-color="#f9751d"/><stop offset="0.641" stop-color="#fa7b1f"/><stop offset="0.669" stop-color="#fe992c"/><stop offset="0.697" stop-color="#f9bc39"/><stop offset="0.716" stop-color="#eecf3a"/><stop offset="0.743" stop-color="#d4e735"/><stop offset="0.781" stop-color="#b1f936"/><stop offset="0.809" stop-color="#96fe44"/><stop offset="0.836" stop-color="#6dfe62"/><stop offset="0.855" stop-color="#4ef97d"/><stop offset="0.883" stop-color="#2aefa1"/><stop offset="0.901" stop-color="#1ce6b4"/><stop offset="0.920" stop-color="#18dbc5"/><stop offset="0.948" stop-color="#22c5e2"/><stop offset="0.976" stop-color="#35abf8"/><stop offset="0.994" stop-color="#4099ff"/></linearGradient>
<linearGradient id="h61" x1="0" y1="0" x2="0" y2="1"><stop offset="0.000" stop-color="#c1f334"/><stop offset="0.046" stop-color="#c8ef34"/><stop offset="0.093" stop-color="#dbe236"/><stop offset="0.139" stop-color="#f2c93a"/><stop offset="0.177" stop-color="#fbb637"/><stop offset="0.214" stop-color="#fdae35"/><stop offset="0.242" stop-color="#fbb838"/><stop offset="0.288" stop-color="#ecd13a"/><stop offset="0.335" stop-color="#d4e735"/><stop offset="0.381" stop-color="#c6f034"/><stop offset="0.409" stop-color="#c3f134"/><stop offset="0.455" stop-color="#cdec34"/><stop offset="0.502" stop-color="#e7d739"/><stop offset="0.539" stop-color="#faba39"/><stop offset="0.576" stop-color="#fe962b"/><stop offset="0.604" stop-color="#fb7e21"/><stop offset="0.613" stop-color="#f9781e"/><stop offset="0.632" stop-color="#f9781e"/><stop offset="0.660" stop-color="#fd8d27"/><stop offset="0.688" stop-color="#fcb336"/><stop offset="0.716" stop-color="#ecd13a"/><stop offset="0.753" stop-color="#cbed34"/><stop offset="0.781" stop-color="#b1f936"/><stop offset="0.799" stop-color="#9ffd3f"/><stop offset="0.818" stop-color="#88ff4e"/><stop offset="0.836" stop-color="#69fd66"/><stop offset="0.855" stop-color="#4ef97d"/><stop offset="0.864" stop-color="#3ff68a"/><stop offset="0.883" stop-color="#2aefa1"/><stop offset="0.901" stop-color="#1ce6b4"/><stop offset="0.920" stop-color="#18dbc5"/><stop offset="0.948" stop-color="#22c5e2"/><stop offset="0.976" stop-color="#35abf8"/><stop offset="0.994" stop-color="#4099ff"/></linearGradient>
<linearGradient id="h62" x1="0" y1="0" x2="0" y2="1"><stop offset="0.000" stop-color="#c3f134"/><stop offset="0.056" stop-color="#cdec34"/><stop offset="0.093" stop-color="#dde037"/><stop offset="0.139" stop-color="#f4c73a"/><stop offset="0.186" stop-color="#fcb136"/><stop offset="0.204" stop-color="#fdae35"/><stop offset="0.242" stop-color="#faba39"/><stop offset="0.270" stop-color="#f2c93a"/><stop offset="0.325" stop-color="#d7e535"/><stop offset="0.372" stop-color="#c6f034"/><stop offset="0.418" stop-color="#c3f134"/><stop offset="0.465" stop-color="#d2e935"/><stop offset="0.493" stop-color="#e1dd37"/><stop offset="0.520" stop-color="#f2c93a"/><stop offset="0.548" stop-color="#fcb136"/><stop offset="0.576" stop-color="#fe962b"/><stop offset="0.586" stop-color="#fd8a26"/><stop offset="0.613" stop-color="#f9781e"/><stop offset="0.632" stop-color="#fa7b1f"/><stop offset="0.641" stop-color="#fb7e21"/><stop offset="0.669" stop-color="#fe9b2d"/><stop offset="0.688" stop-color="#fbb637"/><stop offset="0.706" stop-color="#f2c93a"/><stop offset="0.734" stop-color="#dbe236"/><stop offset="0.771" stop-color="#b9f635"/><stop offset="0.790" stop-color="#a7fc3a"/><stop offset="0.809" stop-color="#92ff47"/><stop offset="0.827" stop-color="#79fe59"/><stop offset="0.846" stop-color="#59fb73"/><stop offset="0.864" stop-color="#3ff68a"/><stop offset="0.874" stop-color="#32f298"/><stop offset="0.892" stop-color="#20eaac"/><stop offset="0.911" stop-color="#18e0bd"/><stop offset="0.929" stop-color="#1ad4d0"/><stop offset="0.957" stop-color="#28bceb"/><stop offset="0.976" stop-color="#35abf8"/><stop offset="0.994" stop-color="#4196ff"/></linearGradient>
<linearGradient id="h63" x1="0" y1="0" x2="0" y2="1"><stop offset="0.000" stop-color="#c6f034"/><stop offset="0.046" stop-color="#cdec34"/><stop offset="0.093" stop-color="#dfdf37"/><stop offset="0.139" stop-color="#f5c53a"/><stop offset="0.167" stop-color="#fbb637"/><stop offset="0.204" stop-color="#fdae35"/><stop offset="0.242" stop-color="#faba39"/><stop offset="0.297" stop-color="#e5d938"/><stop offset="0.344" stop-color="#cdec34"/><stop offset="0.390" stop-color="#c3f134"/><stop offset="0.428" stop-color="#c6f034"/><stop offset="0.465" stop-color="#d2e935"/><stop offset="0.511" stop-color="#eecf3a"/><stop offset="0.539" stop-color="#fbb838"/><stop offset="0.576" stop-color="#fe932a"/><stop offset="0.604" stop-color="#fb7e21"/><stop offset="0.623" stop-color="#f9781e"/><stop offset="0.641" stop-color="#fb8122"/><stop offset="0.651" stop-color="#fc8725"/><stop offset="0.678" stop-color="#fea933"/><stop offset="0.697" stop-color="#f7c13a"/><stop offset="0.725" stop-color="#e3db38"/><stop offset="0.762" stop-color="#c1f334"/><stop offset="0.790" stop-color="#a7fc3a"/><stop offset="0.818" stop-color="#84ff51"/><stop offset="0.846" stop-color="#59fb73"/><stop offset="0.855" stop-color="#4af880"/><stop offset="0.874" stop-color="#32f298"/><stop offset="0.901" stop-color="#1ae4b6"/><stop offset="0.920" stop-color="#18d9c8"/><stop offset="0.939" stop-color="#1ecbda"/><stop offset="0.967" stop-color="#2fb2f4"/><stop offset="0.985" stop-color="#3ba0fd"/><stop offset="0.994" stop-color="#4196ff"/></linearGradient>
<linearGradient id="h64" x1="0" y1="0" x2="0" y2="1"><stop offset="0.000" stop-color="#c6f034"/><stop offset="0.056" stop-color="#d2e935"/><stop offset="0.093" stop-color="#e1dd37"/><stop offset="0.139" stop-color="#f6c33a"/><stop offset="0.158" stop-color="#fbb838"/><stop offset="0.186" stop-color="#fdae35"/><stop offset="0.214" stop-color="#fcb136"/><stop offset="0.260" stop-color="#f4c73a"/><stop offset="0.316" stop-color="#d9e436"/><stop offset="0.362" stop-color="#c6f034"/><stop offset="0.400" stop-color="#c1f334"/><stop offset="0.437" stop-color="#c6f034"/><stop offset="0.474" stop-color="#d7e535"/><stop offset="0.511" stop-color="#eecf3a"/><stop offset="0.539" stop-color="#fbb838"/><stop offset="0.576" stop-color="#fe932a"/><stop offset="0.604" stop-color="#fb7e21"/><stop offset="0.623" stop-color="#fa7b1f"/><stop offset="0.632" stop-color="#fa7b1f"/><stop offset="0.660" stop-color="#fe932a"/><stop offset="0.688" stop-color="#fbb838"/><stop offset="0.706" stop-color="#f1cb3a"/><stop offset="0.734" stop-color="#d9e436"/><stop offset="0.771" stop-color="#b7f735"/><stop offset="0.799" stop-color="#9cfe40"/><stop offset="0.827" stop-color="#75fe5c"/><stop offset="0.855" stop-color="#4af880"/><stop offset="0.864" stop-color="#3cf58e"/><stop offset="0.883" stop-color="#27eea4"/><stop offset="0.901" stop-color="#1ae4b6"/><stop offset="0.920" stop-color="#18d9c8"/><stop offset="0.948" stop-color="#23c3e4"/><stop offset="0.967" stop-color="#2fb2f4"/><stop offset="0.985" stop-color="#3ba0fd"/><stop offset="0.994" stop-color="#4196ff"/></linearGradient>
<linearGradient id="h65" x1="0" y1="0" x2="0" y2="1"><stop offset="0.000" stop-color="#c6f034"/><stop offset="0.046" stop-color="#d0ea34"/><stop offset="0.093" stop-color="#e3db38"/><stop offset="0.139" stop-color="#f7c13a"/><stop offset="0.177" stop-color="#fcb136"/><stop offset="0.204" stop-color="#fdae35"/><stop offset="0.242" stop-color="#f9bc39"/><stop offset="0.288" stop-color="#e7d739"/><stop offset="0.335" stop-color="#d0ea34"/><stop offset="0.381" stop-color="#c1f334"/><stop offset="0.418" stop-color="#c1f334"/><stop offset="0.465" stop-color="#d2e935"/><stop offset="0.502" stop-color="#e9d539"/><stop offset="0.530" stop-color="#f8be39"/><stop offset="0.567" stop-color="#fe9b2d"/><stop offset="0.595" stop-color="#fc8423"/><stop offset="0.613" stop-color="#fa7b1f"/><stop offset="0.632" stop-color="#fb7e21"/><stop offset="0.660" stop-color="#fe962b"/><stop offset="0.688" stop-color="#faba39"/><stop offset="0.716" stop-color="#e9d539"/><stop offset="0.753" stop-color="#c8ef34"/><stop offset="0.781" stop-color="#acfb38"/><stop offset="0.799" stop-color="#99fe42"/><stop offset="0.809" stop-color="#8fff49"/><stop offset="0.827" stop-color="#71fe5f"/><stop offset="0.855" stop-color="#4af880"/><stop offset="0.864" stop-color="#3cf58e"/><stop offset="0.892" stop-color="#1fe9af"/><stop offset="0.911" stop-color="#18dec0"/><stop offset="0.929" stop-color="#1ad2d2"/><stop offset="0.957" stop-color="#2ab9ee"/><stop offset="0.985" stop-color="#3ba0fd"/><stop offset="0.994" stop-color="#4196ff"/></linearGradient>
<linearGradient id="h66" x1="0" y1="0" x2="0" y2="1"><stop offset="0.000" stop-color="#c8ef34"/><stop offset="0.056" stop-color="#d4e735"/><stop offset="0.112" stop-color="#eecf3a"/><stop offset="0.149" stop-color="#faba39"/><stop offset="0.177" stop-color="#fdae35"/><stop offset="0.214" stop-color="#fcb136"/><stop offset="0.260" stop-color="#f2c93a"/><stop offset="0.316" stop-color="#d7e535"/><stop offset="0.362" stop-color="#c6f034"/><stop offset="0.400" stop-color="#bef434"/><stop offset="0.446" stop-color="#c8ef34"/><stop offset="0.493" stop-color="#e3db38"/><stop offset="0.520" stop-color="#f5c53a"/><stop offset="0.558" stop-color="#fea431"/><stop offset="0.576" stop-color="#fe9029"/><stop offset="0.595" stop-color="#fb8122"/><stop offset="0.613" stop-color="#fa7b1f"/><stop offset="0.632" stop-color="#fb7e21"/><stop offset="0.651" stop-color="#fd8d27"/><stop offset="0.678" stop-color="#fdae35"/><stop offset="0.706" stop-color="#efcd3a"/><stop offset="0.725" stop-color="#dfdf37"/><stop offset="0.771" stop-color="#b7f735"/><stop offset="0.790" stop-color="#a4fc3c"/><stop offset="0.818" stop-color="#80ff53"/><stop offset="0.846" stop-color="#55fa76"/><stop offset="0.855" stop-color="#46f884"/><stop offset="0.874" stop-color="#2ff19b"/><stop offset="0.892" stop-color="#1fe9af"/><stop offset="0.911" stop-color="#18dec0"/><stop offset="0.929" stop-color="#1ad2d2"/><stop offset="0.957" stop-color="#2ab9ee"/><stop offset="0.985" stop-color="#3d9efe"/><stop offset="0.994" stop-color="#4196ff"/></linearGradient>
<linearGradient id="h67" x1="0" y1="0" x2="0" y2="1"><stop offset="0.000" stop-color="#c8ef34"/><stop offset="0.046" stop-color="#d2e935"/><stop offset="0.074" stop-color="#dde037"/><stop offset="0.121" stop-color="#f4c73a"/><stop offset="0.167" stop-color="#fcb136"/><stop offset="0.195" stop-color="#fdae35"/><stop offset="0.232" stop-color="#faba39"/><stop offset="0.279" stop-color="#e9d539"/><stop offset="0.335" stop-color="#cdec34"/><stop offset="0.372" stop-color="#c1f334"/><stop offset="0.409" stop-color="#bef434"/><stop offset="0.455" stop-color="#cdec34"/><stop offset="0.493" stop-color="#e3db38"/><stop offset="0.530" stop-color="#f9bc39"/><stop offset="0.558" stop-color="#fea431"/><stop offset="0.576" stop-color="#fe9029"/><stop offset="0.595" stop-color="#fb8122"/><stop offset="0.613" stop-color="#fa7b1f"/><stop offset="0.632" stop-color="#fb8122"/><stop offset="0.660" stop-color="#fe992c"/><stop offset="0.688" stop-color="#f9bc39"/><stop offset="0.716" stop-color="#e7d739"/><stop offset="0.753" stop-color="#c6f034"/><stop offset="0.781" stop-color="#acfb38"/><stop offset="0.799" stop-color="#99fe42"/><stop offset="0.827" stop-color="#71fe5f"/><stop offset="0.836" stop-color="#61fc6c"/><stop offset="0.874" stop-color="#2ff19b"/><stop offset="0.883" stop-color="#25eca7"/><stop offset="0.901" stop-color="#19e3b9"/><stop offset="0.929" stop-color="#1ad2d2"/><stop offset="0.948" stop-color="#25c0e7"/><stop offset="0.976" stop-color="#37a8fa"/><stop offset="0.994" stop-color="#4196ff"/></linearGradient>
<linearGradient id="h68" x1="0" y1="0" x2="0" y2="1"><stop offset="0.000" stop-color="#c8ef34"/><stop offset="0.037" stop-color="#d0ea34"/><stop offset="0.084" stop-color="#e3db38"/><stop offset="0.130" stop-color="#f7c13a"/><stop offset="0.149" stop-color="#fbb637"/><stop offset="0.186" stop-color="#fdae35"/><stop offset="0.214" stop-color="#fcb336"/><stop offset="0.251" stop-color="#f4c73a"/><stop offset="0.307" stop-color="#d9e436"/><stop offset="0.353" stop-color="#c6f034"/><stop offset="0.390" stop-color="#bef434"/><stop offset="0.428" stop-color="#c1f334"/><stop offset="0.465" stop-color="#d2e935"/><stop offset="0.502" stop-color="#ebd339"/><stop offset="0.530" stop-color="#f9bc39"/><stop offset="0.567" stop-color="#fe992c"/><stop offset="0.595" stop-color="#fb8122"/><stop offset="0.613" stop-color="#fb7e21"/><stop offset="0.632" stop-color="#fb8122"/><stop offset="0.651" stop-color="#fe9029"/><stop offset="0.678" stop-color="#fcb336"/><stop offset="0.706" stop-color="#eecf3a"/><stop offset="0.743" stop-color="#cdec34"/><stop offset="0.771" stop-color="#b4f836"/><stop offset="0.790" stop-color="#a1fd3d"/><stop offset="0.809" stop-color="#8bff4b"/><stop offset="0.836" stop-color="#61fc6c"/><stop offset="0.846" stop-color="#52fa7a"/><stop offset="0.864" stop-color="#38f491"/><stop offset="0.883" stop-color="#25eca7"/><stop offset="0.901" stop-color="#19e3b9"/><stop offset="0.920" stop-color="#18d7ca"/><stop offset="0.948" stop-color="#25c0e7"/><stop offset="0.976" stop-color="#37a8fa"/><stop offset="0.994" stop-color="#4294ff"/></linearGradient>
<linearGradient id="h69" x1="0" y1="0" x2="0" y2="1"><stop offset="0.000" stop-color="#c8ef34"/><stop offset="0.056" stop-color="#d9e436"/><stop offset="0.102" stop-color="#eecf3a"/><stop offset="0.130" stop-color="#f8be39"/><stop offset="0.167" stop-color="#fdae35"/><stop offset="0.204" stop-color="#fcb136"/><stop offset="0.242" stop-color="#f6c33a"/><stop offset="0.297" stop-color="#dde037"/><stop offset="0.353" stop-color="#c3f134"/><stop offset="0.390" stop-color="#bcf534"/><stop offset="0.418" stop-color="#bef434"/><stop offset="0.446" stop-color="#c8ef34"/><stop offset="0.474" stop-color="#d9e436"/><stop offset="0.511" stop-color="#f1cb3a"/><stop offset="0.539" stop-color="#fcb336"/><stop offset="0.576" stop-color="#fe9029"/><stop offset="0.586" stop-color="#fc8725"/><stop offset="0.604" stop-color="#fb7e21"/><stop offset="0.623" stop-color="#fb7e21"/><stop offset="0.651" stop-color="#fe932a"/><stop offset="0.660" stop-color="#fe9b2d"/><stop offset="0.678" stop-color="#fcb336"/><stop offset="0.697" stop-color="#f4c73a"/><stop offset="0.725" stop-color="#dde037"/><stop offset="0.762" stop-color="#bcf534"/><stop offset="0.790" stop-color="#a1fd3d"/><stop offset="0.818" stop-color="#7dff56"/><stop offset="0.846" stop-color="#52fa7a"/><stop offset="0.874" stop-color="#2cf09e"/><stop offset="0.892" stop-color="#1de7b2"/><stop offset="0.911" stop-color="#18ddc2"/><stop offset="0.939" stop-color="#1fc9dd"/><stop offset="0.967" stop-color="#31aff5"/><stop offset="0.985" stop-color="#3d9efe"/><stop offset="0.994" stop-color="#4294ff"/></linearGradient>
<linearGradient id="h70" x1="0" y1="0" x2="0" y2="1"><stop offset="0.000" stop-color="#c8ef34"/><stop offset="0.046" stop-color="#d7e535"/><stop offset="0.102" stop-color="#efcd3a"/><stop offset="0.139" stop-color="#fbb838"/><stop offset="0.167" stop-color="#fdae35"/><stop offset="0.204" stop-color="#fcb136"/><stop offset="0.251" stop-color="#f2c93a"/><stop offset="0.307" stop-color="#d7e535"/><stop offset="0.353" stop-color="#c3f134"/><stop offset="0.390" stop-color="#bcf534"/><stop offset="0.418" stop-color="#bcf534"/><stop offset="0.465" stop-color="#d2e935"/><stop offset="0.502" stop-color="#ecd13a"/><stop offset="0.530" stop-color="#faba39"/><stop offset="0.567" stop-color="#fe992c"/><stop offset="0.586" stop-color="#fc8725"/><stop offset="0.604" stop-color="#fb7e21"/><stop offset="0.623" stop-color="#fb8122"/><stop offset="0.641" stop-color="#fd8a26"/><stop offset="0.669" stop-color="#fea933"/><stop offset="0.688" stop-color="#f8be39"/><stop offset="0.716" stop-color="#e5d938"/><stop offset="0.753" stop-color="#c3f134"/><stop offset="0.781" stop-color="#a9fb39"/><stop offset="0.799" stop-color="#96fe44"/><stop offset="0.818" stop-color="#7dff56"/><stop offset="0.836" stop-color="#5dfc6f"/><stop offset="0.864" stop-color="#38f491"/><stop offset="0.874" stop-color="#2cf09e"/><stop offset="0.892" stop-color="#1de7b2"/><stop offset="0.911" stop-color="#18ddc2"/><stop offset="0.929" stop-color="#1bd0d5"/><stop offset="0.957" stop-color="#2cb7f0"/><stop offset="0.976" stop-color="#38a5fb"/><stop offset="0.994" stop-color="#4294ff"/></linearGradient>
<linearGradient id="h71" x1="0" y1="0" x2="0" y2="1"><stop offset="0.000" stop-color="#cbed34"/><stop offset="0.028" stop-color="#d0ea34"/><stop offset="0.065" stop-color="#dfdf37"/><stop offset="0.102" stop-color="#f1cb3a"/><stop offset="0.139" stop-color="#fbb637"/><stop offset="0.158" stop-color="#fdae35"/><stop offset="0.177" stop-color="#fdac34"/><stop offset="0.195" stop-color="#fdae35"/><stop offset="0.242" stop-color="#f5c53a"/><stop offset="0.288" stop-color="#dfdf37"/><stop offset="0.353" stop-color="#c1f334"/><stop offset="0.390" stop-color="#b9f635"/><stop offset="0.418" stop-color="#bcf534"/><stop offset="0.465" stop-color="#d2e935"/><stop offset="0.502" stop-color="#ecd13a"/><stop offset="0.530" stop-color="#faba39"/><stop offset="0.567" stop-color="#fe962b"/><stop offset="0.586" stop-color="#fc8725"/><stop offset="0.613" stop-color="#fb7e21"/><stop offset="0.632" stop-color="#fc8423"/><stop offset="0.660" stop-color="#fea130"/><stop offset="0.688" stop-color="#f7c13a"/><stop offset="0.716" stop-color="#e5d938"/><stop offset="0.753" stop-color="#c3f134"/><stop offset="0.781" stop-color="#a9fb39"/><stop offset="0.809" stop-color="#88ff4e"/><stop offset="0.846" stop-color="#52fa7a"/><stop offset="0.864" stop-color="#35f394"/><stop offset="0.883" stop-color="#22ebaa"/><stop offset="0.901" stop-color="#19e2bb"/><stop offset="0.929" stop-color="#1bd0d5"/><stop offset="0.957" stop-color="#2cb7f0"/><stop offset="0.976" stop-color="#38a5fb"/><stop offset="0.994" stop-color="#4294ff"/></linearGradient>
<linearGradient id="h72" x1="0" y1="0" x2="0" y2="1"><stop offset="0.000" stop-color="#cbed34"/><stop offset="0.046" stop-color="#d9e436"/><stop offset="0.093" stop-color="#eecf3a"/><stop offset="0.121" stop-color="#f8be39"/><stop offset="0.158" stop-color="#fdae35"/><stop offset="0.177" stop-color="#fdac34"/><stop offset="0.214" stop-color="#fbb838"/><stop offset="0.251" stop-color="#f1cb3a"/><stop offset="0.279" stop-color="#e3db38"/><stop offset="0.316" stop-color="#d0ea34"/><stop offset="0.362" stop-color="#bef434"/><stop offset="0.400" stop-color="#b7f735"/><stop offset="0.446" stop-color="#c6f034"/><stop offset="0.483" stop-color="#dfdf37"/><stop offset="0.520" stop-color="#f7c13a"/><stop offset="0.548" stop-color="#fea933"/><stop offset="0.567" stop-color="#fe962b"/><stop offset="0.586" stop-color="#fc8725"/><stop offset="0.604" stop-color="#fb8122"/><stop offset="0.623" stop-color="#fb8122"/><stop offset="0.651" stop-color="#fe962b"/><stop offset="0.678" stop-color="#fbb838"/><stop offset="0.697" stop-color="#f2c93a"/><stop offset="0.725" stop-color="#dbe236"/><stop offset="0.762" stop-color="#b9f635"/><stop offset="0.790" stop-color="#9ffd3f"/><stop offset="0.809" stop-color="#88ff4e"/><stop offset="0.827" stop-color="#69fd66"/><stop offset="0.864" stop-color="#35f394"/><stop offset="0.883" stop-color="#22ebaa"/><stop offset="0.901" stop-color="#19e2bb"/><stop offset="0.929" stop-color="#1bd0d5"/><stop offset="0.957" stop-color="#2cb7f0"/><stop offset="0.976" stop-color="#38a5fb"/><stop offset="0.994" stop-color="#4294ff"/></linearGradient>
<linearGradient id="h73" x1="0" y1="0" x2="0" y2="1"><stop offset="0.000" stop-color="#cbed34"/><stop offset="0.037" stop-color="#d7e535"/><stop offset="0.093" stop-color="#efcd3a"/><stop offset="0.130" stop-color="#fbb838"/><stop offset="0.167" stop-color="#fdac34"/><stop offset="0.204" stop-color="#fcb336"/><stop offset="0.242" stop-color="#f4c73a"/><stop offset="0.279" stop-color="#e1dd37"/><stop offset="0.344" stop-color="#c3f134"/><stop offset="0.381" stop-color="#b7f735"/><stop offset="0.418" stop-color="#b9f635"/><stop offset="0.446" stop-color="#c6f034"/><stop offset="0.483" stop-color="#dfdf37"/><stop offset="0.520" stop-color="#f7c13a"/><stop offset="0.558" stop-color="#fe9e2f"/><stop offset="0.586" stop-color="#fc8725"/><stop offset="0.604" stop-color="#fb8122"/><stop offset="0.623" stop-color="#fc8423"/><stop offset="0.632" stop-color="#fc8725"/><stop offset="0.660" stop-color="#fea431"/><stop offset="0.688" stop-color="#f6c33a"/><stop offset="0.716" stop-color="#e3db38"/><stop offset="0.753" stop-color="#c3f134"/><stop offset="0.781" stop-color="#a7fc3a"/><stop offset="0.799" stop-color="#92ff47"/><stop offset="0.818" stop-color="#79fe59"/><stop offset="0.846" stop-color="#4ef97d"/><stop offset="0.855" stop-color="#3ff68a"/><stop offset="0.874" stop-color="#2aefa1"/><stop offset="0.892" stop-color="#1ce6b4"/><stop offset="0.911" stop-color="#18dbc5"/><stop offset="0.939" stop-color="#20c7df"/><stop offset="0.967" stop-color="#33adf7"/><stop offset="0.985" stop-color="#3e9bfe"/><stop offset="0.994" stop-color="#4294ff"/></linearGradient>
<linearGradient id="h74" x1="0" y1="0" x2="0" y2="1"><stop offset="0.000" stop-color="#cbed34"/><stop offset="0.046" stop-color="#dbe236"/><stop offset="0.093" stop-color="#f1cb3a"/><stop offset="0.139" stop-color="#fcb336"/><stop offset="0.149" stop-color="#fdae35"/><stop offset="0.177" stop-color="#fdac34"/><stop offset="0.204" stop-color="#fbb637"/><stop offset="0.242" stop-color="#f2c93a"/><stop offset="0.297" stop-color="#d7e535"/><stop offset="0.362" stop-color="#bcf534"/><stop offset="0.400" stop-color="#b4f836"/><stop offset="0.437" stop-color="#c1f334"/><stop offset="0.465" stop-color="#d2e935"/><stop offset="0.502" stop-color="#eecf3a"/><stop offset="0.530" stop-color="#fbb838"/><stop offset="0.567" stop-color="#fe962b"/><stop offset="0.586" stop-color="#fc8725"/><stop offset="0.604" stop-color="#fb8122"/><stop offset="0.623" stop-color="#fc8423"/><stop offset="0.651" stop-color="#fe992c"/><stop offset="0.678" stop-color="#faba39"/><stop offset="0.706" stop-color="#ebd339"/><stop offset="0.743" stop-color="#cbed34"/><stop offset="0.771" stop-color="#affa37"/><stop offset="0.790" stop-color="#9cfe40"/><stop offset="0.799" stop-color="#92ff47"/><stop offset="0.827" stop-color="#69fd66"/><stop offset="0.836" stop-color="#59fb73"/><stop offset="0.855" stop-color="#3ff68a"/><stop offset="0.874" stop-color="#2aefa1"/><stop offset="0.892" stop-color="#1ce6b4"/><stop offset="0.911" stop-color="#18dbc5"/><stop offset="0.939" stop-color="#20c7df"/><stop offset="0.967" stop-color="#33adf7"/><stop offset="0.985" stop-color="#3e9bfe"/><stop offset="0.994" stop-color="#4294ff"/></linearGradient>
<linearGradient id="h75" x1="0" y1="0" x2="0" y2="1"><stop offset="0.000" stop-color="#cdec34"/><stop offset="0.037" stop-color="#d9e436"/><stop offset="0.084" stop-color="#eecf3a"/><stop offset="0.121" stop-color="#faba39"/><stop offset="0.149" stop-color="#fdae35"/><stop offset="0.177" stop-color="#fdac34"/><stop offset="0.204" stop-color="#fbb637"/><stop offset="0.232" stop-color="#f5c53a"/><stop offset="0.288" stop-color="#dbe236"/><stop offset="0.344" stop-color="#c1f334"/><stop offset="0.381" stop-color="#b4f836"/><stop offset="0.418" stop-color="#b7f735"/><stop offset="0.465" stop-color="#d2e935"/><stop offset="0.502" stop-color="#eecf3a"/><stop offset="0.530" stop-color="#fbb838"/><stop offset="0.567" stop-color="#fe962b"/><stop offset="0.586" stop-color="#fc8725"/><stop offset="0.604" stop-color="#fb8122"/><stop offset="0.623" stop-color="#fc8423"/><stop offset="0.660" stop-color="#fea431"/><stop offset="0.678" stop-color="#faba39"/><stop offset="0.706" stop-color="#e9d539"/><stop offset="0.743" stop-color="#cbed34"/><stop offset="0.771" stop-color="#affa37"/><stop offset="0.790" stop-color="#9cfe40"/><stop offset="0.809" stop-color="#84ff51"/><stop offset="0.836" stop-color="#59fb73"/><stop offset="0.846" stop-color="#4af880"/><stop offset="0.864" stop-color="#32f298"/><stop offset="0.883" stop-color="#20eaac"/><stop offset="0.901" stop-color="#18e0bd"/><stop offset="0.929" stop-color="#1ccdd8"/><stop offset="0.957" stop-color="#2eb4f2"/><stop offset="0.976" stop-color="#3aa3fc"/><stop offset="0.994" stop-color="#4391fe"/></linearGradient>
<linearGradient id="h76" x1="0" y1="0" x2="0" y2="1"><stop offset="0.000" stop-color="#cdec34"/><stop offset="0.046" stop-color="#dde037"/><stop offset="0.102" stop-color="#f6c33a"/><stop offset="0.130" stop-color="#fcb336"/><stop offset="0.167" stop-color="#fdac34"/><stop offset="0.186" stop-color="#fdae35"/><stop offset="0.232" stop-color="#f5c53a"/><stop offset="0.270" stop-color="#e3db38"/><stop offset="0.335" stop-color="#c3f134"/><stop offset="0.390" stop-color="#b1f936"/><stop offset="0.428" stop-color="#b9f635"/><stop offset="0.465" stop-color="#d2e935"/><stop offset="0.493" stop-color="#e9d539"/><stop offset="0.520" stop-color="#f8be39"/><stop offset="0.558" stop-color="#fe9e2f"/><stop offset="0.576" stop-color="#fd8d27"/><stop offset="0.595" stop-color="#fc8423"/><stop offset="0.613" stop-color="#fc8423"/><stop offset="0.632" stop-color="#fd8a26"/><stop offset="0.669" stop-color="#fcb136"/><stop offset="0.697" stop-color="#efcd3a"/><stop offset="0.734" stop-color="#d2e935"/><stop offset="0.762" stop-color="#b7f735"/><stop offset="0.790" stop-color="#9cfe40"/><stop offset="0.818" stop-color="#75fe5c"/><stop offset="0.846" stop-color="#4af880"/><stop offset="0.864" stop-color="#32f298"/><stop offset="0.883" stop-color="#20eaac"/><stop offset="0.901" stop-color="#18e0bd"/><stop offset="0.929" stop-color="#1ccdd8"/><stop offset="0.957" stop-color="#2eb4f2"/><stop offset="0.976" stop-color="#3aa3fc"/><stop offset="0.994" stop-color="#4391fe"/></linearGradient>
<linearGradient id="h77" x1="0" y1="0" x2="0" y2="1"><stop offset="0.000" stop-color="#cdec34"/><stop offset="0.046" stop-color="#dfdf37"/><stop offset="0.074" stop-color="#ecd13a"/><stop offset="0.112" stop-color="#f9bc39"/><stop offset="0.139" stop-color="#fcb136"/><stop offset="0.167" stop-color="#fdac34"/><stop offset="0.204" stop-color="#fbb838"/><stop offset="0.232" stop-color="#f4c73a"/><stop offset="0.288" stop-color="#d9e436"/><stop offset="0.362" stop-color="#b7f735"/><stop offset="0.390" stop-color="#b1f936"/><stop offset="0.428" stop-color="#b9f635"/><stop offset="0.465" stop-color="#d2e935"/><stop offset="0.502" stop-color="#efcd3a"/><stop offset="0.530" stop-color="#fbb637"/><stop offset="0.558" stop-color="#fe9b2d"/><stop offset="0.576" stop-color="#fd8d27"/><stop offset="0.595" stop-color="#fc8423"/><stop offset="0.613" stop-color="#fc8423"/><stop offset="0.641" stop-color="#fe932a"/><stop offset="0.669" stop-color="#fcb136"/><stop offset="0.697" stop-color="#efcd3a"/><stop offset="0.734" stop-color="#d2e935"/><stop offset="0.762" stop-color="#b7f735"/><stop offset="0.781" stop-color="#a4fc3c"/><stop offset="0.799" stop-color="#8fff49"/><stop offset="0.818" stop-color="#75fe5c"/><stop offset="0.846" stop-color="#4af880"/><stop offset="0.855" stop-color="#3cf58e"/><stop offset="0.874" stop-color="#27eea4"/><stop offset="0.892" stop-color="#1ae4b6"/><stop offset="0.911" stop-color="#18d9c8"/><stop offset="0.939" stop-color="#22c5e2"/><stop offset="0.967" stop-color="#35abf8"/><stop offset="0.994" stop-color="#4391fe"/></linearGradient>
<linearGradient id="h78" x1="0" y1="0" x2="0" y2="1"><stop offset="0.000" stop-color="#d0ea34"/><stop offset="0.037" stop-color="#dbe236"/><stop offset="0.093" stop-color="#f5c53a"/><stop offset="0.121" stop-color="#fbb637"/><stop offset="0.149" stop-color="#fdac34"/><stop offset="0.177" stop-color="#fdae35"/><stop offset="0.204" stop-color="#fbb838"/><stop offset="0.242" stop-color="#efcd3a"/><stop offset="0.288" stop-color="#d9e436"/><stop offset="0.344" stop-color="#bef434"/><stop offset="0.381" stop-color="#b1f936"/><stop offset="0.418" stop-color="#b4f836"/><stop offset="0.465" stop-color="#d2e935"/><stop offset="0.502" stop-color="#efcd3a"/><stop offset="0.530" stop-color="#fbb637"/><stop offset="0.558" stop-color="#fe9b2d"/><stop offset="0.576" stop-color="#fd8d27"/><stop offset="0.604" stop-color="#fc8423"/><stop offset="0.623" stop-color="#fc8725"/><stop offset="0.651" stop-color="#fe9e2f"/><stop offset="0.678" stop-color="#f9bc39"/><stop offset="0.706" stop-color="#e7d739"/><stop offset="0.725" stop-color="#d9e436"/><stop offset="0.762" stop-color="#b7f735"/><stop offset="0.781" stop-color="#a4fc3c"/><stop offset="0.799" stop-color="#8fff49"/><stop offset="0.818" stop-color="#71fe5f"/><stop offset="0.846" stop-color="#4af880"/><stop offset="0.855" stop-color="#3cf58e"/><stop offset="0.874" stop-color="#27eea4"/><stop offset="0.892" stop-color="#1ae4b6"/><stop offset="0.911" stop-color="#18d9c8"/><stop offset="0.939" stop-color="#22c5e2"/><stop offset="0.967" stop-color="#35abf8"/><stop offset="0.985" stop-color="#4099ff"/><stop offset="0.994" stop-color="#4391fe"/></linearGradient>
<linearGradient id="h79" x1="0" y1="0" x2="0" y2="1"><stop offset="0.000" stop-color="#d0ea34"/><stop offset="0.028" stop-color="#d9e436"/><stop offset="0.074" stop-color="#eecf3a"/><stop offset="0.112" stop-color="#faba39"/><stop offset="0.139" stop-color="#fdae35"/><stop offset="0.167" stop-color="#fdac34"/><stop offset="0.195" stop-color="#fbb637"/><stop offset="0.232" stop-color="#f2c93a"/><stop offset="0.279" stop-color="#dde037"/><stop offset="0.344" stop-color="#bef434"/><stop offset="0.381" stop-color="#b1f936"/><stop offset="0.400" stop-color="#affa37"/><stop offset="0.428" stop-color="#b9f635"/><stop offset="0.455" stop-color="#cbed34"/><stop offset="0.493" stop-color="#e9d539"/><stop offset="0.520" stop-color="#f9bc39"/><stop offset="0.558" stop-color="#fe9b2d"/><stop offset="0.576" stop-color="#fd8d27"/><stop offset="0.604" stop-color="#fc8423"/><stop offset="0.632" stop-color="#fe9029"/><stop offset="0.651" stop-color="#fe9e2f"/><stop offset="0.678" stop-color="#f8be39"/><stop offset="0.706" stop-color="#e7d739"/><stop offset="0.743" stop-color="#c8ef34"/><stop offset="0.771" stop-color="#acfb38"/><stop offset="0.790" stop-color="#99fe42"/><stop offset="0.809" stop-color="#80ff53"/><stop offset="0.836" stop-color="#55fa76"/><stop offset="0.846" stop-color="#46f884"/><stop offset="0.864" stop-color="#2ff19b"/><stop offset="0.883" stop-color="#1fe9af"/><stop offset="0.901" stop-color="#18dec0"/><stop offset="0.929" stop-color="#1ecbda"/><stop offset="0.957" stop-color="#2eb4f2"/><stop offset="0.976" stop-color="#3aa3fc"/><stop offset="0.994" stop-color="#4391fe"/></linearGradient>
<linearGradient id="h80" x1="0" y1="0" x2="0" y2="1"><stop offset="0.000" stop-color="#d0ea34"/><stop offset="0.065" stop-color="#ebd339"/><stop offset="0.093" stop-color="#f6c33a"/><stop offset="0.121" stop-color="#fcb336"/><stop offset="0.158" stop-color="#fdac34"/><stop offset="0.186" stop-color="#fcb136"/><stop offset="0.232" stop-color="#f2c93a"/><stop offset="0.260" stop-color="#e5d938"/><stop offset="0.297" stop-color="#d2e935"/><stop offset="0.372" stop-color="#b1f936"/><stop offset="0.400" stop-color="#affa37"/><stop offset="0.428" stop-color="#b9f635"/><stop offset="0.455" stop-color="#cbed34"/><stop offset="0.493" stop-color="#ebd339"/><stop offset="0.520" stop-color="#f9bc39"/><stop offset="0.558" stop-color="#fe9b2d"/><stop offset="0.576" stop-color="#fd8d27"/><stop offset="0.604" stop-color="#fc8423"/><stop offset="0.632" stop-color="#fe9029"/><stop offset="0.669" stop-color="#fbb637"/><stop offset="0.697" stop-color="#eecf3a"/><stop offset="0.734" stop-color="#d0ea34"/><stop offset="0.762" stop-color="#b4f836"/><stop offset="0.790" stop-color="#99fe42"/><stop offset="0.818" stop-color="#71fe5f"/><stop offset="0.827" stop-color="#61fc6c"/><stop offset="0.864" stop-color="#2ff19b"/><stop offset="0.883" stop-color="#1fe9af"/><stop offset="0.901" stop-color="#18dec0"/><stop offset="0.929" stop-color="#1ecbda"/><stop offset="0.957" stop-color="#2fb2f4"/><stop offset="0.976" stop-color="#3ba0fd"/><stop offset="0.994" stop-color="#448ffe"/></linearGradient>
<linearGradient id="h81" x1="0" y1="0" x2="0" y2="1"><stop offset="0.000" stop-color="#d0ea34"/><stop offset="0.046" stop-color="#e3db38"/><stop offset="0.093" stop-color="#f7c13a"/><stop offset="0.130" stop-color="#fcb136"/><stop offset="0.158" stop-color="#fdac34"/><stop offset="0.177" stop-color="#fdae35"/><stop offset="0.223" stop-color="#f5c53a"/><stop offset="0.279" stop-color="#dbe236"/><stop offset="0.344" stop-color="#bcf534"/><stop offset="0.381" stop-color="#affa37"/><stop offset="0.409" stop-color="#affa37"/><stop offset="0.446" stop-color="#c6f034"/><stop offset="0.483" stop-color="#e3db38"/><stop offset="0.511" stop-color="#f5c53a"/><stop offset="0.539" stop-color="#fdac34"/><stop offset="0.567" stop-color="#fe962b"/><stop offset="0.595" stop-color="#fc8725"/><stop offset="0.613" stop-color="#fc8725"/><stop offset="0.632" stop-color="#fe9029"/><stop offset="0.669" stop-color="#fbb637"/><stop offset="0.697" stop-color="#eecf3a"/><stop offset="0.734" stop-color="#d0ea34"/><stop offset="0.762" stop-color="#b4f836"/><stop offset="0.781" stop-color="#a1fd3d"/><stop offset="0.799" stop-color="#8bff4b"/><stop offset="0.827" stop-color="#61fc6c"/><stop offset="0.836" stop-color="#52fa7a"/><stop offset="0.855" stop-color="#38f491"/><stop offset="0.874" stop-color="#25eca7"/><stop offset="0.892" stop-color="#19e3b9"/><stop offset="0.920" stop-color="#1ad2d2"/><stop offset="0.948" stop-color="#28bceb"/><stop offset="0.967" stop-color="#35abf8"/><stop offset="0.985" stop-color="#4099ff"/><stop offset="0.994" stop-color="#448ffe"/></linearGradient>
<linearGradient id="h82" x1="0" y1="0" x2="0" y2="1"><stop offset="0.000" stop-color="#d2e935"/><stop offset="0.037" stop-color="#dfdf37"/><stop offset="0.084" stop-color="#f5c53a"/><stop offset="0.112" stop-color="#fbb637"/><stop offset="0.139" stop-color="#fdac34"/><stop offset="0.177" stop-color="#fdae35"/><stop offset="0.223" stop-color="#f4c73a"/><stop offset="0.279" stop-color="#dbe236"/><stop offset="0.344" stop-color="#bcf534"/><stop offset="0.381" stop-color="#affa37"/><stop offset="0.409" stop-color="#affa37"/><stop offset="0.446" stop-color="#c6f034"/><stop offset="0.483" stop-color="#e3db38"/><stop offset="0.511" stop-color="#f6c33a"/><stop offset="0.548" stop-color="#fea431"/><stop offset="0.586" stop-color="#fd8a26"/><stop offset="0.604" stop-color="#fc8725"/><stop offset="0.613" stop-color="#fc8725"/><stop offset="0.641" stop-color="#fe992c"/><stop offset="0.669" stop-color="#fbb637"/><stop offset="0.697" stop-color="#ecd13a"/><stop offset="0.734" stop-color="#d0ea34"/><stop offset="0.762" stop-color="#b4f836"/><stop offset="0.781" stop-color="#a1fd3d"/><stop offset="0.799" stop-color="#8bff4b"/><stop offset="0.818" stop-color="#6dfe62"/><stop offset="0.855" stop-color="#38f491"/><stop offset="0.874" stop-color="#25eca7"/><stop offset="0.892" stop-color="#19e3b9"/><stop offset="0.920" stop-color="#1ad2d2"/><stop offset="0.948" stop-color="#2ab9ee"/><stop offset="0.976" stop-color="#3ba0fd"/><stop offset="0.994" stop-color="#448ffe"/></linearGradient>
<linearGradient id="h83" x1="0" y1="0" x2="0" y2="1"><stop offset="0.000" stop-color="#d2e935"/><stop offset="0.046" stop-color="#e5d938"/><stop offset="0.093" stop-color="#f8be39"/><stop offset="0.130" stop-color="#fdae35"/><stop offset="0.158" stop-color="#fdac34"/><stop offset="0.195" stop-color="#fbb838"/><stop offset="0.223" stop-color="#f4c73a"/><stop offset="0.270" stop-color="#dfdf37"/><stop offset="0.335" stop-color="#c1f334"/><stop offset="0.362" stop-color="#b4f836"/><stop offset="0.390" stop-color="#acfb38"/><stop offset="0.409" stop-color="#affa37"/><stop offset="0.446" stop-color="#c6f034"/><stop offset="0.474" stop-color="#dde037"/><stop offset="0.511" stop-color="#f6c33a"/><stop offset="0.548" stop-color="#fea431"/><stop offset="0.586" stop-color="#fd8a26"/><stop offset="0.604" stop-color="#fc8725"/><stop offset="0.632" stop-color="#fe932a"/><stop offset="0.669" stop-color="#fbb838"/><stop offset="0.697" stop-color="#ecd13a"/><stop offset="0.734" stop-color="#cdec34"/><stop offset="0.762" stop-color="#b4f836"/><stop offset="0.781" stop-color="#a1fd3d"/><stop offset="0.809" stop-color="#7dff56"/><stop offset="0.836" stop-color="#52fa7a"/><stop offset="0.846" stop-color="#43f787"/><stop offset="0.864" stop-color="#2cf09e"/><stop offset="0.883" stop-color="#1de7b2"/><stop offset="0.901" stop-color="#18ddc2"/><stop offset="0.920" stop-color="#1ad2d2"/><stop offset="0.948" stop-color="#2ab9ee"/><stop offset="0.976" stop-color="#3ba0fd"/><stop offset="0.994" stop-color="#448ffe"/></linearGradient>
<linearGradient id="h84" x1="0" y1="0" x2="0" y2="1"><stop offset="0.000" stop-color="#d2e935"/><stop offset="0.046" stop-color="#e5d938"/><stop offset="0.093" stop-color="#f8be39"/><stop offset="0.130" stop-color="#fdae35"/><stop offset="0.158" stop-color="#fdac34"/><stop offset="0.195" stop-color="#fbb838"/><stop offset="0.242" stop-color="#ecd13a"/><stop offset="0.297" stop-color="#d2e935"/><stop offset="0.362" stop-color="#b4f836"/><stop offset="0.390" stop-color="#acfb38"/><stop offset="0.409" stop-color="#affa37"/><stop offset="0.446" stop-color="#c6f034"/><stop offset="0.474" stop-color="#dde037"/><stop offset="0.511" stop-color="#f6c33a"/><stop offset="0.548" stop-color="#fea431"/><stop offset="0.586" stop-color="#fd8a26"/><stop offset="0.604" stop-color="#fc8725"/><stop offset="0.632" stop-color="#fe932a"/><stop offset="0.669" stop-color="#fbb838"/><stop offset="0.697" stop-color="#ecd13a"/><stop offset="0.734" stop-color="#cdec34"/><stop offset="0.762" stop-color="#b4f836"/><stop offset="0.790" stop-color="#96fe44"/><stop offset="0.809" stop-color="#7dff56"/><stop offset="0.827" stop-color="#5dfc6f"/><stop offset="0.855" stop-color="#38f491"/><stop offset="0.864" stop-color="#2cf09e"/><stop offset="0.883" stop-color="#1de7b2"/><stop offset="0.901" stop-color="#18ddc2"/><stop offset="0.929" stop-color="#1fc9dd"/><stop offset="0.957" stop-color="#31aff5"/><stop offset="0.976" stop-color="#3d9efe"/><stop offset="0.994" stop-color="#448ffe"/></linearGradient>
</defs>
<g clip-path="url(#hc)"><g filter="url(#hb)">
<rect x="370.80" y="309.30" width="3.60" height="215.20" fill="url(#h0)"/>
<rect x="373.80" y="309.30" width="3.60" height="215.20" fill="url(#h1)"/>
<rect x="376.80" y="309.30" width="3.60" height="215.20" fill="url(#h2)"/>
<rect x="379.80" y="309.30" width="3.60" height="215.20" fill="url(#h3)"/>
<rect x="382.80" y="309.30" width="3.60" height="215.20" fill="url(#h4)"/>
<rect x="385.80" y="309.30" width="3.60" height="215.20" fill="url(#h5)"/>
<rect x="388.80" y="309.30" width="3.60" height="215.20" fill="url(#h6)"/>
<rect x="391.80" y="309.30" width="3.60" height="215.20" fill="url(#h7)"/>
<rect x="394.80" y="309.30" width="3.60" height="215.20" fill="url(#h8)"/>
<rect x="397.80" y="309.30" width="3.60" height="215.20" fill="url(#h9)"/>
<rect x="400.80" y="309.30" width="3.60" height="215.20" fill="url(#h10)"/>
<rect x="403.80" y="309.30" width="3.60" height="215.20" fill="url(#h11)"/>
<rect x="406.80" y="309.30" width="3.60" height="215.20" fill="url(#h12)"/>
<rect x="409.80" y="309.30" width="3.60" height="215.20" fill="url(#h13)"/>
<rect x="412.80" y="309.30" width="3.60" height="215.20" fill="url(#h14)"/>
<rect x="415.80" y="309.30" width="3.60" height="215.20" fill="url(#h15)"/>
<rect x="418.80" y="309.30" width="3.60" height="215.20" fill="url(#h16)"/>
<rect x="421.80" y="309.30" width="3.60" height="215.20" fill="url(#h17)"/>
<rect x="424.80" y="309.30" width="3.60" height="215.20" fill="url(#h18)"/>
<rect x="427.80" y="309.30" width="3.60" height="215.20" fill="url(#h19)"/>
<rect x="430.80" y="309.30" width="3.60" height="215.20" fill="url(#h20)"/>
<rect x="433.80" y="309.30" width="3.60" height="215.20" fill="url(#h21)"/>
<rect x="436.80" y="309.30" width="3.60" height="215.20" fill="url(#h22)"/>
<rect x="439.80" y="309.30" width="3.60" height="215.20" fill="url(#h23)"/>
<rect x="442.80" y="309.30" width="3.60" height="215.20" fill="url(#h24)"/>
<rect x="445.80" y="309.30" width="3.60" height="215.20" fill="url(#h25)"/>
<rect x="448.80" y="309.30" width="3.60" height="215.20" fill="url(#h26)"/>
<rect x="451.80" y="309.30" width="3.60" height="215.20" fill="url(#h27)"/>
<rect x="454.80" y="309.30" width="3.60" height="215.20" fill="url(#h28)"/>
<rect x="457.80" y="309.30" width="3.60" height="215.20" fill="url(#h29)"/>
<rect x="460.80" y="309.30" width="3.60" height="215.20" fill="url(#h30)"/>
<rect x="463.80" y="309.30" width="3.60" height="215.20" fill="url(#h31)"/>
<rect x="466.80" y="309.30" width="3.60" height="215.20" fill="url(#h32)"/>
<rect x="469.80" y="309.30" width="3.60" height="215.20" fill="url(#h33)"/>
<rect x="472.80" y="309.30" width="3.60" height="215.20" fill="url(#h34)"/>
<rect x="475.80" y="309.30" width="3.60" height="215.20" fill="url(#h35)"/>
<rect x="478.80" y="309.30" width="3.60" height="215.20" fill="url(#h36)"/>
<rect x="481.80" y="309.30" width="3.60" height="215.20" fill="url(#h37)"/>
<rect x="484.80" y="309.30" width="3.60" height="215.20" fill="url(#h38)"/>
<rect x="487.80" y="309.30" width="3.60" height="215.20" fill="url(#h39)"/>
<rect x="490.80" y="309.30" width="3.60" height="215.20" fill="url(#h40)"/>
<rect x="493.80" y="309.30" width="3.60" height="215.20" fill="url(#h41)"/>
<rect x="496.80" y="309.30" width="3.60" height="215.20" fill="url(#h42)"/>
<rect x="499.80" y="309.30" width="3.60" height="215.20" fill="url(#h43)"/>
<rect x="502.80" y="309.30" width="3.60" height="215.20" fill="url(#h44)"/>
<rect x="505.80" y="309.30" width="3.60" height="215.20" fill="url(#h45)"/>
<rect x="508.80" y="309.30" width="3.60" height="215.20" fill="url(#h46)"/>
<rect x="511.80" y="309.30" width="3.60" height="215.20" fill="url(#h47)"/>
<rect x="514.80" y="309.30" width="3.60" height="215.20" fill="url(#h48)"/>
<rect x="517.80" y="309.30" width="3.60" height="215.20" fill="url(#h49)"/>
<rect x="520.80" y="309.30" width="3.60" height="215.20" fill="url(#h50)"/>
<rect x="523.80" y="309.30" width="3.60" height="215.20" fill="url(#h51)"/>
<rect x="526.80" y="309.30" width="3.60" height="215.20" fill="url(#h52)"/>
<rect x="529.80" y="309.30" width="3.60" height="215.20" fill="url(#h53)"/>
<rect x="532.80" y="309.30" width="3.60" height="215.20" fill="url(#h54)"/>
<rect x="535.80" y="309.30" width="3.60" height="215.20" fill="url(#h55)"/>
<rect x="538.80" y="309.30" width="3.60" height="215.20" fill="url(#h56)"/>
<rect x="541.80" y="309.30" width="3.60" height="215.20" fill="url(#h57)"/>
<rect x="544.80" y="309.30" width="3.60" height="215.20" fill="url(#h58)"/>
<rect x="547.80" y="309.30" width="3.60" height="215.20" fill="url(#h59)"/>
<rect x="550.80" y="309.30" width="3.60" height="215.20" fill="url(#h60)"/>
<rect x="553.80" y="309.30" width="3.60" height="215.20" fill="url(#h61)"/>
<rect x="556.80" y="309.30" width="3.60" height="215.20" fill="url(#h62)"/>
<rect x="559.80" y="309.30" width="3.60" height="215.20" fill="url(#h63)"/>
<rect x="562.80" y="309.30" width="3.60" height="215.20" fill="url(#h64)"/>
<rect x="565.80" y="309.30" width="3.60" height="215.20" fill="url(#h65)"/>
<rect x="568.80" y="309.30" width="3.60" height="215.20" fill="url(#h66)"/>
<rect x="571.80" y="309.30" width="3.60" height="215.20" fill="url(#h67)"/>
<rect x="574.80" y="309.30" width="3.60" height="215.20" fill="url(#h68)"/>
<rect x="577.80" y="309.30" width="3.60" height="215.20" fill="url(#h69)"/>
<rect x="580.80" y="309.30" width="3.60" height="215.20" fill="url(#h70)"/>
<rect x="583.80" y="309.30" width="3.60" height="215.20" fill="url(#h71)"/>
<rect x="586.80" y="309.30" width="3.60" height="215.20" fill="url(#h72)"/>
<rect x="589.80" y="309.30" width="3.60" height="215.20" fill="url(#h73)"/>
<rect x="592.80" y="309.30" width="3.60" height="215.20" fill="url(#h74)"/>
<rect x="595.80" y="309.30" width="3.60" height="215.20" fill="url(#h75)"/>
<rect x="598.80" y="309.30" width="3.60" height="215.20" fill="url(#h76)"/>
<rect x="601.80" y="309.30" width="3.60" height="215.20" fill="url(#h77)"/>
<rect x="604.80" y="309.30" width="3.60" height="215.20" fill="url(#h78)"/>
<rect x="607.80" y="309.30" width="3.60" height="215.20" fill="url(#h79)"/>
<rect x="610.80" y="309.30" width="3.60" height="215.20" fill="url(#h80)"/>
<rect x="613.80" y="309.30" width="3.60" height="215.20" fill="url(#h81)"/>
<rect x="616.80" y="309.30" width="3.60" height="215.20" fill="url(#h82)"/>
<rect x="619.80" y="309.30" width="3.60" height="215.20" fill="url(#h83)"/>
<rect x="622.80" y="309.30" width="0.60" height="215.20" fill="url(#h84)"/>
</g></g>
<rect x="374.8" y="313.3" width="244.6" height="207.2" fill="none" stroke="#231f20" stroke-width="2.1"/>
<line x1="389.4" y1="520.5" x2="389.4" y2="515.3" stroke="#231f20" stroke-width="1.8"/>
<line x1="418.1" y1="520.5" x2="418.1" y2="517.5" stroke="#231f20" stroke-width="1.8"/>
<line x1="446.9" y1="520.5" x2="446.9" y2="515.3" stroke="#231f20" stroke-width="1.8"/>
<line x1="475.6" y1="520.5" x2="475.6" y2="517.5" stroke="#231f20" stroke-width="1.8"/>
<line x1="504.4" y1="520.5" x2="504.4" y2="515.3" stroke="#231f20" stroke-width="1.8"/>
<line x1="533.1" y1="520.5" x2="533.1" y2="517.5" stroke="#231f20" stroke-width="1.8"/>
<line x1="561.9" y1="520.5" x2="561.9" y2="515.3" stroke="#231f20" stroke-width="1.8"/>
<line x1="590.6" y1="520.5" x2="590.6" y2="517.5" stroke="#231f20" stroke-width="1.8"/>
<line x1="374.8" y1="503.2" x2="380.0" y2="503.2" stroke="#231f20" stroke-width="1.8"/>
<line x1="374.8" y1="460.0" x2="377.8" y2="460.0" stroke="#231f20" stroke-width="1.8"/>
<line x1="374.8" y1="416.9" x2="380.0" y2="416.9" stroke="#231f20" stroke-width="1.8"/>
<line x1="374.8" y1="373.7" x2="377.8" y2="373.7" stroke="#231f20" stroke-width="1.8"/>
<line x1="374.8" y1="330.5" x2="380.0" y2="330.5" stroke="#231f20" stroke-width="1.8"/>
<line x1="374.8" y1="423.6" x2="619.4" y2="423.6" stroke="#000" stroke-width="2.4" stroke-dasharray="7 7"/>
<text x="545.30" y="412.60" font-size="17.45" font-weight="bold" textLength="66.40" lengthAdjust="spacingAndGlyphs">Phonon</text>
<g stroke="#000" stroke-width="1.45" fill="none"><path d="M386.5 392.7V406.9M383.9 392.7H389.1M383.9 406.9H389.1"/><circle cx="386.5" cy="399.7" r="3.25"/></g>
<g stroke="#000" stroke-width="1.45" fill="none"><path d="M427.6 394.2V405.3M425.0 394.2H430.2M425.0 405.3H430.2"/><circle cx="427.6" cy="399.9" r="3.25"/></g>
<g stroke="#000" stroke-width="1.45" fill="none"><path d="M461.8 385.6V396.5M459.2 385.6H464.4M459.2 396.5H464.4"/><circle cx="461.8" cy="391.1" r="3.25"/></g>
<g stroke="#000" stroke-width="1.45" fill="none"><path d="M475.6 383.0V393.5M473.0 383.0H478.2M473.0 393.5H478.2"/><circle cx="475.6" cy="388.2" r="3.25"/></g>
<g stroke="#000" stroke-width="1.45" fill="none"><path d="M526.2 363.3V374.2M523.6 363.3H528.8M523.6 374.2H528.8"/><circle cx="526.2" cy="368.9" r="3.25"/></g>
<g stroke="#000" stroke-width="1.45" fill="none"><path d="M386.5 470.9V484.9M383.9 470.9H389.1M383.9 484.9H389.1"/><circle cx="386.5" cy="477.4" r="3.25"/></g>
<g stroke="#000" stroke-width="1.45" fill="none"><path d="M427.6 465.7V483.2M425.0 465.7H430.2M425.0 483.2H430.2"/><circle cx="427.6" cy="474.2" r="3.25"/></g>
<g stroke="#000" stroke-width="1.45" fill="none"><path d="M461.8 458.6V476.0M459.2 458.6H464.4M459.2 476.0H464.4"/><circle cx="461.8" cy="467.2" r="3.25"/></g>
<g stroke="#000" stroke-width="1.45" fill="none"><path d="M475.6 453.1V470.7M473.0 453.1H478.2M473.0 470.7H478.2"/><circle cx="475.6" cy="461.9" r="3.25"/></g>
<g stroke="#000" stroke-width="1.45" fill="none"><path d="M526.2 439.6V457.1M523.6 439.6H528.8M523.6 457.1H528.8"/><circle cx="526.2" cy="448.1" r="3.25"/></g>
<g stroke="#000" stroke-width="1.4" fill="none"><path d="M396.2 324.1V338.9M393.7 324.1H398.7M393.7 338.9H398.7"/><circle cx="396.2" cy="331.8" r="2.5"/></g>
<text x="411.01" y="337.00" font-size="16.00" font-weight="bold" textLength="37.27" lengthAdjust="spacingAndGlyphs">Exp.</text>
<text transform="translate(319.80,487.41) rotate(-90)" font-size="17.75" font-weight="bold" textLength="140.94" lengthAdjust="spacingAndGlyphs">Frequency (THz)</text>
<text x="466.03" y="576.70" font-size="16.41" font-weight="bold" font-style="italic" textLength="6.88" lengthAdjust="spacingAndGlyphs">f</text>
<text x="471.59" y="582.30" font-size="10.47" font-weight="bold" textLength="20.63" lengthAdjust="spacingAndGlyphs">BIC</text>
<line x1="497.9" y1="576.6" x2="503.4" y2="564.9" stroke="#000" stroke-width="2.0"/>
<text x="507.93" y="576.70" font-size="16.41" font-weight="bold" font-style="italic" textLength="6.88" lengthAdjust="spacingAndGlyphs">f</text>
<text x="514.54" y="582.30" font-size="10.47" font-weight="bold" textLength="14.33" lengthAdjust="spacingAndGlyphs">Ph</text>
<text x="301.73" y="313.10" font-size="30.33" font-weight="bold" textLength="16.20" lengthAdjust="spacingAndGlyphs">c</text>
<text x="339.21" y="338.32" font-size="17.78" font-weight="bold" textLength="25.70" lengthAdjust="spacingAndGlyphs">1.5</text>
<text x="339.79" y="424.42" font-size="17.78" font-weight="bold" textLength="25.34" lengthAdjust="spacingAndGlyphs">1.0</text>
<text x="339.56" y="511.32" font-size="17.53" font-weight="bold" textLength="25.34" lengthAdjust="spacingAndGlyphs">0.5</text>
<text x="376.64" y="544.73" font-size="17.39" font-weight="bold" textLength="25.38" lengthAdjust="spacingAndGlyphs">0.7</text>
<text x="433.77" y="544.73" font-size="17.39" font-weight="bold" textLength="25.38" lengthAdjust="spacingAndGlyphs">0.9</text>
<text x="490.82" y="544.90" font-size="17.89" font-weight="bold" textLength="26.12" lengthAdjust="spacingAndGlyphs">1.1</text>
<text x="549.51" y="544.68" font-size="17.58" font-weight="bold" textLength="25.29" lengthAdjust="spacingAndGlyphs">1.3</text>
<text x="606.31" y="544.72" font-size="17.63" font-weight="bold" textLength="25.74" lengthAdjust="spacingAndGlyphs">1.5</text>
<defs><linearGradient id="cbg" x1="0" y1="0" x2="0" y2="1"><stop offset="0.000" stop-color="#30123b"/><stop offset="0.025" stop-color="#372466"/><stop offset="0.050" stop-color="#3d358b"/><stop offset="0.075" stop-color="#4249b1"/><stop offset="0.100" stop-color="#4559cb"/><stop offset="0.125" stop-color="#466be3"/><stop offset="0.150" stop-color="#477bf2"/><stop offset="0.175" stop-color="#458afc"/><stop offset="0.200" stop-color="#3e9bfe"/><stop offset="0.225" stop-color="#35abf8"/><stop offset="0.250" stop-color="#28bceb"/><stop offset="0.275" stop-color="#1fc9dd"/><stop offset="0.300" stop-color="#19d5cd"/><stop offset="0.325" stop-color="#19e2bb"/><stop offset="0.350" stop-color="#20eaac"/><stop offset="0.375" stop-color="#32f298"/><stop offset="0.400" stop-color="#46f884"/><stop offset="0.425" stop-color="#5dfc6f"/><stop offset="0.450" stop-color="#79fe59"/><stop offset="0.475" stop-color="#8fff49"/><stop offset="0.500" stop-color="#a4fc3c"/><stop offset="0.525" stop-color="#b4f836"/><stop offset="0.550" stop-color="#c3f134"/><stop offset="0.575" stop-color="#d4e735"/><stop offset="0.600" stop-color="#e1dd37"/><stop offset="0.625" stop-color="#eecf3a"/><stop offset="0.650" stop-color="#f6c33a"/><stop offset="0.675" stop-color="#fbb637"/><stop offset="0.700" stop-color="#fea431"/><stop offset="0.725" stop-color="#fe932a"/><stop offset="0.750" stop-color="#fb7e21"/><stop offset="0.775" stop-color="#f66c19"/><stop offset="0.800" stop-color="#f05b12"/><stop offset="0.825" stop-color="#e7490c"/><stop offset="0.850" stop-color="#dd3d08"/><stop offset="0.875" stop-color="#d02f05"/><stop offset="0.900" stop-color="#c32503"/><stop offset="0.925" stop-color="#b41b01"/><stop offset="0.950" stop-color="#a11201"/><stop offset="0.975" stop-color="#8e0a01"/><stop offset="1.000" stop-color="#7a0403"/></linearGradient></defs><rect x="628.6" y="312.7" width="10.3" height="206.9" fill="url(#cbg)"/>
<text x="649.60" y="320.70" font-size="17.60" font-weight="bold" textLength="6.22" lengthAdjust="spacingAndGlyphs">1</text>
<text x="648.69" y="524.50" font-size="17.78" font-weight="bold" textLength="9.84" lengthAdjust="spacingAndGlyphs">0</text>
<text transform="translate(671.40,334.92) rotate(90)" font-size="17.45" font-weight="bold" textLength="163.70" lengthAdjust="spacingAndGlyphs">Transmission (a.u.)</text>
</svg>
</body></html>
